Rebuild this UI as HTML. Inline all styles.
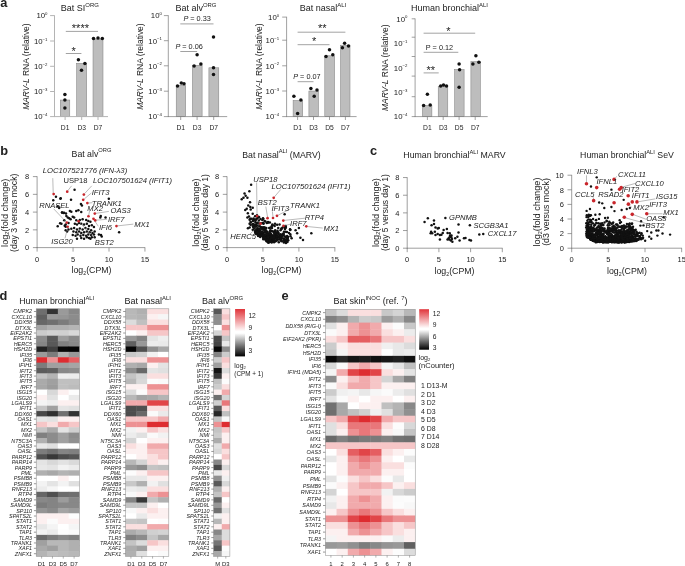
<!DOCTYPE html>
<html><head><meta charset="utf-8"><title>Figure</title>
<style>html,body{margin:0;padding:0;background:#fff}svg{display:block}text{font-family:"Liberation Sans",sans-serif;fill:#222222}</style>
</head><body>
<svg width="685" height="566" viewBox="0 0 685 566">
<rect width="685" height="566" fill="#fff"/>
<text x="0.20" y="6.70" font-size="12.8" font-weight="bold" fill="#111">a</text>
<text x="0.20" y="154.70" font-size="12.8" font-weight="bold" fill="#111">b</text>
<text x="370.00" y="154.90" font-size="12.8" font-weight="bold" fill="#111">c</text>
<text x="-0.50" y="299.60" font-size="12.8" font-weight="bold" fill="#111">d</text>
<text x="281.50" y="299.70" font-size="12.8" font-weight="bold" fill="#111">e</text>
<text x="79.80" y="11.10" font-size="9" text-anchor="middle">Bat SI<tspan font-size="0.66em" dy="-4.1">ORG</tspan></text>
<rect x="60.30" y="100.00" width="9.50" height="16.60" fill="#bdbdbd" stroke="#7d7d7d" stroke-width="0.5"/>
<rect x="76.60" y="63.30" width="10.10" height="53.30" fill="#bdbdbd" stroke="#7d7d7d" stroke-width="0.5"/>
<rect x="93.00" y="39.00" width="10.00" height="77.60" fill="#bdbdbd" stroke="#7d7d7d" stroke-width="0.5"/>
<line x1="54.50" y1="15.30" x2="54.50" y2="116.95" stroke="#b4b4b4" stroke-width="1.0"/>
<line x1="54.15" y1="116.60" x2="108.00" y2="116.60" stroke="#b4b4b4" stroke-width="1.0"/>
<line x1="50.10" y1="15.60" x2="54.50" y2="15.60" stroke="#b4b4b4" stroke-width="1.0"/>
<line x1="50.10" y1="41.00" x2="54.50" y2="41.00" stroke="#b4b4b4" stroke-width="1.0"/>
<line x1="50.10" y1="66.30" x2="54.50" y2="66.30" stroke="#b4b4b4" stroke-width="1.0"/>
<line x1="50.10" y1="91.50" x2="54.50" y2="91.50" stroke="#b4b4b4" stroke-width="1.0"/>
<line x1="50.10" y1="116.60" x2="54.50" y2="116.60" stroke="#b4b4b4" stroke-width="1.0"/>
<text x="47.50" y="18.40" font-size="7.8" text-anchor="end">10<tspan font-size="4.3" dy="-3.3">0</tspan></text>
<text x="47.50" y="43.80" font-size="7.8" text-anchor="end">10<tspan font-size="4.3" dy="-3.3">−1</tspan></text>
<text x="47.50" y="69.10" font-size="7.8" text-anchor="end">10<tspan font-size="4.3" dy="-3.3">−2</tspan></text>
<text x="47.50" y="94.30" font-size="7.8" text-anchor="end">10<tspan font-size="4.3" dy="-3.3">−3</tspan></text>
<text x="47.50" y="119.40" font-size="7.8" text-anchor="end">10<tspan font-size="4.3" dy="-3.3">−4</tspan></text>
<text x="29.50" y="66.60" font-size="8.5" text-anchor="middle" transform="rotate(-90 29.50 66.60)" textLength="86.5" lengthAdjust="spacingAndGlyphs"><tspan font-style="italic">MARV-L</tspan> RNA (relative)</text>
<line x1="65.10" y1="116.60" x2="65.10" y2="120.00" stroke="#b4b4b4" stroke-width="1.0"/>
<text x="65.10" y="130.40" font-size="7.4" text-anchor="middle" textLength="8.6" lengthAdjust="spacingAndGlyphs">D1</text>
<line x1="81.70" y1="116.60" x2="81.70" y2="120.00" stroke="#b4b4b4" stroke-width="1.0"/>
<text x="81.70" y="130.40" font-size="7.4" text-anchor="middle" textLength="8.6" lengthAdjust="spacingAndGlyphs">D3</text>
<line x1="98.00" y1="116.60" x2="98.00" y2="120.00" stroke="#b4b4b4" stroke-width="1.0"/>
<text x="98.00" y="130.40" font-size="7.4" text-anchor="middle" textLength="8.6" lengthAdjust="spacingAndGlyphs">D7</text>
<line x1="65.80" y1="31.40" x2="98.00" y2="31.40" stroke="#8a8a8a" stroke-width="0.8"/>
<text x="80.40" y="32.20" font-size="11" text-anchor="middle">****</text>
<line x1="65.80" y1="53.50" x2="81.40" y2="53.50" stroke="#8a8a8a" stroke-width="0.8"/>
<text x="73.60" y="55.20" font-size="11" text-anchor="middle">*</text>
<circle cx="64.90" cy="94.60" r="1.75" fill="#111"/>
<circle cx="64.90" cy="100.10" r="1.75" fill="#111"/>
<circle cx="64.90" cy="107.90" r="1.75" fill="#111"/>
<circle cx="78.40" cy="59.80" r="1.75" fill="#111"/>
<circle cx="84.90" cy="63.60" r="1.75" fill="#111"/>
<circle cx="81.50" cy="70.20" r="1.75" fill="#111"/>
<circle cx="93.50" cy="38.40" r="1.75" fill="#111"/>
<circle cx="98.00" cy="37.90" r="1.75" fill="#111"/>
<circle cx="102.30" cy="38.40" r="1.75" fill="#111"/>
<text x="195.90" y="11.10" font-size="9" text-anchor="middle">Bat alv<tspan font-size="0.66em" dy="-4.1">ORG</tspan></text>
<rect x="176.20" y="85.40" width="9.50" height="31.20" fill="#bdbdbd" stroke="#7d7d7d" stroke-width="0.5"/>
<rect x="192.40" y="65.30" width="9.70" height="51.30" fill="#bdbdbd" stroke="#7d7d7d" stroke-width="0.5"/>
<rect x="208.90" y="67.80" width="9.90" height="48.80" fill="#bdbdbd" stroke="#7d7d7d" stroke-width="0.5"/>
<line x1="168.30" y1="15.30" x2="168.30" y2="116.95" stroke="#787878" stroke-width="0.7"/>
<line x1="167.95" y1="116.60" x2="227.20" y2="116.60" stroke="#787878" stroke-width="0.7"/>
<line x1="163.90" y1="15.60" x2="168.30" y2="15.60" stroke="#787878" stroke-width="0.7"/>
<line x1="163.90" y1="40.70" x2="168.30" y2="40.70" stroke="#787878" stroke-width="0.7"/>
<line x1="163.90" y1="65.80" x2="168.30" y2="65.80" stroke="#787878" stroke-width="0.7"/>
<line x1="163.90" y1="91.20" x2="168.30" y2="91.20" stroke="#787878" stroke-width="0.7"/>
<line x1="163.90" y1="116.60" x2="168.30" y2="116.60" stroke="#787878" stroke-width="0.7"/>
<text x="161.90" y="18.40" font-size="7.8" text-anchor="end">10<tspan font-size="4.3" dy="-3.3">0</tspan></text>
<text x="161.90" y="43.50" font-size="7.8" text-anchor="end">10<tspan font-size="4.3" dy="-3.3">−1</tspan></text>
<text x="161.90" y="68.60" font-size="7.8" text-anchor="end">10<tspan font-size="4.3" dy="-3.3">−2</tspan></text>
<text x="161.90" y="94.00" font-size="7.8" text-anchor="end">10<tspan font-size="4.3" dy="-3.3">−3</tspan></text>
<text x="161.90" y="119.40" font-size="7.8" text-anchor="end">10<tspan font-size="4.3" dy="-3.3">−4</tspan></text>
<text x="143.10" y="66.60" font-size="8.5" text-anchor="middle" transform="rotate(-90 143.10 66.60)" textLength="86.5" lengthAdjust="spacingAndGlyphs"><tspan font-style="italic">MARV-L</tspan> RNA (relative)</text>
<line x1="180.70" y1="116.60" x2="180.70" y2="120.00" stroke="#787878" stroke-width="0.7"/>
<text x="180.70" y="130.40" font-size="7.4" text-anchor="middle" textLength="8.6" lengthAdjust="spacingAndGlyphs">D1</text>
<line x1="197.10" y1="116.60" x2="197.10" y2="120.00" stroke="#787878" stroke-width="0.7"/>
<text x="197.10" y="130.40" font-size="7.4" text-anchor="middle" textLength="8.6" lengthAdjust="spacingAndGlyphs">D3</text>
<line x1="213.70" y1="116.60" x2="213.70" y2="120.00" stroke="#787878" stroke-width="0.7"/>
<text x="213.70" y="130.40" font-size="7.4" text-anchor="middle" textLength="8.6" lengthAdjust="spacingAndGlyphs">D7</text>
<line x1="180.30" y1="23.90" x2="213.50" y2="23.90" stroke="#8a8a8a" stroke-width="0.8"/>
<text x="197.10" y="20.80" font-size="7.3" text-anchor="middle"><tspan font-style="italic">P</tspan> = 0.33</text>
<line x1="180.30" y1="51.50" x2="197.10" y2="51.50" stroke="#8a8a8a" stroke-width="0.8"/>
<text x="189.10" y="49.00" font-size="7.3" text-anchor="middle"><tspan font-style="italic">P</tspan> = 0.06</text>
<circle cx="177.50" cy="85.90" r="1.75" fill="#111"/>
<circle cx="181.30" cy="82.90" r="1.75" fill="#111"/>
<circle cx="184.00" cy="83.70" r="1.75" fill="#111"/>
<circle cx="194.10" cy="66.10" r="1.75" fill="#111"/>
<circle cx="197.10" cy="54.80" r="1.75" fill="#111"/>
<circle cx="200.90" cy="64.10" r="1.75" fill="#111"/>
<circle cx="213.50" cy="36.90" r="1.75" fill="#111"/>
<circle cx="213.50" cy="67.80" r="1.75" fill="#111"/>
<circle cx="213.50" cy="74.60" r="1.75" fill="#111"/>
<text x="323.00" y="11.10" font-size="9" text-anchor="middle">Bat nasal<tspan font-size="0.66em" dy="-4.1">ALI</tspan></text>
<rect x="293.10" y="100.50" width="9.60" height="16.10" fill="#bdbdbd" stroke="#7d7d7d" stroke-width="0.5"/>
<rect x="308.90" y="91.00" width="9.60" height="25.60" fill="#bdbdbd" stroke="#7d7d7d" stroke-width="0.5"/>
<rect x="324.80" y="55.80" width="9.80" height="60.80" fill="#bdbdbd" stroke="#7d7d7d" stroke-width="0.5"/>
<rect x="340.50" y="45.20" width="9.50" height="71.40" fill="#bdbdbd" stroke="#7d7d7d" stroke-width="0.5"/>
<line x1="286.60" y1="16.80" x2="286.60" y2="116.95" stroke="#787878" stroke-width="0.7"/>
<line x1="286.25" y1="116.60" x2="356.60" y2="116.60" stroke="#787878" stroke-width="0.7"/>
<line x1="282.20" y1="17.10" x2="286.60" y2="17.10" stroke="#787878" stroke-width="0.7"/>
<line x1="282.20" y1="40.20" x2="286.60" y2="40.20" stroke="#787878" stroke-width="0.7"/>
<line x1="282.20" y1="65.80" x2="286.60" y2="65.80" stroke="#787878" stroke-width="0.7"/>
<line x1="282.20" y1="91.00" x2="286.60" y2="91.00" stroke="#787878" stroke-width="0.7"/>
<line x1="282.20" y1="116.60" x2="286.60" y2="116.60" stroke="#787878" stroke-width="0.7"/>
<text x="279.20" y="19.90" font-size="7.8" text-anchor="end">10<tspan font-size="4.3" dy="-3.3">0</tspan></text>
<text x="279.20" y="43.00" font-size="7.8" text-anchor="end">10<tspan font-size="4.3" dy="-3.3">−1</tspan></text>
<text x="279.20" y="68.60" font-size="7.8" text-anchor="end">10<tspan font-size="4.3" dy="-3.3">−2</tspan></text>
<text x="279.20" y="93.80" font-size="7.8" text-anchor="end">10<tspan font-size="4.3" dy="-3.3">−3</tspan></text>
<text x="279.20" y="119.40" font-size="7.8" text-anchor="end">10<tspan font-size="4.3" dy="-3.3">−4</tspan></text>
<text x="262.50" y="66.60" font-size="8.5" text-anchor="middle" transform="rotate(-90 262.50 66.60)" textLength="86.5" lengthAdjust="spacingAndGlyphs"><tspan font-style="italic">MARV-L</tspan> RNA (relative)</text>
<line x1="297.60" y1="116.60" x2="297.60" y2="120.00" stroke="#787878" stroke-width="0.7"/>
<text x="297.60" y="130.40" font-size="7.4" text-anchor="middle" textLength="8.6" lengthAdjust="spacingAndGlyphs">D1</text>
<line x1="313.50" y1="116.60" x2="313.50" y2="120.00" stroke="#787878" stroke-width="0.7"/>
<text x="313.50" y="130.40" font-size="7.4" text-anchor="middle" textLength="8.6" lengthAdjust="spacingAndGlyphs">D3</text>
<line x1="329.50" y1="116.60" x2="329.50" y2="120.00" stroke="#787878" stroke-width="0.7"/>
<text x="329.50" y="130.40" font-size="7.4" text-anchor="middle" textLength="8.6" lengthAdjust="spacingAndGlyphs">D5</text>
<line x1="345.40" y1="116.60" x2="345.40" y2="120.00" stroke="#787878" stroke-width="0.7"/>
<text x="345.40" y="130.40" font-size="7.4" text-anchor="middle" textLength="8.6" lengthAdjust="spacingAndGlyphs">D7</text>
<line x1="297.60" y1="32.20" x2="345.40" y2="32.20" stroke="#8a8a8a" stroke-width="0.8"/>
<text x="322.30" y="31.60" font-size="11" text-anchor="middle">**</text>
<line x1="297.60" y1="44.70" x2="329.50" y2="44.70" stroke="#8a8a8a" stroke-width="0.8"/>
<text x="314.20" y="45.40" font-size="11" text-anchor="middle">*</text>
<line x1="297.60" y1="81.70" x2="313.50" y2="81.70" stroke="#8a8a8a" stroke-width="0.8"/>
<text x="306.90" y="79.10" font-size="7.3" text-anchor="middle"><tspan font-style="italic">P</tspan> = 0.07</text>
<circle cx="293.90" cy="96.20" r="1.75" fill="#111"/>
<circle cx="300.90" cy="100.00" r="1.75" fill="#111"/>
<circle cx="297.60" cy="113.60" r="1.75" fill="#111"/>
<circle cx="310.90" cy="88.40" r="1.75" fill="#111"/>
<circle cx="317.00" cy="89.90" r="1.75" fill="#111"/>
<circle cx="314.20" cy="96.20" r="1.75" fill="#111"/>
<circle cx="326.00" cy="56.50" r="1.75" fill="#111"/>
<circle cx="329.50" cy="49.70" r="1.75" fill="#111"/>
<circle cx="332.80" cy="54.80" r="1.75" fill="#111"/>
<circle cx="342.40" cy="47.70" r="1.75" fill="#111"/>
<circle cx="344.60" cy="43.20" r="1.75" fill="#111"/>
<circle cx="348.50" cy="46.00" r="1.75" fill="#111"/>
<text x="449.50" y="11.10" font-size="9" text-anchor="middle">Human bronchial<tspan font-size="0.66em" dy="-4.1">ALI</tspan></text>
<rect x="422.40" y="105.50" width="9.50" height="11.10" fill="#bdbdbd" stroke="#7d7d7d" stroke-width="0.5"/>
<rect x="438.20" y="86.20" width="9.60" height="30.40" fill="#bdbdbd" stroke="#7d7d7d" stroke-width="0.5"/>
<rect x="454.60" y="69.60" width="9.50" height="47.00" fill="#bdbdbd" stroke="#7d7d7d" stroke-width="0.5"/>
<rect x="470.90" y="61.60" width="9.50" height="55.00" fill="#bdbdbd" stroke="#7d7d7d" stroke-width="0.5"/>
<line x1="415.10" y1="18.50" x2="415.10" y2="116.95" stroke="#787878" stroke-width="0.7"/>
<line x1="414.75" y1="116.60" x2="487.70" y2="116.60" stroke="#787878" stroke-width="0.7"/>
<line x1="411.70" y1="18.80" x2="415.10" y2="18.80" stroke="#787878" stroke-width="0.7"/>
<line x1="411.70" y1="37.20" x2="415.10" y2="37.20" stroke="#787878" stroke-width="0.7"/>
<line x1="411.70" y1="56.50" x2="415.10" y2="56.50" stroke="#787878" stroke-width="0.7"/>
<line x1="411.70" y1="76.10" x2="415.10" y2="76.10" stroke="#787878" stroke-width="0.7"/>
<line x1="411.70" y1="96.70" x2="415.10" y2="96.70" stroke="#787878" stroke-width="0.7"/>
<line x1="411.70" y1="116.60" x2="415.10" y2="116.60" stroke="#787878" stroke-width="0.7"/>
<text x="407.40" y="21.60" font-size="7.8" text-anchor="end">10<tspan font-size="4.3" dy="-3.3">0</tspan></text>
<text x="407.40" y="46.00" font-size="7.8" text-anchor="end">10<tspan font-size="4.3" dy="-3.3">−1</tspan></text>
<text x="407.40" y="70.60" font-size="7.8" text-anchor="end">10<tspan font-size="4.3" dy="-3.3">−2</tspan></text>
<text x="407.40" y="95.00" font-size="7.8" text-anchor="end">10<tspan font-size="4.3" dy="-3.3">−3</tspan></text>
<text x="407.40" y="119.40" font-size="7.8" text-anchor="end">10<tspan font-size="4.3" dy="-3.3">−4</tspan></text>
<text x="388.00" y="67.80" font-size="8.5" text-anchor="middle" transform="rotate(-90 388.00 67.80)" textLength="86.5" lengthAdjust="spacingAndGlyphs"><tspan font-style="italic">MARV-L</tspan> RNA (relative)</text>
<line x1="427.40" y1="116.60" x2="427.40" y2="120.00" stroke="#787878" stroke-width="0.7"/>
<text x="427.40" y="130.40" font-size="7.4" text-anchor="middle" textLength="8.6" lengthAdjust="spacingAndGlyphs">D1</text>
<line x1="443.20" y1="116.60" x2="443.20" y2="120.00" stroke="#787878" stroke-width="0.7"/>
<text x="443.20" y="130.40" font-size="7.4" text-anchor="middle" textLength="8.6" lengthAdjust="spacingAndGlyphs">D3</text>
<line x1="459.10" y1="116.60" x2="459.10" y2="120.00" stroke="#787878" stroke-width="0.7"/>
<text x="459.10" y="130.40" font-size="7.4" text-anchor="middle" textLength="8.6" lengthAdjust="spacingAndGlyphs">D5</text>
<line x1="475.20" y1="116.60" x2="475.20" y2="120.00" stroke="#787878" stroke-width="0.7"/>
<text x="475.20" y="130.40" font-size="7.4" text-anchor="middle" textLength="8.6" lengthAdjust="spacingAndGlyphs">D7</text>
<line x1="423.60" y1="33.20" x2="475.20" y2="33.20" stroke="#8a8a8a" stroke-width="0.8"/>
<text x="448.30" y="34.80" font-size="11" text-anchor="middle">*</text>
<line x1="423.60" y1="52.30" x2="458.30" y2="52.30" stroke="#8a8a8a" stroke-width="0.8"/>
<text x="439.50" y="49.70" font-size="7.3" text-anchor="middle">P = 0.12</text>
<line x1="423.60" y1="72.90" x2="438.70" y2="72.90" stroke="#8a8a8a" stroke-width="0.8"/>
<text x="430.70" y="74.30" font-size="11" text-anchor="middle">**</text>
<circle cx="427.40" cy="94.20" r="1.75" fill="#111"/>
<circle cx="423.60" cy="105.50" r="1.75" fill="#111"/>
<circle cx="430.20" cy="105.00" r="1.75" fill="#111"/>
<circle cx="440.70" cy="85.90" r="1.75" fill="#111"/>
<circle cx="443.50" cy="84.90" r="1.75" fill="#111"/>
<circle cx="446.50" cy="85.90" r="1.75" fill="#111"/>
<circle cx="459.10" cy="64.10" r="1.75" fill="#111"/>
<circle cx="459.60" cy="69.80" r="1.75" fill="#111"/>
<circle cx="459.10" cy="87.20" r="1.75" fill="#111"/>
<circle cx="475.90" cy="55.80" r="1.75" fill="#111"/>
<circle cx="472.90" cy="64.10" r="1.75" fill="#111"/>
<circle cx="478.90" cy="62.30" r="1.75" fill="#111"/>
<line x1="37.10" y1="176.30" x2="37.10" y2="247.90" stroke="#6a6a6a" stroke-width="0.65"/>
<line x1="36.80" y1="247.60" x2="145.20" y2="247.60" stroke="#6a6a6a" stroke-width="0.65"/>
<line x1="32.90" y1="247.60" x2="37.10" y2="247.60" stroke="#6a6a6a" stroke-width="0.65"/>
<text x="29.20" y="250.30" font-size="7.5" text-anchor="end">0</text>
<line x1="32.90" y1="229.85" x2="37.10" y2="229.85" stroke="#6a6a6a" stroke-width="0.65"/>
<text x="29.20" y="232.55" font-size="7.5" text-anchor="end">2</text>
<line x1="32.90" y1="212.10" x2="37.10" y2="212.10" stroke="#6a6a6a" stroke-width="0.65"/>
<text x="29.20" y="214.80" font-size="7.5" text-anchor="end">4</text>
<line x1="32.90" y1="194.35" x2="37.10" y2="194.35" stroke="#6a6a6a" stroke-width="0.65"/>
<text x="29.20" y="197.05" font-size="7.5" text-anchor="end">6</text>
<line x1="32.90" y1="176.60" x2="37.10" y2="176.60" stroke="#6a6a6a" stroke-width="0.65"/>
<text x="29.20" y="179.30" font-size="7.5" text-anchor="end">8</text>
<line x1="37.10" y1="247.60" x2="37.10" y2="251.60" stroke="#6a6a6a" stroke-width="0.65"/>
<text x="37.10" y="261.60" font-size="7.5" text-anchor="middle">0</text>
<line x1="73.05" y1="247.60" x2="73.05" y2="251.60" stroke="#6a6a6a" stroke-width="0.65"/>
<text x="73.05" y="261.60" font-size="7.5" text-anchor="middle">5</text>
<line x1="109.00" y1="247.60" x2="109.00" y2="251.60" stroke="#6a6a6a" stroke-width="0.65"/>
<text x="109.00" y="261.60" font-size="7.5" text-anchor="middle">10</text>
<line x1="144.95" y1="247.60" x2="144.95" y2="251.60" stroke="#6a6a6a" stroke-width="0.65"/>
<text x="144.95" y="261.60" font-size="7.5" text-anchor="middle">15</text>
<text x="91.50" y="156.50" font-size="8.75" text-anchor="middle">Bat alv<tspan font-size="0.66em" dy="-4.1">ORG</tspan></text>
<text x="7.60" y="212.80" font-size="9" text-anchor="middle" transform="rotate(-90 7.60 212.80)" textLength="68.2" lengthAdjust="spacingAndGlyphs">log<tspan font-size="0.6em" dy="1.8">2</tspan><tspan dy="-1.8">(fold change)</tspan></text>
<text x="17.30" y="212.80" font-size="9" text-anchor="middle" transform="rotate(-90 17.30 212.80)" textLength="78.4" lengthAdjust="spacingAndGlyphs">(day 3 versus mock)</text>
<text x="91.50" y="273.20" font-size="9" text-anchor="middle" textLength="40.0" lengthAdjust="spacingAndGlyphs">log<tspan font-size="0.6em" dy="1.8">2</tspan><tspan dy="-1.8">(CPM)</tspan></text>
<circle cx="74.57" cy="189.85" r="1.25" fill="#111"/>
<circle cx="71.03" cy="199.75" r="1.25" fill="#111"/>
<circle cx="60.71" cy="198.34" r="1.25" fill="#111"/>
<circle cx="108.80" cy="198.76" r="1.25" fill="#111"/>
<circle cx="80.93" cy="204.00" r="1.25" fill="#111"/>
<circle cx="81.92" cy="205.41" r="1.25" fill="#111"/>
<circle cx="62.12" cy="212.48" r="1.25" fill="#111"/>
<circle cx="63.54" cy="212.91" r="1.25" fill="#111"/>
<circle cx="69.90" cy="211.07" r="1.25" fill="#111"/>
<circle cx="71.32" cy="211.78" r="1.25" fill="#111"/>
<circle cx="76.27" cy="211.07" r="1.25" fill="#111"/>
<circle cx="78.39" cy="210.36" r="1.25" fill="#111"/>
<circle cx="81.22" cy="212.06" r="1.25" fill="#111"/>
<circle cx="66.36" cy="216.02" r="1.25" fill="#111"/>
<circle cx="67.78" cy="217.43" r="1.25" fill="#111"/>
<circle cx="69.19" cy="218.14" r="1.25" fill="#111"/>
<circle cx="70.61" cy="219.13" r="1.25" fill="#111"/>
<circle cx="72.73" cy="216.73" r="1.25" fill="#111"/>
<circle cx="74.14" cy="217.43" r="1.25" fill="#111"/>
<circle cx="100.74" cy="216.02" r="1.25" fill="#111"/>
<circle cx="100.31" cy="217.43" r="1.25" fill="#111"/>
<circle cx="105.54" cy="217.43" r="1.25" fill="#111"/>
<circle cx="64.24" cy="220.26" r="1.25" fill="#111"/>
<circle cx="61.41" cy="223.80" r="1.25" fill="#111"/>
<circle cx="65.66" cy="226.63" r="1.25" fill="#111"/>
<circle cx="68.49" cy="223.09" r="1.25" fill="#111"/>
<circle cx="76.27" cy="220.26" r="1.25" fill="#111"/>
<circle cx="79.80" cy="219.98" r="1.25" fill="#111"/>
<circle cx="82.63" cy="219.13" r="1.25" fill="#111"/>
<circle cx="86.17" cy="219.98" r="1.25" fill="#111"/>
<circle cx="88.29" cy="220.97" r="1.25" fill="#111"/>
<circle cx="90.41" cy="221.68" r="1.25" fill="#111"/>
<circle cx="74.85" cy="223.80" r="1.25" fill="#111"/>
<circle cx="76.97" cy="224.50" r="1.25" fill="#111"/>
<circle cx="79.09" cy="223.09" r="1.25" fill="#111"/>
<circle cx="81.22" cy="223.80" r="1.25" fill="#111"/>
<circle cx="84.05" cy="224.50" r="1.25" fill="#111"/>
<circle cx="86.87" cy="223.80" r="1.25" fill="#111"/>
<circle cx="89.00" cy="225.92" r="1.25" fill="#111"/>
<circle cx="91.82" cy="225.21" r="1.25" fill="#111"/>
<circle cx="93.95" cy="227.05" r="1.25" fill="#111"/>
<circle cx="68.49" cy="229.46" r="1.25" fill="#111"/>
<circle cx="71.32" cy="228.75" r="1.25" fill="#111"/>
<circle cx="74.14" cy="228.04" r="1.25" fill="#111"/>
<circle cx="76.97" cy="229.46" r="1.25" fill="#111"/>
<circle cx="79.80" cy="228.47" r="1.25" fill="#111"/>
<circle cx="82.63" cy="229.46" r="1.25" fill="#111"/>
<circle cx="85.46" cy="228.04" r="1.25" fill="#111"/>
<circle cx="88.29" cy="229.03" r="1.25" fill="#111"/>
<circle cx="91.12" cy="230.16" r="1.25" fill="#111"/>
<circle cx="67.07" cy="231.58" r="1.25" fill="#111"/>
<circle cx="73.44" cy="231.58" r="1.25" fill="#111"/>
<circle cx="76.27" cy="232.28" r="1.25" fill="#111"/>
<circle cx="79.09" cy="231.58" r="1.25" fill="#111"/>
<circle cx="81.22" cy="232.99" r="1.25" fill="#111"/>
<circle cx="84.05" cy="232.28" r="1.25" fill="#111"/>
<circle cx="86.87" cy="231.58" r="1.25" fill="#111"/>
<circle cx="89.70" cy="232.28" r="1.25" fill="#111"/>
<circle cx="92.53" cy="232.99" r="1.25" fill="#111"/>
<circle cx="94.65" cy="231.58" r="1.25" fill="#111"/>
<circle cx="72.73" cy="235.11" r="1.25" fill="#111"/>
<circle cx="75.56" cy="235.82" r="1.25" fill="#111"/>
<circle cx="77.68" cy="234.41" r="1.25" fill="#111"/>
<circle cx="80.51" cy="235.82" r="1.25" fill="#111"/>
<circle cx="83.34" cy="235.11" r="1.25" fill="#111"/>
<circle cx="86.17" cy="235.82" r="1.25" fill="#111"/>
<circle cx="88.29" cy="234.41" r="1.25" fill="#111"/>
<circle cx="91.12" cy="235.11" r="1.25" fill="#111"/>
<circle cx="93.95" cy="234.41" r="1.25" fill="#111"/>
<circle cx="98.90" cy="234.41" r="1.25" fill="#111"/>
<circle cx="101.02" cy="235.11" r="1.25" fill="#111"/>
<circle cx="101.73" cy="236.53" r="1.25" fill="#111"/>
<circle cx="76.97" cy="238.65" r="1.25" fill="#111"/>
<circle cx="81.22" cy="237.94" r="1.25" fill="#111"/>
<circle cx="84.05" cy="238.65" r="1.25" fill="#111"/>
<circle cx="86.87" cy="237.23" r="1.25" fill="#111"/>
<circle cx="89.00" cy="237.94" r="1.25" fill="#111"/>
<circle cx="90.41" cy="238.65" r="1.25" fill="#111"/>
<circle cx="91.82" cy="237.23" r="1.25" fill="#111"/>
<circle cx="94.65" cy="237.23" r="1.25" fill="#111"/>
<circle cx="119.12" cy="232.28" r="1.25" fill="#111"/>
<circle cx="60.41" cy="198.70" r="1.25" fill="#111"/>
<circle cx="55.96" cy="196.80" r="1.25" fill="#111"/>
<circle cx="53.26" cy="200.29" r="1.25" fill="#111"/>
<circle cx="59.14" cy="207.93" r="1.25" fill="#111"/>
<circle cx="57.55" cy="206.34" r="1.25" fill="#111"/>
<circle cx="62.00" cy="212.38" r="1.25" fill="#111"/>
<circle cx="64.07" cy="212.69" r="1.25" fill="#111"/>
<circle cx="65.98" cy="213.49" r="1.25" fill="#111"/>
<circle cx="60.10" cy="223.35" r="1.25" fill="#111"/>
<circle cx="57.71" cy="226.21" r="1.25" fill="#111"/>
<circle cx="64.71" cy="225.73" r="1.25" fill="#111"/>
<circle cx="65.66" cy="224.62" r="1.25" fill="#111"/>
<circle cx="65.66" cy="230.18" r="1.25" fill="#111"/>
<circle cx="53.65" cy="194.12" r="1.35" fill="#c9252b"/>
<circle cx="67.22" cy="191.71" r="1.35" fill="#c9252b"/>
<circle cx="83.86" cy="194.56" r="1.35" fill="#c9252b"/>
<circle cx="83.21" cy="199.81" r="1.35" fill="#c9252b"/>
<circle cx="87.37" cy="203.10" r="1.35" fill="#c9252b"/>
<circle cx="94.81" cy="213.61" r="1.35" fill="#c9252b"/>
<circle cx="88.46" cy="216.24" r="1.35" fill="#c9252b"/>
<circle cx="93.50" cy="218.86" r="1.35" fill="#c9252b"/>
<circle cx="95.25" cy="220.40" r="1.35" fill="#c9252b"/>
<circle cx="78.61" cy="221.27" r="1.35" fill="#c9252b"/>
<circle cx="66.79" cy="222.59" r="1.35" fill="#c9252b"/>
<circle cx="67.66" cy="226.75" r="1.35" fill="#c9252b"/>
<circle cx="116.49" cy="226.09" r="1.35" fill="#c9252b"/>
<line x1="52.77" y1="178.14" x2="53.21" y2="193.03" stroke="#777" stroke-width="0.5"/>
<line x1="71.60" y1="185.80" x2="67.88" y2="190.62" stroke="#777" stroke-width="0.5"/>
<line x1="91.75" y1="185.80" x2="84.74" y2="193.47" stroke="#777" stroke-width="0.5"/>
<line x1="91.31" y1="193.03" x2="84.30" y2="198.94" stroke="#777" stroke-width="0.5"/>
<line x1="92.40" y1="202.66" x2="88.24" y2="203.10" stroke="#777" stroke-width="0.5"/>
<line x1="108.83" y1="211.42" x2="95.69" y2="213.39" stroke="#777" stroke-width="0.5"/>
<line x1="89.56" y1="210.98" x2="88.68" y2="215.36" stroke="#777" stroke-width="0.5"/>
<line x1="107.07" y1="219.30" x2="96.13" y2="220.18" stroke="#777" stroke-width="0.5"/>
<line x1="98.32" y1="226.31" x2="94.81" y2="221.05" stroke="#777" stroke-width="0.5"/>
<line x1="133.35" y1="224.12" x2="117.58" y2="225.87" stroke="#777" stroke-width="0.5"/>
<line x1="53.65" y1="208.79" x2="66.13" y2="221.93" stroke="#777" stroke-width="0.5"/>
<line x1="65.03" y1="238.35" x2="67.66" y2="227.62" stroke="#777" stroke-width="0.5"/>
<line x1="95.69" y1="239.45" x2="79.49" y2="222.37" stroke="#777" stroke-width="0.5"/>
<text x="42.70" y="172.88" font-size="7.6" font-style="italic" textLength="84.5" lengthAdjust="spacingAndGlyphs">LOC107521776 (IFN-λ3)</text>
<text x="63.50" y="183.39" font-size="7.6">USP18</text>
<text x="93.06" y="183.39" font-size="7.6" font-style="italic" textLength="79.0" lengthAdjust="spacingAndGlyphs">LOC107501624 (IFIT1)</text>
<text x="91.75" y="194.56" font-size="7.6" font-style="italic">IFIT3</text>
<text x="91.75" y="205.51" font-size="7.6" font-style="italic">TRANK1</text>
<text x="110.58" y="212.73" font-size="7.6" font-style="italic">OAS3</text>
<text x="87.37" y="211.42" font-size="7.6" font-style="italic">MX2</text>
<text x="107.95" y="221.93" font-size="7.6" font-style="italic">IRF7</text>
<text x="98.97" y="230.25" font-size="7.6" font-style="italic">IFI6</text>
<text x="134.23" y="226.53" font-size="7.6" font-style="italic">MX1</text>
<text x="39.20" y="207.70" font-size="7.6" font-style="italic">RNASEL</text>
<text x="51.24" y="244.26" font-size="7.6" font-style="italic">ISG20</text>
<text x="94.81" y="245.36" font-size="7.6" font-style="italic">BST2</text>
<line x1="227.00" y1="176.30" x2="227.00" y2="247.90" stroke="#6a6a6a" stroke-width="0.65"/>
<line x1="226.70" y1="247.60" x2="335.20" y2="247.60" stroke="#6a6a6a" stroke-width="0.65"/>
<line x1="222.80" y1="247.60" x2="227.00" y2="247.60" stroke="#6a6a6a" stroke-width="0.65"/>
<text x="219.10" y="250.30" font-size="7.5" text-anchor="end">0</text>
<line x1="222.80" y1="229.85" x2="227.00" y2="229.85" stroke="#6a6a6a" stroke-width="0.65"/>
<text x="219.10" y="232.55" font-size="7.5" text-anchor="end">2</text>
<line x1="222.80" y1="212.10" x2="227.00" y2="212.10" stroke="#6a6a6a" stroke-width="0.65"/>
<text x="219.10" y="214.80" font-size="7.5" text-anchor="end">4</text>
<line x1="222.80" y1="194.35" x2="227.00" y2="194.35" stroke="#6a6a6a" stroke-width="0.65"/>
<text x="219.10" y="197.05" font-size="7.5" text-anchor="end">6</text>
<line x1="222.80" y1="176.60" x2="227.00" y2="176.60" stroke="#6a6a6a" stroke-width="0.65"/>
<text x="219.10" y="179.30" font-size="7.5" text-anchor="end">8</text>
<line x1="227.00" y1="247.60" x2="227.00" y2="251.60" stroke="#6a6a6a" stroke-width="0.65"/>
<text x="227.00" y="261.60" font-size="7.5" text-anchor="middle">0</text>
<line x1="262.95" y1="247.60" x2="262.95" y2="251.60" stroke="#6a6a6a" stroke-width="0.65"/>
<text x="262.95" y="261.60" font-size="7.5" text-anchor="middle">5</text>
<line x1="298.90" y1="247.60" x2="298.90" y2="251.60" stroke="#6a6a6a" stroke-width="0.65"/>
<text x="298.90" y="261.60" font-size="7.5" text-anchor="middle">10</text>
<line x1="334.85" y1="247.60" x2="334.85" y2="251.60" stroke="#6a6a6a" stroke-width="0.65"/>
<text x="334.85" y="261.60" font-size="7.5" text-anchor="middle">15</text>
<text x="281.50" y="157.50" font-size="8.75" text-anchor="middle">Bat nasal<tspan font-size="0.66em" dy="-4.1">ALI</tspan><tspan dy="4.1"> (MARV)</tspan></text>
<text x="199.00" y="212.60" font-size="9" text-anchor="middle" transform="rotate(-90 199.00 212.60)" textLength="68.2" lengthAdjust="spacingAndGlyphs">log<tspan font-size="0.6em" dy="1.8">2</tspan><tspan dy="-1.8">(fold change)</tspan></text>
<text x="208.30" y="212.60" font-size="9" text-anchor="middle" transform="rotate(-90 208.30 212.60)" textLength="77.0" lengthAdjust="spacingAndGlyphs">(day 5 versus day 1)</text>
<text x="281.50" y="273.20" font-size="9" text-anchor="middle" textLength="40.0" lengthAdjust="spacingAndGlyphs">log<tspan font-size="0.6em" dy="1.8">2</tspan><tspan dy="-1.8">(CPM)</tspan></text>
<circle cx="251.13" cy="184.71" r="1.25" fill="#111"/>
<circle cx="249.38" cy="191.28" r="1.25" fill="#111"/>
<circle cx="244.56" cy="193.47" r="1.25" fill="#111"/>
<circle cx="245.65" cy="195.65" r="1.25" fill="#111"/>
<circle cx="241.71" cy="199.16" r="1.25" fill="#111"/>
<circle cx="243.47" cy="197.84" r="1.25" fill="#111"/>
<circle cx="247.41" cy="197.84" r="1.25" fill="#111"/>
<circle cx="250.03" cy="202.22" r="1.25" fill="#111"/>
<circle cx="248.28" cy="205.51" r="1.25" fill="#111"/>
<circle cx="246.75" cy="208.79" r="1.25" fill="#111"/>
<circle cx="247.84" cy="213.17" r="1.25" fill="#111"/>
<circle cx="248.94" cy="216.46" r="1.25" fill="#111"/>
<circle cx="284.63" cy="214.27" r="1.25" fill="#111"/>
<circle cx="298.86" cy="228.06" r="1.25" fill="#111"/>
<circle cx="295.58" cy="230.25" r="1.25" fill="#111"/>
<circle cx="297.11" cy="233.32" r="1.25" fill="#111"/>
<circle cx="300.40" cy="237.70" r="1.25" fill="#111"/>
<circle cx="303.02" cy="240.10" r="1.25" fill="#111"/>
<circle cx="311.34" cy="233.32" r="1.25" fill="#111"/>
<circle cx="290.54" cy="236.16" r="1.25" fill="#111"/>
<circle cx="291.64" cy="238.35" r="1.25" fill="#111"/>
<circle cx="245.22" cy="209.89" r="1.25" fill="#111"/>
<circle cx="249.60" cy="219.74" r="1.25" fill="#111"/>
<circle cx="247.41" cy="217.55" r="1.25" fill="#111"/>
<circle cx="251.13" cy="218.65" r="1.25" fill="#111"/>
<circle cx="271.79" cy="236.76" r="1.25" fill="#111"/>
<circle cx="258.22" cy="236.10" r="1.25" fill="#111"/>
<circle cx="270.15" cy="237.81" r="1.25" fill="#111"/>
<circle cx="258.87" cy="220.50" r="1.25" fill="#111"/>
<circle cx="260.47" cy="233.03" r="1.25" fill="#111"/>
<circle cx="270.29" cy="230.24" r="1.25" fill="#111"/>
<circle cx="276.33" cy="236.73" r="1.25" fill="#111"/>
<circle cx="270.19" cy="239.10" r="1.25" fill="#111"/>
<circle cx="260.16" cy="237.07" r="1.25" fill="#111"/>
<circle cx="255.77" cy="220.05" r="1.25" fill="#111"/>
<circle cx="277.68" cy="239.67" r="1.25" fill="#111"/>
<circle cx="276.66" cy="238.93" r="1.25" fill="#111"/>
<circle cx="266.66" cy="233.49" r="1.25" fill="#111"/>
<circle cx="274.83" cy="231.34" r="1.25" fill="#111"/>
<circle cx="266.58" cy="241.27" r="1.25" fill="#111"/>
<circle cx="260.29" cy="230.60" r="1.25" fill="#111"/>
<circle cx="267.62" cy="238.94" r="1.25" fill="#111"/>
<circle cx="274.05" cy="242.15" r="1.25" fill="#111"/>
<circle cx="273.39" cy="241.79" r="1.25" fill="#111"/>
<circle cx="256.94" cy="227.16" r="1.25" fill="#111"/>
<circle cx="265.07" cy="238.52" r="1.25" fill="#111"/>
<circle cx="255.08" cy="231.38" r="1.25" fill="#111"/>
<circle cx="277.43" cy="236.54" r="1.25" fill="#111"/>
<circle cx="265.41" cy="221.55" r="1.25" fill="#111"/>
<circle cx="266.79" cy="231.78" r="1.25" fill="#111"/>
<circle cx="257.78" cy="235.00" r="1.25" fill="#111"/>
<circle cx="257.46" cy="229.80" r="1.25" fill="#111"/>
<circle cx="269.58" cy="232.02" r="1.25" fill="#111"/>
<circle cx="260.90" cy="234.05" r="1.25" fill="#111"/>
<circle cx="250.29" cy="206.89" r="1.25" fill="#111"/>
<circle cx="283.80" cy="226.24" r="1.25" fill="#111"/>
<circle cx="280.69" cy="239.64" r="1.25" fill="#111"/>
<circle cx="268.00" cy="222.43" r="1.25" fill="#111"/>
<circle cx="267.03" cy="232.07" r="1.25" fill="#111"/>
<circle cx="283.96" cy="231.78" r="1.25" fill="#111"/>
<circle cx="260.17" cy="235.17" r="1.25" fill="#111"/>
<circle cx="256.53" cy="224.12" r="1.25" fill="#111"/>
<circle cx="266.45" cy="237.59" r="1.25" fill="#111"/>
<circle cx="268.40" cy="236.17" r="1.25" fill="#111"/>
<circle cx="262.98" cy="223.11" r="1.25" fill="#111"/>
<circle cx="256.56" cy="216.08" r="1.25" fill="#111"/>
<circle cx="272.28" cy="224.38" r="1.25" fill="#111"/>
<circle cx="267.05" cy="241.37" r="1.25" fill="#111"/>
<circle cx="272.67" cy="240.90" r="1.25" fill="#111"/>
<circle cx="278.80" cy="242.20" r="1.25" fill="#111"/>
<circle cx="272.85" cy="238.69" r="1.25" fill="#111"/>
<circle cx="255.54" cy="219.43" r="1.25" fill="#111"/>
<circle cx="289.01" cy="233.05" r="1.25" fill="#111"/>
<circle cx="277.23" cy="238.34" r="1.25" fill="#111"/>
<circle cx="257.17" cy="229.34" r="1.25" fill="#111"/>
<circle cx="252.74" cy="207.68" r="1.25" fill="#111"/>
<circle cx="273.96" cy="238.72" r="1.25" fill="#111"/>
<circle cx="264.76" cy="234.63" r="1.25" fill="#111"/>
<circle cx="258.41" cy="235.39" r="1.25" fill="#111"/>
<circle cx="254.01" cy="229.35" r="1.25" fill="#111"/>
<circle cx="253.41" cy="219.26" r="1.25" fill="#111"/>
<circle cx="269.50" cy="235.32" r="1.25" fill="#111"/>
<circle cx="247.95" cy="228.30" r="1.25" fill="#111"/>
<circle cx="282.66" cy="233.67" r="1.25" fill="#111"/>
<circle cx="280.53" cy="230.26" r="1.25" fill="#111"/>
<circle cx="269.05" cy="242.24" r="1.25" fill="#111"/>
<circle cx="257.68" cy="222.66" r="1.25" fill="#111"/>
<circle cx="255.29" cy="222.00" r="1.25" fill="#111"/>
<circle cx="255.93" cy="230.82" r="1.25" fill="#111"/>
<circle cx="268.00" cy="222.06" r="1.25" fill="#111"/>
<circle cx="266.77" cy="223.05" r="1.25" fill="#111"/>
<circle cx="249.55" cy="223.72" r="1.25" fill="#111"/>
<circle cx="270.91" cy="238.68" r="1.25" fill="#111"/>
<circle cx="279.86" cy="235.57" r="1.25" fill="#111"/>
<circle cx="269.36" cy="238.36" r="1.25" fill="#111"/>
<circle cx="266.32" cy="227.97" r="1.25" fill="#111"/>
<circle cx="259.67" cy="233.28" r="1.25" fill="#111"/>
<circle cx="274.98" cy="223.67" r="1.25" fill="#111"/>
<circle cx="259.53" cy="223.38" r="1.25" fill="#111"/>
<circle cx="254.81" cy="230.41" r="1.25" fill="#111"/>
<circle cx="257.01" cy="215.14" r="1.25" fill="#111"/>
<circle cx="284.67" cy="227.38" r="1.25" fill="#111"/>
<circle cx="266.58" cy="235.79" r="1.25" fill="#111"/>
<circle cx="284.19" cy="240.67" r="1.25" fill="#111"/>
<circle cx="263.35" cy="223.14" r="1.25" fill="#111"/>
<circle cx="271.76" cy="230.95" r="1.25" fill="#111"/>
<circle cx="267.76" cy="222.47" r="1.25" fill="#111"/>
<circle cx="269.23" cy="240.88" r="1.25" fill="#111"/>
<circle cx="261.06" cy="223.30" r="1.25" fill="#111"/>
<circle cx="250.67" cy="224.92" r="1.25" fill="#111"/>
<circle cx="260.46" cy="219.07" r="1.25" fill="#111"/>
<circle cx="284.78" cy="239.76" r="1.25" fill="#111"/>
<circle cx="274.05" cy="236.04" r="1.25" fill="#111"/>
<circle cx="275.09" cy="238.22" r="1.25" fill="#111"/>
<circle cx="270.92" cy="239.55" r="1.25" fill="#111"/>
<circle cx="270.49" cy="240.92" r="1.25" fill="#111"/>
<circle cx="277.11" cy="224.83" r="1.25" fill="#111"/>
<circle cx="274.93" cy="238.38" r="1.25" fill="#111"/>
<circle cx="254.73" cy="229.38" r="1.25" fill="#111"/>
<circle cx="270.18" cy="237.71" r="1.25" fill="#111"/>
<circle cx="278.99" cy="239.30" r="1.25" fill="#111"/>
<circle cx="257.67" cy="233.86" r="1.25" fill="#111"/>
<circle cx="263.01" cy="237.75" r="1.25" fill="#111"/>
<circle cx="255.09" cy="216.34" r="1.25" fill="#111"/>
<circle cx="268.68" cy="233.41" r="1.25" fill="#111"/>
<circle cx="270.07" cy="235.78" r="1.25" fill="#111"/>
<circle cx="266.26" cy="231.89" r="1.25" fill="#111"/>
<circle cx="274.99" cy="234.33" r="1.25" fill="#111"/>
<circle cx="271.52" cy="240.57" r="1.25" fill="#111"/>
<circle cx="250.55" cy="221.87" r="1.25" fill="#111"/>
<circle cx="253.54" cy="224.12" r="1.25" fill="#111"/>
<circle cx="257.21" cy="228.94" r="1.25" fill="#111"/>
<circle cx="260.16" cy="235.76" r="1.25" fill="#111"/>
<circle cx="273.19" cy="231.47" r="1.25" fill="#111"/>
<circle cx="265.28" cy="236.10" r="1.25" fill="#111"/>
<circle cx="269.17" cy="227.89" r="1.25" fill="#111"/>
<circle cx="258.01" cy="225.96" r="1.25" fill="#111"/>
<circle cx="283.94" cy="238.61" r="1.25" fill="#111"/>
<circle cx="257.34" cy="228.81" r="1.25" fill="#111"/>
<circle cx="254.40" cy="220.07" r="1.25" fill="#111"/>
<circle cx="264.51" cy="220.90" r="1.25" fill="#111"/>
<circle cx="256.86" cy="218.63" r="1.25" fill="#111"/>
<circle cx="288.27" cy="240.14" r="1.25" fill="#111"/>
<circle cx="262.26" cy="220.10" r="1.25" fill="#111"/>
<circle cx="259.72" cy="235.66" r="1.25" fill="#111"/>
<circle cx="262.88" cy="235.67" r="1.25" fill="#111"/>
<circle cx="269.35" cy="238.33" r="1.25" fill="#111"/>
<circle cx="270.23" cy="240.11" r="1.25" fill="#111"/>
<circle cx="258.38" cy="234.55" r="1.25" fill="#111"/>
<circle cx="255.99" cy="233.88" r="1.25" fill="#111"/>
<circle cx="264.03" cy="236.38" r="1.25" fill="#111"/>
<circle cx="271.20" cy="230.89" r="1.25" fill="#111"/>
<circle cx="286.46" cy="239.82" r="1.25" fill="#111"/>
<circle cx="252.73" cy="224.24" r="1.25" fill="#111"/>
<circle cx="286.18" cy="241.25" r="1.25" fill="#111"/>
<circle cx="290.15" cy="229.74" r="1.25" fill="#111"/>
<circle cx="264.75" cy="227.45" r="1.25" fill="#111"/>
<circle cx="267.56" cy="240.17" r="1.25" fill="#111"/>
<circle cx="273.12" cy="238.49" r="1.25" fill="#111"/>
<circle cx="276.33" cy="235.26" r="1.25" fill="#111"/>
<circle cx="262.89" cy="228.81" r="1.25" fill="#111"/>
<circle cx="267.68" cy="241.62" r="1.25" fill="#111"/>
<circle cx="264.81" cy="229.26" r="1.25" fill="#111"/>
<circle cx="265.13" cy="231.02" r="1.25" fill="#111"/>
<circle cx="257.19" cy="230.40" r="1.25" fill="#111"/>
<circle cx="274.35" cy="234.40" r="1.25" fill="#111"/>
<circle cx="271.93" cy="239.03" r="1.25" fill="#111"/>
<circle cx="268.22" cy="241.80" r="1.25" fill="#111"/>
<circle cx="268.14" cy="236.07" r="1.25" fill="#111"/>
<circle cx="261.72" cy="232.46" r="1.25" fill="#111"/>
<circle cx="273.83" cy="240.36" r="1.25" fill="#111"/>
<circle cx="280.17" cy="238.98" r="1.25" fill="#111"/>
<circle cx="258.95" cy="230.99" r="1.25" fill="#111"/>
<circle cx="270.89" cy="237.53" r="1.25" fill="#111"/>
<circle cx="281.38" cy="228.62" r="1.25" fill="#111"/>
<circle cx="270.95" cy="238.52" r="1.25" fill="#111"/>
<circle cx="269.87" cy="222.59" r="1.25" fill="#111"/>
<circle cx="253.55" cy="227.01" r="1.25" fill="#111"/>
<circle cx="270.88" cy="240.67" r="1.25" fill="#111"/>
<circle cx="274.43" cy="232.94" r="1.25" fill="#111"/>
<circle cx="268.36" cy="234.92" r="1.25" fill="#111"/>
<circle cx="276.01" cy="237.00" r="1.25" fill="#111"/>
<circle cx="257.40" cy="230.69" r="1.25" fill="#111"/>
<circle cx="264.79" cy="239.00" r="1.25" fill="#111"/>
<circle cx="263.30" cy="239.26" r="1.25" fill="#111"/>
<circle cx="256.10" cy="230.19" r="1.25" fill="#111"/>
<circle cx="287.10" cy="241.86" r="1.25" fill="#111"/>
<circle cx="250.88" cy="222.43" r="1.25" fill="#111"/>
<circle cx="262.29" cy="232.85" r="1.25" fill="#111"/>
<circle cx="271.31" cy="234.63" r="1.25" fill="#111"/>
<circle cx="256.68" cy="223.09" r="1.25" fill="#111"/>
<circle cx="252.71" cy="213.63" r="1.25" fill="#111"/>
<circle cx="271.77" cy="235.48" r="1.25" fill="#111"/>
<circle cx="262.97" cy="236.95" r="1.25" fill="#111"/>
<circle cx="288.04" cy="236.90" r="1.25" fill="#111"/>
<circle cx="261.54" cy="228.09" r="1.25" fill="#111"/>
<circle cx="265.58" cy="236.44" r="1.25" fill="#111"/>
<circle cx="287.40" cy="241.94" r="1.25" fill="#111"/>
<circle cx="266.14" cy="230.54" r="1.25" fill="#111"/>
<circle cx="257.81" cy="217.75" r="1.25" fill="#111"/>
<circle cx="284.98" cy="229.07" r="1.25" fill="#111"/>
<circle cx="256.17" cy="228.53" r="1.25" fill="#111"/>
<circle cx="253.49" cy="218.46" r="1.25" fill="#111"/>
<circle cx="276.53" cy="236.69" r="1.25" fill="#111"/>
<circle cx="278.23" cy="227.95" r="1.25" fill="#111"/>
<circle cx="262.42" cy="231.42" r="1.25" fill="#111"/>
<circle cx="266.51" cy="232.50" r="1.25" fill="#111"/>
<circle cx="268.10" cy="235.78" r="1.25" fill="#111"/>
<circle cx="272.40" cy="240.49" r="1.25" fill="#111"/>
<circle cx="273.85" cy="232.42" r="1.25" fill="#111"/>
<circle cx="253.34" cy="226.96" r="1.25" fill="#111"/>
<circle cx="266.56" cy="237.36" r="1.25" fill="#111"/>
<circle cx="250.69" cy="209.46" r="1.25" fill="#111"/>
<circle cx="269.61" cy="241.98" r="1.25" fill="#111"/>
<circle cx="268.24" cy="242.66" r="1.25" fill="#111"/>
<circle cx="263.76" cy="235.17" r="1.25" fill="#111"/>
<circle cx="259.98" cy="232.90" r="1.25" fill="#111"/>
<circle cx="263.21" cy="233.02" r="1.25" fill="#111"/>
<circle cx="253.85" cy="225.28" r="1.25" fill="#111"/>
<circle cx="265.10" cy="239.26" r="1.25" fill="#111"/>
<circle cx="275.28" cy="240.89" r="1.25" fill="#111"/>
<circle cx="283.87" cy="242.58" r="1.25" fill="#111"/>
<circle cx="278.51" cy="234.01" r="1.25" fill="#111"/>
<circle cx="276.71" cy="235.08" r="1.25" fill="#111"/>
<circle cx="281.37" cy="240.72" r="1.25" fill="#111"/>
<circle cx="268.81" cy="240.75" r="1.25" fill="#111"/>
<circle cx="277.19" cy="235.96" r="1.25" fill="#111"/>
<circle cx="276.77" cy="232.70" r="1.25" fill="#111"/>
<circle cx="258.90" cy="234.46" r="1.25" fill="#111"/>
<circle cx="269.91" cy="231.14" r="1.25" fill="#111"/>
<circle cx="277.86" cy="236.22" r="1.25" fill="#111"/>
<circle cx="257.40" cy="233.78" r="1.25" fill="#111"/>
<circle cx="276.43" cy="233.39" r="1.25" fill="#111"/>
<circle cx="254.78" cy="226.45" r="1.25" fill="#111"/>
<circle cx="286.58" cy="240.38" r="1.25" fill="#111"/>
<circle cx="271.54" cy="241.65" r="1.25" fill="#111"/>
<circle cx="274.42" cy="241.66" r="1.25" fill="#111"/>
<circle cx="279.54" cy="224.52" r="1.25" fill="#111"/>
<circle cx="271.88" cy="235.59" r="1.25" fill="#111"/>
<circle cx="281.89" cy="241.15" r="1.25" fill="#111"/>
<circle cx="278.43" cy="232.79" r="1.25" fill="#111"/>
<circle cx="276.15" cy="233.47" r="1.25" fill="#111"/>
<circle cx="263.01" cy="218.32" r="1.25" fill="#111"/>
<circle cx="274.83" cy="232.50" r="1.25" fill="#111"/>
<circle cx="263.23" cy="218.97" r="1.25" fill="#111"/>
<circle cx="258.46" cy="235.47" r="1.25" fill="#111"/>
<circle cx="267.90" cy="241.35" r="1.25" fill="#111"/>
<circle cx="257.78" cy="226.41" r="1.25" fill="#111"/>
<circle cx="259.04" cy="217.02" r="1.25" fill="#111"/>
<circle cx="285.86" cy="237.00" r="1.25" fill="#111"/>
<circle cx="267.16" cy="236.05" r="1.25" fill="#111"/>
<circle cx="274.67" cy="225.88" r="1.25" fill="#111"/>
<circle cx="266.96" cy="237.17" r="1.25" fill="#111"/>
<circle cx="264.44" cy="228.63" r="1.25" fill="#111"/>
<circle cx="272.76" cy="225.19" r="1.25" fill="#111"/>
<circle cx="261.66" cy="235.26" r="1.25" fill="#111"/>
<circle cx="267.32" cy="233.40" r="1.25" fill="#111"/>
<circle cx="249.64" cy="227.40" r="1.25" fill="#111"/>
<circle cx="271.51" cy="239.39" r="1.25" fill="#111"/>
<circle cx="285.37" cy="231.81" r="1.25" fill="#111"/>
<circle cx="271.79" cy="235.94" r="1.25" fill="#111"/>
<circle cx="287.10" cy="236.01" r="1.25" fill="#111"/>
<circle cx="274.78" cy="232.82" r="1.25" fill="#111"/>
<circle cx="286.94" cy="232.10" r="1.25" fill="#111"/>
<circle cx="264.96" cy="235.84" r="1.25" fill="#111"/>
<circle cx="272.01" cy="227.92" r="1.25" fill="#111"/>
<circle cx="259.47" cy="226.17" r="1.25" fill="#111"/>
<circle cx="261.39" cy="228.78" r="1.25" fill="#111"/>
<circle cx="256.90" cy="226.25" r="1.25" fill="#111"/>
<circle cx="276.53" cy="238.79" r="1.25" fill="#111"/>
<circle cx="280.97" cy="238.92" r="1.25" fill="#111"/>
<circle cx="264.82" cy="228.00" r="1.25" fill="#111"/>
<circle cx="284.10" cy="240.44" r="1.25" fill="#111"/>
<circle cx="266.26" cy="239.49" r="1.25" fill="#111"/>
<circle cx="269.44" cy="241.01" r="1.25" fill="#111"/>
<circle cx="261.91" cy="227.28" r="1.25" fill="#111"/>
<circle cx="271.82" cy="240.89" r="1.25" fill="#111"/>
<circle cx="262.86" cy="235.08" r="1.25" fill="#111"/>
<circle cx="256.01" cy="225.00" r="1.25" fill="#111"/>
<circle cx="273.30" cy="238.64" r="1.25" fill="#111"/>
<circle cx="263.50" cy="223.67" r="1.25" fill="#111"/>
<circle cx="260.96" cy="232.53" r="1.25" fill="#111"/>
<circle cx="287.34" cy="239.59" r="1.25" fill="#111"/>
<circle cx="270.11" cy="241.63" r="1.25" fill="#111"/>
<circle cx="285.83" cy="227.75" r="1.25" fill="#111"/>
<circle cx="270.61" cy="238.44" r="1.25" fill="#111"/>
<circle cx="267.37" cy="233.91" r="1.25" fill="#111"/>
<circle cx="258.39" cy="228.92" r="1.25" fill="#111"/>
<circle cx="255.55" cy="225.27" r="1.25" fill="#111"/>
<circle cx="262.41" cy="232.14" r="1.25" fill="#111"/>
<circle cx="285.65" cy="226.05" r="1.25" fill="#111"/>
<circle cx="268.59" cy="236.52" r="1.25" fill="#111"/>
<circle cx="254.51" cy="225.20" r="1.25" fill="#111"/>
<circle cx="265.95" cy="238.75" r="1.25" fill="#111"/>
<circle cx="266.82" cy="239.35" r="1.25" fill="#111"/>
<circle cx="250.34" cy="218.87" r="1.25" fill="#111"/>
<circle cx="259.34" cy="235.74" r="1.25" fill="#111"/>
<circle cx="272.87" cy="238.23" r="1.25" fill="#111"/>
<circle cx="282.36" cy="227.64" r="1.25" fill="#111"/>
<circle cx="281.89" cy="236.79" r="1.25" fill="#111"/>
<circle cx="271.64" cy="226.24" r="1.25" fill="#111"/>
<circle cx="265.53" cy="239.22" r="1.25" fill="#111"/>
<circle cx="252.88" cy="224.28" r="1.25" fill="#111"/>
<circle cx="264.86" cy="229.28" r="1.25" fill="#111"/>
<circle cx="270.95" cy="240.94" r="1.25" fill="#111"/>
<circle cx="263.85" cy="234.61" r="1.25" fill="#111"/>
<circle cx="263.55" cy="229.73" r="1.25" fill="#111"/>
<circle cx="255.69" cy="226.24" r="1.25" fill="#111"/>
<circle cx="276.95" cy="236.56" r="1.25" fill="#111"/>
<circle cx="276.56" cy="232.39" r="1.25" fill="#111"/>
<circle cx="262.34" cy="231.95" r="1.25" fill="#111"/>
<circle cx="281.96" cy="235.01" r="1.25" fill="#111"/>
<circle cx="274.00" cy="236.26" r="1.25" fill="#111"/>
<circle cx="279.79" cy="236.37" r="1.25" fill="#111"/>
<circle cx="256.25" cy="229.04" r="1.25" fill="#111"/>
<circle cx="281.59" cy="228.92" r="1.25" fill="#111"/>
<circle cx="286.24" cy="241.51" r="1.25" fill="#111"/>
<circle cx="263.07" cy="235.24" r="1.25" fill="#111"/>
<circle cx="277.47" cy="230.65" r="1.25" fill="#111"/>
<circle cx="280.28" cy="234.17" r="1.25" fill="#111"/>
<circle cx="270.96" cy="241.00" r="1.25" fill="#111"/>
<circle cx="265.81" cy="238.65" r="1.25" fill="#111"/>
<circle cx="266.34" cy="240.34" r="1.25" fill="#111"/>
<circle cx="276.18" cy="241.01" r="1.25" fill="#111"/>
<circle cx="290.02" cy="229.25" r="1.25" fill="#111"/>
<circle cx="277.93" cy="232.25" r="1.25" fill="#111"/>
<circle cx="280.83" cy="240.50" r="1.25" fill="#111"/>
<circle cx="290.25" cy="230.03" r="1.25" fill="#111"/>
<circle cx="280.60" cy="236.73" r="1.25" fill="#111"/>
<circle cx="252.91" cy="220.88" r="1.25" fill="#111"/>
<circle cx="265.21" cy="232.17" r="1.25" fill="#111"/>
<circle cx="261.18" cy="235.83" r="1.25" fill="#111"/>
<circle cx="258.29" cy="231.53" r="1.25" fill="#111"/>
<circle cx="275.19" cy="230.30" r="1.25" fill="#111"/>
<circle cx="283.54" cy="235.44" r="1.25" fill="#111"/>
<circle cx="280.84" cy="237.81" r="1.25" fill="#111"/>
<circle cx="278.98" cy="236.90" r="1.25" fill="#111"/>
<circle cx="261.13" cy="232.32" r="1.25" fill="#111"/>
<circle cx="287.75" cy="238.20" r="1.25" fill="#111"/>
<circle cx="260.57" cy="227.11" r="1.25" fill="#111"/>
<circle cx="267.50" cy="240.04" r="1.25" fill="#111"/>
<circle cx="281.35" cy="235.68" r="1.25" fill="#111"/>
<circle cx="265.07" cy="234.86" r="1.25" fill="#111"/>
<circle cx="285.80" cy="226.67" r="1.25" fill="#111"/>
<circle cx="256.56" cy="231.35" r="1.25" fill="#111"/>
<circle cx="285.77" cy="240.72" r="1.25" fill="#111"/>
<circle cx="271.70" cy="242.42" r="1.25" fill="#111"/>
<circle cx="264.40" cy="237.68" r="1.25" fill="#111"/>
<circle cx="267.13" cy="232.64" r="1.25" fill="#111"/>
<circle cx="270.95" cy="234.12" r="1.25" fill="#111"/>
<circle cx="286.58" cy="238.38" r="1.25" fill="#111"/>
<circle cx="252.73" cy="229.64" r="1.25" fill="#111"/>
<circle cx="284.91" cy="236.41" r="1.25" fill="#111"/>
<circle cx="253.06" cy="226.13" r="1.25" fill="#111"/>
<circle cx="255.12" cy="232.64" r="1.25" fill="#111"/>
<circle cx="282.61" cy="238.41" r="1.25" fill="#111"/>
<circle cx="290.29" cy="234.18" r="1.25" fill="#111"/>
<circle cx="259.11" cy="233.01" r="1.25" fill="#111"/>
<circle cx="265.28" cy="234.94" r="1.25" fill="#111"/>
<circle cx="259.64" cy="228.98" r="1.25" fill="#111"/>
<circle cx="258.10" cy="225.84" r="1.25" fill="#111"/>
<circle cx="285.93" cy="242.92" r="1.25" fill="#111"/>
<circle cx="284.30" cy="239.69" r="1.25" fill="#111"/>
<circle cx="255.79" cy="229.46" r="1.25" fill="#111"/>
<circle cx="276.69" cy="240.61" r="1.25" fill="#111"/>
<circle cx="259.31" cy="225.74" r="1.25" fill="#111"/>
<circle cx="270.22" cy="227.71" r="1.25" fill="#111"/>
<circle cx="283.80" cy="233.95" r="1.25" fill="#111"/>
<circle cx="263.67" cy="227.28" r="1.25" fill="#111"/>
<circle cx="269.89" cy="239.98" r="1.25" fill="#111"/>
<circle cx="270.40" cy="233.36" r="1.25" fill="#111"/>
<circle cx="269.89" cy="240.73" r="1.25" fill="#111"/>
<circle cx="257.12" cy="231.95" r="1.25" fill="#111"/>
<circle cx="257.19" cy="231.95" r="1.25" fill="#111"/>
<circle cx="272.14" cy="237.22" r="1.25" fill="#111"/>
<circle cx="257.04" cy="216.02" r="1.35" fill="#c9252b"/>
<circle cx="273.68" cy="197.84" r="1.35" fill="#c9252b"/>
<circle cx="267.55" cy="218.21" r="1.35" fill="#c9252b"/>
<circle cx="273.02" cy="217.99" r="1.35" fill="#c9252b"/>
<circle cx="276.97" cy="215.80" r="1.35" fill="#c9252b"/>
<circle cx="283.32" cy="220.62" r="1.35" fill="#c9252b"/>
<circle cx="283.54" cy="225.87" r="1.35" fill="#c9252b"/>
<circle cx="306.31" cy="226.31" r="1.35" fill="#c9252b"/>
<circle cx="260.54" cy="223.68" r="1.35" fill="#c9252b"/>
<line x1="256.60" y1="182.52" x2="257.04" y2="214.92" stroke="#777" stroke-width="0.5"/>
<line x1="280.69" y1="189.52" x2="274.34" y2="196.97" stroke="#777" stroke-width="0.5"/>
<line x1="265.80" y1="206.60" x2="267.55" y2="217.11" stroke="#777" stroke-width="0.5"/>
<line x1="272.37" y1="211.42" x2="273.02" y2="217.11" stroke="#777" stroke-width="0.5"/>
<line x1="290.54" y1="208.79" x2="277.84" y2="215.36" stroke="#777" stroke-width="0.5"/>
<line x1="304.77" y1="218.21" x2="284.19" y2="220.40" stroke="#777" stroke-width="0.5"/>
<line x1="290.54" y1="224.12" x2="284.63" y2="225.65" stroke="#777" stroke-width="0.5"/>
<line x1="322.73" y1="228.06" x2="307.40" y2="226.53" stroke="#777" stroke-width="0.5"/>
<line x1="250.03" y1="233.97" x2="259.89" y2="224.56" stroke="#777" stroke-width="0.5"/>
<text x="253.32" y="181.64" font-size="7.6" font-style="italic">USP18</text>
<text x="271.49" y="188.65" font-size="7.6" font-style="italic" textLength="79.0" lengthAdjust="spacingAndGlyphs">LOC107501624 (IFIT1)</text>
<text x="257.70" y="205.07" font-size="7.6" font-style="italic">BST2</text>
<text x="271.49" y="210.98" font-size="7.6" font-style="italic">IFIT3</text>
<text x="290.10" y="208.35" font-size="7.6" font-style="italic">TRANK1</text>
<text x="304.77" y="219.74" font-size="7.6" font-style="italic">RTP4</text>
<text x="290.10" y="225.87" font-size="7.6" font-style="italic">IRF7</text>
<text x="323.39" y="230.91" font-size="7.6" font-style="italic">MX1</text>
<text x="230.33" y="239.01" font-size="7.6" font-style="italic">HERC5</text>
<line x1="407.20" y1="177.26" x2="407.20" y2="248.50" stroke="#6a6a6a" stroke-width="0.65"/>
<line x1="406.90" y1="248.20" x2="502.60" y2="248.20" stroke="#6a6a6a" stroke-width="0.65"/>
<line x1="403.00" y1="248.20" x2="407.20" y2="248.20" stroke="#6a6a6a" stroke-width="0.65"/>
<text x="399.30" y="250.90" font-size="7.5" text-anchor="end">0</text>
<line x1="403.00" y1="230.54" x2="407.20" y2="230.54" stroke="#6a6a6a" stroke-width="0.65"/>
<text x="399.30" y="233.24" font-size="7.5" text-anchor="end">2</text>
<line x1="403.00" y1="212.88" x2="407.20" y2="212.88" stroke="#6a6a6a" stroke-width="0.65"/>
<text x="399.30" y="215.58" font-size="7.5" text-anchor="end">4</text>
<line x1="403.00" y1="195.22" x2="407.20" y2="195.22" stroke="#6a6a6a" stroke-width="0.65"/>
<text x="399.30" y="197.92" font-size="7.5" text-anchor="end">6</text>
<line x1="403.00" y1="177.56" x2="407.20" y2="177.56" stroke="#6a6a6a" stroke-width="0.65"/>
<text x="399.30" y="180.26" font-size="7.5" text-anchor="end">8</text>
<line x1="407.20" y1="248.20" x2="407.20" y2="252.20" stroke="#6a6a6a" stroke-width="0.65"/>
<text x="407.20" y="262.20" font-size="7.5" text-anchor="middle">0</text>
<line x1="438.90" y1="248.20" x2="438.90" y2="252.20" stroke="#6a6a6a" stroke-width="0.65"/>
<text x="438.90" y="262.20" font-size="7.5" text-anchor="middle">5</text>
<line x1="470.60" y1="248.20" x2="470.60" y2="252.20" stroke="#6a6a6a" stroke-width="0.65"/>
<text x="470.60" y="262.20" font-size="7.5" text-anchor="middle">10</text>
<line x1="502.30" y1="248.20" x2="502.30" y2="252.20" stroke="#6a6a6a" stroke-width="0.65"/>
<text x="502.30" y="262.20" font-size="7.5" text-anchor="middle">15</text>
<text x="454.50" y="157.80" font-size="8.75" text-anchor="middle">Human bronchial<tspan font-size="0.66em" dy="-4.1">ALI</tspan><tspan dy="4.1"> MARV</tspan></text>
<text x="378.60" y="212.60" font-size="9" text-anchor="middle" transform="rotate(-90 378.60 212.60)" textLength="68.8" lengthAdjust="spacingAndGlyphs">log<tspan font-size="0.6em" dy="1.8">2</tspan><tspan dy="-1.8">(fold change)</tspan></text>
<text x="388.00" y="212.60" font-size="9" text-anchor="middle" transform="rotate(-90 388.00 212.60)" textLength="77.0" lengthAdjust="spacingAndGlyphs">(day 5 versus day 1)</text>
<text x="454.50" y="273.80" font-size="9" text-anchor="middle" textLength="40.0" lengthAdjust="spacingAndGlyphs">log<tspan font-size="0.6em" dy="1.8">2</tspan><tspan dy="-1.8">(CPM)</tspan></text>
<circle cx="424.56" cy="221.93" r="1.25" fill="#111"/>
<circle cx="427.84" cy="218.21" r="1.25" fill="#111"/>
<circle cx="433.98" cy="220.40" r="1.25" fill="#111"/>
<circle cx="445.36" cy="217.99" r="1.25" fill="#111"/>
<circle cx="431.57" cy="225.21" r="1.25" fill="#111"/>
<circle cx="433.98" cy="224.12" r="1.25" fill="#111"/>
<circle cx="435.51" cy="227.40" r="1.25" fill="#111"/>
<circle cx="437.70" cy="228.50" r="1.25" fill="#111"/>
<circle cx="438.79" cy="228.06" r="1.25" fill="#111"/>
<circle cx="431.13" cy="231.78" r="1.25" fill="#111"/>
<circle cx="432.22" cy="233.32" r="1.25" fill="#111"/>
<circle cx="434.85" cy="231.78" r="1.25" fill="#111"/>
<circle cx="435.51" cy="235.07" r="1.25" fill="#111"/>
<circle cx="437.70" cy="233.97" r="1.25" fill="#111"/>
<circle cx="439.89" cy="235.07" r="1.25" fill="#111"/>
<circle cx="441.42" cy="234.63" r="1.25" fill="#111"/>
<circle cx="442.73" cy="232.88" r="1.25" fill="#111"/>
<circle cx="443.61" cy="230.03" r="1.25" fill="#111"/>
<circle cx="446.89" cy="228.94" r="1.25" fill="#111"/>
<circle cx="439.89" cy="239.45" r="1.25" fill="#111"/>
<circle cx="447.55" cy="232.88" r="1.25" fill="#111"/>
<circle cx="449.74" cy="233.32" r="1.25" fill="#111"/>
<circle cx="450.18" cy="235.51" r="1.25" fill="#111"/>
<circle cx="451.27" cy="237.26" r="1.25" fill="#111"/>
<circle cx="451.93" cy="239.01" r="1.25" fill="#111"/>
<circle cx="448.65" cy="238.35" r="1.25" fill="#111"/>
<circle cx="447.55" cy="239.45" r="1.25" fill="#111"/>
<circle cx="450.84" cy="240.54" r="1.25" fill="#111"/>
<circle cx="452.37" cy="241.64" r="1.25" fill="#111"/>
<circle cx="455.21" cy="238.35" r="1.25" fill="#111"/>
<circle cx="457.40" cy="236.82" r="1.25" fill="#111"/>
<circle cx="458.50" cy="232.44" r="1.25" fill="#111"/>
<circle cx="458.50" cy="224.56" r="1.25" fill="#111"/>
<circle cx="459.59" cy="240.54" r="1.25" fill="#111"/>
<circle cx="463.97" cy="238.35" r="1.25" fill="#111"/>
<circle cx="465.51" cy="237.91" r="1.25" fill="#111"/>
<circle cx="469.45" cy="239.89" r="1.25" fill="#111"/>
<circle cx="470.98" cy="240.54" r="1.25" fill="#111"/>
<circle cx="469.89" cy="225.21" r="1.25" fill="#111"/>
<circle cx="479.30" cy="234.41" r="1.25" fill="#111"/>
<circle cx="483.24" cy="233.97" r="1.25" fill="#111"/>
<circle cx="449.74" cy="236.82" r="1.25" fill="#111"/>
<circle cx="451.49" cy="235.51" r="1.25" fill="#111"/>
<circle cx="449.30" cy="239.45" r="1.25" fill="#111"/>
<circle cx="430.69" cy="233.32" r="1.25" fill="#111"/>
<text x="449.08" y="220.18" font-size="7.6" font-style="italic">GPNMB</text>
<text x="473.39" y="227.62" font-size="7.6" font-style="italic">SCGB3A1</text>
<text x="487.84" y="236.38" font-size="7.6" font-style="italic">CXCL17</text>
<line x1="571.70" y1="174.90" x2="571.70" y2="248.50" stroke="#6a6a6a" stroke-width="0.65"/>
<line x1="571.40" y1="248.20" x2="682.00" y2="248.20" stroke="#6a6a6a" stroke-width="0.65"/>
<line x1="567.50" y1="248.20" x2="571.70" y2="248.20" stroke="#6a6a6a" stroke-width="0.65"/>
<text x="563.80" y="250.90" font-size="7.5" text-anchor="end">0</text>
<line x1="567.50" y1="233.60" x2="571.70" y2="233.60" stroke="#6a6a6a" stroke-width="0.65"/>
<text x="563.80" y="236.30" font-size="7.5" text-anchor="end">2</text>
<line x1="567.50" y1="219.00" x2="571.70" y2="219.00" stroke="#6a6a6a" stroke-width="0.65"/>
<text x="563.80" y="221.70" font-size="7.5" text-anchor="end">4</text>
<line x1="567.50" y1="204.40" x2="571.70" y2="204.40" stroke="#6a6a6a" stroke-width="0.65"/>
<text x="563.80" y="207.10" font-size="7.5" text-anchor="end">6</text>
<line x1="567.50" y1="189.80" x2="571.70" y2="189.80" stroke="#6a6a6a" stroke-width="0.65"/>
<text x="563.80" y="192.50" font-size="7.5" text-anchor="end">8</text>
<line x1="567.50" y1="175.20" x2="571.70" y2="175.20" stroke="#6a6a6a" stroke-width="0.65"/>
<text x="563.80" y="177.90" font-size="7.5" text-anchor="end">10</text>
<line x1="571.70" y1="248.20" x2="571.70" y2="252.20" stroke="#6a6a6a" stroke-width="0.65"/>
<text x="571.70" y="262.20" font-size="7.5" text-anchor="middle">0</text>
<line x1="608.35" y1="248.20" x2="608.35" y2="252.20" stroke="#6a6a6a" stroke-width="0.65"/>
<text x="608.35" y="262.20" font-size="7.5" text-anchor="middle">5</text>
<line x1="645.00" y1="248.20" x2="645.00" y2="252.20" stroke="#6a6a6a" stroke-width="0.65"/>
<text x="645.00" y="262.20" font-size="7.5" text-anchor="middle">10</text>
<line x1="681.65" y1="248.20" x2="681.65" y2="252.20" stroke="#6a6a6a" stroke-width="0.65"/>
<text x="681.65" y="262.20" font-size="7.5" text-anchor="middle">15</text>
<text x="627.00" y="157.80" font-size="8.75" text-anchor="middle">Human bronchial<tspan font-size="0.66em" dy="-4.1">ALI</tspan><tspan dy="4.1"> SeV</tspan></text>
<text x="540.20" y="212.00" font-size="9" text-anchor="middle" transform="rotate(-90 540.20 212.00)" textLength="69.0" lengthAdjust="spacingAndGlyphs">log<tspan font-size="0.6em" dy="1.8">2</tspan><tspan dy="-1.8">(fold change)</tspan></text>
<text x="548.60" y="212.00" font-size="9" text-anchor="middle" transform="rotate(-90 548.60 212.00)" textLength="67.7" lengthAdjust="spacingAndGlyphs">(d3 versus mock)</text>
<text x="627.00" y="273.80" font-size="9" text-anchor="middle" textLength="40.0" lengthAdjust="spacingAndGlyphs">log<tspan font-size="0.6em" dy="1.8">2</tspan><tspan dy="-1.8">(CPM)</tspan></text>
<circle cx="591.10" cy="234.09" r="1.2" fill="#111"/>
<circle cx="591.70" cy="238.47" r="1.2" fill="#111"/>
<circle cx="628.46" cy="240.32" r="1.2" fill="#111"/>
<circle cx="610.98" cy="238.85" r="1.2" fill="#111"/>
<circle cx="602.63" cy="237.95" r="1.2" fill="#111"/>
<circle cx="586.28" cy="223.20" r="1.2" fill="#111"/>
<circle cx="637.53" cy="234.94" r="1.2" fill="#111"/>
<circle cx="626.90" cy="242.03" r="1.2" fill="#111"/>
<circle cx="628.41" cy="231.23" r="1.2" fill="#111"/>
<circle cx="623.79" cy="240.26" r="1.2" fill="#111"/>
<circle cx="630.23" cy="228.19" r="1.2" fill="#111"/>
<circle cx="608.69" cy="241.44" r="1.2" fill="#111"/>
<circle cx="602.88" cy="229.85" r="1.2" fill="#111"/>
<circle cx="609.51" cy="228.47" r="1.2" fill="#111"/>
<circle cx="629.56" cy="237.05" r="1.2" fill="#111"/>
<circle cx="598.60" cy="226.23" r="1.2" fill="#111"/>
<circle cx="622.04" cy="241.98" r="1.2" fill="#111"/>
<circle cx="631.35" cy="241.07" r="1.2" fill="#111"/>
<circle cx="597.49" cy="240.85" r="1.2" fill="#111"/>
<circle cx="603.69" cy="237.95" r="1.2" fill="#111"/>
<circle cx="626.84" cy="238.30" r="1.2" fill="#111"/>
<circle cx="588.84" cy="227.19" r="1.2" fill="#111"/>
<circle cx="625.05" cy="236.37" r="1.2" fill="#111"/>
<circle cx="598.19" cy="240.09" r="1.2" fill="#111"/>
<circle cx="617.29" cy="233.69" r="1.2" fill="#111"/>
<circle cx="616.75" cy="230.52" r="1.2" fill="#111"/>
<circle cx="609.13" cy="232.94" r="1.2" fill="#111"/>
<circle cx="606.25" cy="241.66" r="1.2" fill="#111"/>
<circle cx="639.70" cy="237.99" r="1.2" fill="#111"/>
<circle cx="629.14" cy="240.20" r="1.2" fill="#111"/>
<circle cx="614.34" cy="236.27" r="1.2" fill="#111"/>
<circle cx="605.12" cy="236.17" r="1.2" fill="#111"/>
<circle cx="612.32" cy="235.55" r="1.2" fill="#111"/>
<circle cx="596.25" cy="232.20" r="1.2" fill="#111"/>
<circle cx="606.36" cy="231.15" r="1.2" fill="#111"/>
<circle cx="594.36" cy="235.79" r="1.2" fill="#111"/>
<circle cx="617.31" cy="227.39" r="1.2" fill="#111"/>
<circle cx="624.67" cy="242.30" r="1.2" fill="#111"/>
<circle cx="617.08" cy="224.52" r="1.2" fill="#111"/>
<circle cx="596.22" cy="241.42" r="1.2" fill="#111"/>
<circle cx="587.48" cy="233.58" r="1.2" fill="#111"/>
<circle cx="600.03" cy="232.53" r="1.2" fill="#111"/>
<circle cx="626.88" cy="237.85" r="1.2" fill="#111"/>
<circle cx="615.11" cy="235.65" r="1.2" fill="#111"/>
<circle cx="612.63" cy="236.27" r="1.2" fill="#111"/>
<circle cx="586.70" cy="227.46" r="1.2" fill="#111"/>
<circle cx="619.18" cy="240.85" r="1.2" fill="#111"/>
<circle cx="617.48" cy="238.08" r="1.2" fill="#111"/>
<circle cx="625.20" cy="239.87" r="1.2" fill="#111"/>
<circle cx="588.02" cy="235.55" r="1.2" fill="#111"/>
<circle cx="623.62" cy="238.57" r="1.2" fill="#111"/>
<circle cx="591.24" cy="237.83" r="1.2" fill="#111"/>
<circle cx="593.97" cy="229.03" r="1.2" fill="#111"/>
<circle cx="601.84" cy="238.68" r="1.2" fill="#111"/>
<circle cx="614.31" cy="238.72" r="1.2" fill="#111"/>
<circle cx="632.29" cy="239.20" r="1.2" fill="#111"/>
<circle cx="602.66" cy="228.08" r="1.2" fill="#111"/>
<circle cx="595.98" cy="240.90" r="1.2" fill="#111"/>
<circle cx="593.68" cy="240.30" r="1.2" fill="#111"/>
<circle cx="609.98" cy="238.83" r="1.2" fill="#111"/>
<circle cx="623.14" cy="233.45" r="1.2" fill="#111"/>
<circle cx="620.36" cy="235.87" r="1.2" fill="#111"/>
<circle cx="611.32" cy="228.47" r="1.2" fill="#111"/>
<circle cx="597.73" cy="233.99" r="1.2" fill="#111"/>
<circle cx="637.17" cy="235.88" r="1.2" fill="#111"/>
<circle cx="615.29" cy="236.38" r="1.2" fill="#111"/>
<circle cx="615.16" cy="241.20" r="1.2" fill="#111"/>
<circle cx="624.37" cy="241.58" r="1.2" fill="#111"/>
<circle cx="632.02" cy="236.13" r="1.2" fill="#111"/>
<circle cx="615.80" cy="239.12" r="1.2" fill="#111"/>
<circle cx="598.77" cy="234.20" r="1.2" fill="#111"/>
<circle cx="630.85" cy="238.95" r="1.2" fill="#111"/>
<circle cx="599.90" cy="228.70" r="1.2" fill="#111"/>
<circle cx="605.11" cy="242.01" r="1.2" fill="#111"/>
<circle cx="593.06" cy="218.95" r="1.2" fill="#111"/>
<circle cx="605.11" cy="218.04" r="1.2" fill="#111"/>
<circle cx="625.41" cy="240.13" r="1.2" fill="#111"/>
<circle cx="609.26" cy="221.68" r="1.2" fill="#111"/>
<circle cx="610.12" cy="239.96" r="1.2" fill="#111"/>
<circle cx="589.08" cy="236.13" r="1.2" fill="#111"/>
<circle cx="628.63" cy="241.24" r="1.2" fill="#111"/>
<circle cx="603.02" cy="242.17" r="1.2" fill="#111"/>
<circle cx="621.64" cy="232.15" r="1.2" fill="#111"/>
<circle cx="632.13" cy="227.59" r="1.2" fill="#111"/>
<circle cx="629.97" cy="226.45" r="1.2" fill="#111"/>
<circle cx="630.28" cy="239.15" r="1.2" fill="#111"/>
<circle cx="610.00" cy="239.45" r="1.2" fill="#111"/>
<circle cx="598.21" cy="240.96" r="1.2" fill="#111"/>
<circle cx="598.36" cy="230.05" r="1.2" fill="#111"/>
<circle cx="590.95" cy="215.27" r="1.2" fill="#111"/>
<circle cx="616.93" cy="235.85" r="1.2" fill="#111"/>
<circle cx="590.65" cy="235.39" r="1.2" fill="#111"/>
<circle cx="629.12" cy="241.93" r="1.2" fill="#111"/>
<circle cx="607.65" cy="240.13" r="1.2" fill="#111"/>
<circle cx="598.15" cy="232.23" r="1.2" fill="#111"/>
<circle cx="615.01" cy="232.57" r="1.2" fill="#111"/>
<circle cx="625.40" cy="231.47" r="1.2" fill="#111"/>
<circle cx="590.24" cy="238.73" r="1.2" fill="#111"/>
<circle cx="631.54" cy="239.97" r="1.2" fill="#111"/>
<circle cx="598.53" cy="240.14" r="1.2" fill="#111"/>
<circle cx="606.19" cy="237.76" r="1.2" fill="#111"/>
<circle cx="626.80" cy="239.94" r="1.2" fill="#111"/>
<circle cx="619.36" cy="236.86" r="1.2" fill="#111"/>
<circle cx="608.18" cy="237.88" r="1.2" fill="#111"/>
<circle cx="590.89" cy="233.74" r="1.2" fill="#111"/>
<circle cx="631.35" cy="241.13" r="1.2" fill="#111"/>
<circle cx="589.38" cy="235.09" r="1.2" fill="#111"/>
<circle cx="620.64" cy="240.42" r="1.2" fill="#111"/>
<circle cx="606.34" cy="242.29" r="1.2" fill="#111"/>
<circle cx="639.61" cy="232.77" r="1.2" fill="#111"/>
<circle cx="603.43" cy="225.06" r="1.2" fill="#111"/>
<circle cx="601.57" cy="240.46" r="1.2" fill="#111"/>
<circle cx="607.41" cy="242.05" r="1.2" fill="#111"/>
<circle cx="616.85" cy="240.33" r="1.2" fill="#111"/>
<circle cx="590.05" cy="219.69" r="1.2" fill="#111"/>
<circle cx="629.63" cy="234.39" r="1.2" fill="#111"/>
<circle cx="609.96" cy="239.51" r="1.2" fill="#111"/>
<circle cx="605.50" cy="242.02" r="1.2" fill="#111"/>
<circle cx="637.10" cy="233.24" r="1.2" fill="#111"/>
<circle cx="594.60" cy="225.00" r="1.2" fill="#111"/>
<circle cx="616.88" cy="240.63" r="1.2" fill="#111"/>
<circle cx="601.62" cy="240.24" r="1.2" fill="#111"/>
<circle cx="586.78" cy="215.18" r="1.2" fill="#111"/>
<circle cx="628.65" cy="229.14" r="1.2" fill="#111"/>
<circle cx="587.58" cy="223.83" r="1.2" fill="#111"/>
<circle cx="617.09" cy="237.66" r="1.2" fill="#111"/>
<circle cx="614.10" cy="240.07" r="1.2" fill="#111"/>
<circle cx="615.78" cy="238.66" r="1.2" fill="#111"/>
<circle cx="611.01" cy="231.45" r="1.2" fill="#111"/>
<circle cx="592.89" cy="238.94" r="1.2" fill="#111"/>
<circle cx="626.95" cy="226.38" r="1.2" fill="#111"/>
<circle cx="612.42" cy="226.71" r="1.2" fill="#111"/>
<circle cx="599.65" cy="241.93" r="1.2" fill="#111"/>
<circle cx="602.57" cy="240.47" r="1.2" fill="#111"/>
<circle cx="588.76" cy="230.02" r="1.2" fill="#111"/>
<circle cx="611.15" cy="241.22" r="1.2" fill="#111"/>
<circle cx="623.64" cy="235.38" r="1.2" fill="#111"/>
<circle cx="633.38" cy="233.19" r="1.2" fill="#111"/>
<circle cx="595.86" cy="220.17" r="1.2" fill="#111"/>
<circle cx="595.78" cy="242.22" r="1.2" fill="#111"/>
<circle cx="610.36" cy="239.25" r="1.2" fill="#111"/>
<circle cx="590.76" cy="230.32" r="1.2" fill="#111"/>
<circle cx="626.90" cy="223.89" r="1.2" fill="#111"/>
<circle cx="603.09" cy="234.35" r="1.2" fill="#111"/>
<circle cx="591.46" cy="237.38" r="1.2" fill="#111"/>
<circle cx="625.59" cy="236.69" r="1.2" fill="#111"/>
<circle cx="587.17" cy="231.74" r="1.2" fill="#111"/>
<circle cx="615.50" cy="241.66" r="1.2" fill="#111"/>
<circle cx="633.70" cy="230.28" r="1.2" fill="#111"/>
<circle cx="604.87" cy="241.03" r="1.2" fill="#111"/>
<circle cx="598.20" cy="241.13" r="1.2" fill="#111"/>
<circle cx="588.08" cy="228.39" r="1.2" fill="#111"/>
<circle cx="615.77" cy="228.85" r="1.2" fill="#111"/>
<circle cx="615.93" cy="232.33" r="1.2" fill="#111"/>
<circle cx="590.99" cy="237.56" r="1.2" fill="#111"/>
<circle cx="610.47" cy="241.89" r="1.2" fill="#111"/>
<circle cx="593.24" cy="240.31" r="1.2" fill="#111"/>
<circle cx="607.70" cy="225.19" r="1.2" fill="#111"/>
<circle cx="588.08" cy="232.91" r="1.2" fill="#111"/>
<circle cx="615.58" cy="241.30" r="1.2" fill="#111"/>
<circle cx="598.10" cy="239.31" r="1.2" fill="#111"/>
<circle cx="600.67" cy="241.48" r="1.2" fill="#111"/>
<circle cx="627.86" cy="240.78" r="1.2" fill="#111"/>
<circle cx="621.43" cy="233.21" r="1.2" fill="#111"/>
<circle cx="622.82" cy="241.66" r="1.2" fill="#111"/>
<circle cx="629.66" cy="240.11" r="1.2" fill="#111"/>
<circle cx="624.01" cy="236.05" r="1.2" fill="#111"/>
<circle cx="606.73" cy="232.83" r="1.2" fill="#111"/>
<circle cx="605.58" cy="236.80" r="1.2" fill="#111"/>
<circle cx="630.36" cy="240.35" r="1.2" fill="#111"/>
<circle cx="632.45" cy="240.68" r="1.2" fill="#111"/>
<circle cx="602.16" cy="236.87" r="1.2" fill="#111"/>
<circle cx="591.39" cy="237.84" r="1.2" fill="#111"/>
<circle cx="627.05" cy="236.80" r="1.2" fill="#111"/>
<circle cx="628.97" cy="224.98" r="1.2" fill="#111"/>
<circle cx="592.39" cy="235.30" r="1.2" fill="#111"/>
<circle cx="623.64" cy="229.37" r="1.2" fill="#111"/>
<circle cx="623.46" cy="237.22" r="1.2" fill="#111"/>
<circle cx="603.11" cy="237.04" r="1.2" fill="#111"/>
<circle cx="603.62" cy="239.13" r="1.2" fill="#111"/>
<circle cx="595.05" cy="237.06" r="1.2" fill="#111"/>
<circle cx="634.40" cy="241.00" r="1.2" fill="#111"/>
<circle cx="629.40" cy="236.25" r="1.2" fill="#111"/>
<circle cx="622.95" cy="235.99" r="1.2" fill="#111"/>
<circle cx="606.33" cy="231.68" r="1.2" fill="#111"/>
<circle cx="589.90" cy="215.61" r="1.2" fill="#111"/>
<circle cx="612.04" cy="236.37" r="1.2" fill="#111"/>
<circle cx="588.11" cy="226.05" r="1.2" fill="#111"/>
<circle cx="633.53" cy="236.60" r="1.2" fill="#111"/>
<circle cx="587.24" cy="235.71" r="1.2" fill="#111"/>
<circle cx="588.33" cy="219.34" r="1.2" fill="#111"/>
<circle cx="610.56" cy="239.17" r="1.2" fill="#111"/>
<circle cx="590.47" cy="239.36" r="1.2" fill="#111"/>
<circle cx="591.76" cy="228.90" r="1.2" fill="#111"/>
<circle cx="601.22" cy="237.82" r="1.2" fill="#111"/>
<circle cx="607.90" cy="240.73" r="1.2" fill="#111"/>
<circle cx="599.16" cy="240.57" r="1.2" fill="#111"/>
<circle cx="592.60" cy="229.90" r="1.2" fill="#111"/>
<circle cx="590.24" cy="228.47" r="1.2" fill="#111"/>
<circle cx="606.38" cy="240.92" r="1.2" fill="#111"/>
<circle cx="613.02" cy="238.52" r="1.2" fill="#111"/>
<circle cx="591.45" cy="222.40" r="1.2" fill="#111"/>
<circle cx="632.80" cy="239.90" r="1.2" fill="#111"/>
<circle cx="599.88" cy="238.42" r="1.2" fill="#111"/>
<circle cx="590.09" cy="238.47" r="1.2" fill="#111"/>
<circle cx="614.39" cy="236.57" r="1.2" fill="#111"/>
<circle cx="614.17" cy="241.64" r="1.2" fill="#111"/>
<circle cx="625.22" cy="241.59" r="1.2" fill="#111"/>
<circle cx="620.87" cy="233.20" r="1.2" fill="#111"/>
<circle cx="624.26" cy="233.91" r="1.2" fill="#111"/>
<circle cx="625.85" cy="237.34" r="1.2" fill="#111"/>
<circle cx="604.23" cy="239.47" r="1.2" fill="#111"/>
<circle cx="627.11" cy="238.05" r="1.2" fill="#111"/>
<circle cx="617.70" cy="241.97" r="1.2" fill="#111"/>
<circle cx="624.09" cy="235.67" r="1.2" fill="#111"/>
<circle cx="622.53" cy="240.34" r="1.2" fill="#111"/>
<circle cx="627.67" cy="237.42" r="1.2" fill="#111"/>
<circle cx="599.92" cy="234.99" r="1.2" fill="#111"/>
<circle cx="618.07" cy="240.62" r="1.2" fill="#111"/>
<circle cx="619.40" cy="241.51" r="1.2" fill="#111"/>
<circle cx="597.29" cy="234.87" r="1.2" fill="#111"/>
<circle cx="597.09" cy="234.99" r="1.2" fill="#111"/>
<circle cx="622.38" cy="231.70" r="1.2" fill="#111"/>
<circle cx="608.90" cy="231.21" r="1.2" fill="#111"/>
<circle cx="587.15" cy="237.20" r="1.2" fill="#111"/>
<circle cx="621.28" cy="241.74" r="1.2" fill="#111"/>
<circle cx="598.49" cy="231.74" r="1.2" fill="#111"/>
<circle cx="632.49" cy="239.46" r="1.2" fill="#111"/>
<circle cx="600.52" cy="232.74" r="1.2" fill="#111"/>
<circle cx="608.72" cy="241.53" r="1.2" fill="#111"/>
<circle cx="631.81" cy="232.82" r="1.2" fill="#111"/>
<circle cx="587.92" cy="229.61" r="1.2" fill="#111"/>
<circle cx="587.79" cy="230.94" r="1.2" fill="#111"/>
<circle cx="618.71" cy="242.14" r="1.2" fill="#111"/>
<circle cx="632.61" cy="237.37" r="1.2" fill="#111"/>
<circle cx="590.50" cy="239.07" r="1.2" fill="#111"/>
<circle cx="595.10" cy="230.00" r="1.2" fill="#111"/>
<circle cx="617.07" cy="230.86" r="1.2" fill="#111"/>
<circle cx="620.83" cy="231.84" r="1.2" fill="#111"/>
<circle cx="625.95" cy="237.80" r="1.2" fill="#111"/>
<circle cx="595.77" cy="233.04" r="1.2" fill="#111"/>
<circle cx="640.54" cy="237.61" r="1.2" fill="#111"/>
<circle cx="630.45" cy="241.34" r="1.2" fill="#111"/>
<circle cx="607.55" cy="241.32" r="1.2" fill="#111"/>
<circle cx="627.86" cy="241.63" r="1.2" fill="#111"/>
<circle cx="600.88" cy="223.99" r="1.2" fill="#111"/>
<circle cx="619.60" cy="242.10" r="1.2" fill="#111"/>
<circle cx="620.57" cy="232.97" r="1.2" fill="#111"/>
<circle cx="630.01" cy="241.13" r="1.2" fill="#111"/>
<circle cx="600.00" cy="240.60" r="1.2" fill="#111"/>
<circle cx="632.86" cy="239.19" r="1.2" fill="#111"/>
<circle cx="626.10" cy="234.99" r="1.2" fill="#111"/>
<circle cx="619.79" cy="237.65" r="1.2" fill="#111"/>
<circle cx="603.54" cy="239.41" r="1.2" fill="#111"/>
<circle cx="588.83" cy="234.92" r="1.2" fill="#111"/>
<circle cx="631.38" cy="241.08" r="1.2" fill="#111"/>
<circle cx="596.77" cy="240.65" r="1.2" fill="#111"/>
<circle cx="598.83" cy="237.84" r="1.2" fill="#111"/>
<circle cx="635.91" cy="234.78" r="1.2" fill="#111"/>
<circle cx="617.32" cy="236.47" r="1.2" fill="#111"/>
<circle cx="590.26" cy="238.26" r="1.2" fill="#111"/>
<circle cx="618.89" cy="232.35" r="1.2" fill="#111"/>
<circle cx="598.86" cy="230.85" r="1.2" fill="#111"/>
<circle cx="588.50" cy="232.72" r="1.2" fill="#111"/>
<circle cx="614.96" cy="238.32" r="1.2" fill="#111"/>
<circle cx="597.52" cy="236.44" r="1.2" fill="#111"/>
<circle cx="594.02" cy="238.15" r="1.2" fill="#111"/>
<circle cx="616.01" cy="224.51" r="1.2" fill="#111"/>
<circle cx="594.01" cy="240.98" r="1.2" fill="#111"/>
<circle cx="630.97" cy="227.94" r="1.2" fill="#111"/>
<circle cx="591.84" cy="238.49" r="1.2" fill="#111"/>
<circle cx="614.51" cy="239.94" r="1.2" fill="#111"/>
<circle cx="611.12" cy="241.00" r="1.2" fill="#111"/>
<circle cx="617.60" cy="234.30" r="1.2" fill="#111"/>
<circle cx="621.20" cy="233.00" r="1.2" fill="#111"/>
<circle cx="586.19" cy="233.83" r="1.2" fill="#111"/>
<circle cx="587.45" cy="229.95" r="1.2" fill="#111"/>
<circle cx="611.09" cy="241.92" r="1.2" fill="#111"/>
<circle cx="627.99" cy="240.70" r="1.2" fill="#111"/>
<circle cx="629.35" cy="240.92" r="1.2" fill="#111"/>
<circle cx="623.78" cy="241.99" r="1.2" fill="#111"/>
<circle cx="593.65" cy="239.08" r="1.2" fill="#111"/>
<circle cx="621.59" cy="240.83" r="1.2" fill="#111"/>
<circle cx="605.26" cy="237.03" r="1.2" fill="#111"/>
<circle cx="591.39" cy="221.92" r="1.2" fill="#111"/>
<circle cx="628.56" cy="233.46" r="1.2" fill="#111"/>
<circle cx="600.87" cy="230.05" r="1.2" fill="#111"/>
<circle cx="619.10" cy="240.49" r="1.2" fill="#111"/>
<circle cx="595.11" cy="238.41" r="1.2" fill="#111"/>
<circle cx="623.30" cy="240.46" r="1.2" fill="#111"/>
<circle cx="636.63" cy="240.79" r="1.2" fill="#111"/>
<circle cx="619.67" cy="220.25" r="1.2" fill="#111"/>
<circle cx="606.25" cy="240.71" r="1.2" fill="#111"/>
<circle cx="613.06" cy="240.62" r="1.2" fill="#111"/>
<circle cx="624.49" cy="238.03" r="1.2" fill="#111"/>
<circle cx="613.23" cy="230.50" r="1.2" fill="#111"/>
<circle cx="591.29" cy="231.60" r="1.2" fill="#111"/>
<circle cx="636.94" cy="235.94" r="1.2" fill="#111"/>
<circle cx="614.84" cy="242.23" r="1.2" fill="#111"/>
<circle cx="617.32" cy="234.33" r="1.2" fill="#111"/>
<circle cx="591.09" cy="238.23" r="1.2" fill="#111"/>
<circle cx="631.98" cy="235.14" r="1.2" fill="#111"/>
<circle cx="597.84" cy="237.76" r="1.2" fill="#111"/>
<circle cx="611.06" cy="235.35" r="1.2" fill="#111"/>
<circle cx="591.98" cy="233.54" r="1.2" fill="#111"/>
<circle cx="639.39" cy="236.42" r="1.2" fill="#111"/>
<circle cx="603.38" cy="231.14" r="1.2" fill="#111"/>
<circle cx="613.69" cy="239.90" r="1.2" fill="#111"/>
<circle cx="627.84" cy="231.96" r="1.2" fill="#111"/>
<circle cx="606.64" cy="220.76" r="1.2" fill="#111"/>
<circle cx="600.48" cy="241.35" r="1.2" fill="#111"/>
<circle cx="603.80" cy="239.95" r="1.2" fill="#111"/>
<circle cx="603.14" cy="240.26" r="1.2" fill="#111"/>
<circle cx="615.85" cy="242.08" r="1.2" fill="#111"/>
<circle cx="624.25" cy="235.21" r="1.2" fill="#111"/>
<circle cx="619.32" cy="242.30" r="1.2" fill="#111"/>
<circle cx="630.48" cy="240.49" r="1.2" fill="#111"/>
<circle cx="641.12" cy="239.24" r="1.2" fill="#111"/>
<circle cx="594.40" cy="240.73" r="1.2" fill="#111"/>
<circle cx="600.87" cy="240.79" r="1.2" fill="#111"/>
<circle cx="588.28" cy="232.69" r="1.2" fill="#111"/>
<circle cx="593.50" cy="227.92" r="1.2" fill="#111"/>
<circle cx="608.39" cy="239.89" r="1.2" fill="#111"/>
<circle cx="601.05" cy="241.50" r="1.2" fill="#111"/>
<circle cx="634.55" cy="239.21" r="1.2" fill="#111"/>
<circle cx="620.63" cy="238.93" r="1.2" fill="#111"/>
<circle cx="628.96" cy="231.91" r="1.2" fill="#111"/>
<circle cx="605.35" cy="239.63" r="1.2" fill="#111"/>
<circle cx="607.17" cy="232.93" r="1.2" fill="#111"/>
<circle cx="587.37" cy="229.62" r="1.2" fill="#111"/>
<circle cx="608.39" cy="242.25" r="1.2" fill="#111"/>
<circle cx="601.09" cy="241.13" r="1.2" fill="#111"/>
<circle cx="587.29" cy="220.68" r="1.2" fill="#111"/>
<circle cx="635.67" cy="238.93" r="1.2" fill="#111"/>
<circle cx="610.02" cy="241.32" r="1.2" fill="#111"/>
<circle cx="586.80" cy="235.60" r="1.2" fill="#111"/>
<circle cx="625.90" cy="238.92" r="1.2" fill="#111"/>
<circle cx="620.43" cy="236.50" r="1.2" fill="#111"/>
<circle cx="587.61" cy="225.06" r="1.2" fill="#111"/>
<circle cx="614.96" cy="238.81" r="1.2" fill="#111"/>
<circle cx="623.89" cy="236.39" r="1.2" fill="#111"/>
<circle cx="588.24" cy="231.27" r="1.2" fill="#111"/>
<circle cx="629.47" cy="238.71" r="1.2" fill="#111"/>
<circle cx="592.95" cy="238.97" r="1.2" fill="#111"/>
<circle cx="587.23" cy="233.40" r="1.2" fill="#111"/>
<circle cx="601.28" cy="234.12" r="1.2" fill="#111"/>
<circle cx="596.21" cy="223.06" r="1.2" fill="#111"/>
<circle cx="612.37" cy="239.18" r="1.2" fill="#111"/>
<circle cx="635.19" cy="239.92" r="1.2" fill="#111"/>
<circle cx="602.75" cy="235.38" r="1.2" fill="#111"/>
<circle cx="616.04" cy="232.25" r="1.2" fill="#111"/>
<circle cx="596.69" cy="241.40" r="1.2" fill="#111"/>
<circle cx="630.54" cy="227.26" r="1.2" fill="#111"/>
<circle cx="603.82" cy="242.04" r="1.2" fill="#111"/>
<circle cx="616.93" cy="237.13" r="1.2" fill="#111"/>
<circle cx="624.37" cy="239.66" r="1.2" fill="#111"/>
<circle cx="602.94" cy="239.55" r="1.2" fill="#111"/>
<circle cx="600.88" cy="231.96" r="1.2" fill="#111"/>
<circle cx="588.65" cy="237.57" r="1.2" fill="#111"/>
<circle cx="598.93" cy="218.88" r="1.2" fill="#111"/>
<circle cx="633.96" cy="234.41" r="1.2" fill="#111"/>
<circle cx="625.84" cy="226.46" r="1.2" fill="#111"/>
<circle cx="593.17" cy="223.36" r="1.2" fill="#111"/>
<circle cx="591.21" cy="224.40" r="1.2" fill="#111"/>
<circle cx="588.70" cy="237.31" r="1.2" fill="#111"/>
<circle cx="597.62" cy="227.62" r="1.2" fill="#111"/>
<circle cx="621.71" cy="242.12" r="1.2" fill="#111"/>
<circle cx="607.45" cy="234.33" r="1.2" fill="#111"/>
<circle cx="595.43" cy="238.91" r="1.2" fill="#111"/>
<circle cx="590.62" cy="233.82" r="1.2" fill="#111"/>
<circle cx="603.77" cy="241.92" r="1.2" fill="#111"/>
<circle cx="635.11" cy="240.60" r="1.2" fill="#111"/>
<circle cx="594.65" cy="238.29" r="1.2" fill="#111"/>
<circle cx="622.33" cy="242.08" r="1.2" fill="#111"/>
<circle cx="634.35" cy="239.79" r="1.2" fill="#111"/>
<circle cx="602.22" cy="236.88" r="1.2" fill="#111"/>
<circle cx="601.12" cy="235.54" r="1.2" fill="#111"/>
<circle cx="592.10" cy="229.94" r="1.2" fill="#111"/>
<circle cx="611.14" cy="238.55" r="1.2" fill="#111"/>
<circle cx="601.16" cy="237.16" r="1.2" fill="#111"/>
<circle cx="594.01" cy="234.50" r="1.2" fill="#111"/>
<circle cx="631.15" cy="233.75" r="1.2" fill="#111"/>
<circle cx="599.36" cy="227.19" r="1.2" fill="#111"/>
<circle cx="631.56" cy="238.02" r="1.2" fill="#111"/>
<circle cx="631.06" cy="238.18" r="1.2" fill="#111"/>
<circle cx="588.29" cy="224.28" r="1.2" fill="#111"/>
<circle cx="598.72" cy="239.75" r="1.2" fill="#111"/>
<circle cx="617.86" cy="237.21" r="1.2" fill="#111"/>
<circle cx="609.14" cy="230.93" r="1.2" fill="#111"/>
<circle cx="621.60" cy="237.12" r="1.2" fill="#111"/>
<circle cx="622.07" cy="227.62" r="1.2" fill="#111"/>
<circle cx="624.18" cy="241.88" r="1.2" fill="#111"/>
<circle cx="608.96" cy="239.69" r="1.2" fill="#111"/>
<circle cx="608.49" cy="240.51" r="1.2" fill="#111"/>
<circle cx="592.22" cy="240.13" r="1.2" fill="#111"/>
<circle cx="592.31" cy="228.10" r="1.2" fill="#111"/>
<circle cx="622.55" cy="239.14" r="1.2" fill="#111"/>
<circle cx="588.17" cy="217.08" r="1.2" fill="#111"/>
<circle cx="588.26" cy="215.64" r="1.2" fill="#111"/>
<circle cx="611.97" cy="241.97" r="1.2" fill="#111"/>
<circle cx="590.13" cy="234.78" r="1.2" fill="#111"/>
<circle cx="618.91" cy="240.61" r="1.2" fill="#111"/>
<circle cx="621.39" cy="227.21" r="1.2" fill="#111"/>
<circle cx="596.83" cy="239.35" r="1.2" fill="#111"/>
<circle cx="633.61" cy="230.21" r="1.2" fill="#111"/>
<circle cx="615.33" cy="235.03" r="1.2" fill="#111"/>
<circle cx="626.30" cy="241.51" r="1.2" fill="#111"/>
<circle cx="626.66" cy="234.44" r="1.2" fill="#111"/>
<circle cx="612.10" cy="230.81" r="1.2" fill="#111"/>
<circle cx="598.73" cy="240.71" r="1.2" fill="#111"/>
<circle cx="638.37" cy="238.75" r="1.2" fill="#111"/>
<circle cx="628.71" cy="241.08" r="1.2" fill="#111"/>
<circle cx="613.45" cy="242.12" r="1.2" fill="#111"/>
<circle cx="612.99" cy="239.92" r="1.2" fill="#111"/>
<circle cx="623.55" cy="225.92" r="1.2" fill="#111"/>
<circle cx="615.33" cy="231.94" r="1.2" fill="#111"/>
<circle cx="598.66" cy="226.21" r="1.2" fill="#111"/>
<circle cx="613.27" cy="228.19" r="1.2" fill="#111"/>
<circle cx="601.36" cy="237.41" r="1.2" fill="#111"/>
<circle cx="641.54" cy="233.19" r="1.2" fill="#111"/>
<circle cx="613.17" cy="237.33" r="1.2" fill="#111"/>
<circle cx="626.67" cy="239.73" r="1.2" fill="#111"/>
<circle cx="616.68" cy="235.96" r="1.2" fill="#111"/>
<circle cx="587.74" cy="236.97" r="1.2" fill="#111"/>
<circle cx="607.77" cy="240.66" r="1.2" fill="#111"/>
<circle cx="613.00" cy="237.63" r="1.2" fill="#111"/>
<circle cx="594.81" cy="241.13" r="1.2" fill="#111"/>
<circle cx="592.92" cy="238.91" r="1.2" fill="#111"/>
<circle cx="629.67" cy="240.59" r="1.2" fill="#111"/>
<circle cx="589.54" cy="232.12" r="1.2" fill="#111"/>
<circle cx="618.53" cy="235.35" r="1.2" fill="#111"/>
<circle cx="618.85" cy="231.88" r="1.2" fill="#111"/>
<circle cx="593.07" cy="238.00" r="1.2" fill="#111"/>
<circle cx="602.78" cy="239.37" r="1.2" fill="#111"/>
<circle cx="590.70" cy="234.31" r="1.2" fill="#111"/>
<circle cx="625.09" cy="226.66" r="1.2" fill="#111"/>
<circle cx="615.57" cy="237.33" r="1.2" fill="#111"/>
<circle cx="603.13" cy="241.04" r="1.2" fill="#111"/>
<circle cx="608.70" cy="240.68" r="1.2" fill="#111"/>
<circle cx="612.51" cy="240.68" r="1.2" fill="#111"/>
<circle cx="639.94" cy="235.94" r="1.2" fill="#111"/>
<circle cx="616.07" cy="229.00" r="1.2" fill="#111"/>
<circle cx="615.68" cy="237.44" r="1.2" fill="#111"/>
<circle cx="590.28" cy="236.22" r="1.2" fill="#111"/>
<circle cx="622.63" cy="235.29" r="1.2" fill="#111"/>
<circle cx="611.78" cy="229.79" r="1.2" fill="#111"/>
<circle cx="630.66" cy="239.20" r="1.2" fill="#111"/>
<circle cx="608.07" cy="241.59" r="1.2" fill="#111"/>
<circle cx="630.71" cy="229.57" r="1.2" fill="#111"/>
<circle cx="605.02" cy="240.03" r="1.2" fill="#111"/>
<circle cx="600.31" cy="238.17" r="1.2" fill="#111"/>
<circle cx="629.70" cy="223.44" r="1.2" fill="#111"/>
<circle cx="599.10" cy="237.23" r="1.2" fill="#111"/>
<circle cx="610.95" cy="241.62" r="1.2" fill="#111"/>
<circle cx="588.65" cy="233.15" r="1.2" fill="#111"/>
<circle cx="630.88" cy="239.64" r="1.2" fill="#111"/>
<circle cx="621.47" cy="240.50" r="1.2" fill="#111"/>
<circle cx="601.69" cy="241.74" r="1.2" fill="#111"/>
<circle cx="624.60" cy="236.82" r="1.2" fill="#111"/>
<circle cx="588.37" cy="224.62" r="1.2" fill="#111"/>
<circle cx="611.47" cy="240.18" r="1.2" fill="#111"/>
<circle cx="604.11" cy="242.26" r="1.2" fill="#111"/>
<circle cx="616.32" cy="241.98" r="1.2" fill="#111"/>
<circle cx="586.95" cy="232.53" r="1.2" fill="#111"/>
<circle cx="624.71" cy="234.76" r="1.2" fill="#111"/>
<circle cx="588.04" cy="236.18" r="1.2" fill="#111"/>
<circle cx="602.13" cy="238.40" r="1.2" fill="#111"/>
<circle cx="628.45" cy="240.52" r="1.2" fill="#111"/>
<circle cx="620.83" cy="241.84" r="1.2" fill="#111"/>
<circle cx="627.18" cy="240.18" r="1.2" fill="#111"/>
<circle cx="591.26" cy="235.04" r="1.2" fill="#111"/>
<circle cx="615.31" cy="239.22" r="1.2" fill="#111"/>
<circle cx="617.47" cy="233.75" r="1.2" fill="#111"/>
<circle cx="600.30" cy="231.70" r="1.2" fill="#111"/>
<circle cx="601.25" cy="240.44" r="1.2" fill="#111"/>
<circle cx="624.01" cy="225.49" r="1.2" fill="#111"/>
<circle cx="603.38" cy="234.19" r="1.2" fill="#111"/>
<circle cx="629.56" cy="240.49" r="1.2" fill="#111"/>
<circle cx="590.69" cy="229.20" r="1.2" fill="#111"/>
<circle cx="595.01" cy="238.90" r="1.2" fill="#111"/>
<circle cx="630.65" cy="238.83" r="1.2" fill="#111"/>
<circle cx="595.85" cy="240.10" r="1.2" fill="#111"/>
<circle cx="621.69" cy="238.82" r="1.2" fill="#111"/>
<circle cx="642.79" cy="235.62" r="1.2" fill="#111"/>
<circle cx="627.58" cy="231.52" r="1.2" fill="#111"/>
<circle cx="607.75" cy="240.90" r="1.2" fill="#111"/>
<circle cx="632.08" cy="223.49" r="1.2" fill="#111"/>
<circle cx="624.03" cy="228.25" r="1.2" fill="#111"/>
<circle cx="591.18" cy="235.95" r="1.2" fill="#111"/>
<circle cx="618.89" cy="230.11" r="1.2" fill="#111"/>
<circle cx="609.40" cy="237.89" r="1.2" fill="#111"/>
<circle cx="601.49" cy="237.27" r="1.2" fill="#111"/>
<circle cx="633.10" cy="241.17" r="1.2" fill="#111"/>
<circle cx="614.77" cy="241.56" r="1.2" fill="#111"/>
<circle cx="595.37" cy="214.72" r="1.2" fill="#111"/>
<circle cx="625.03" cy="241.04" r="1.2" fill="#111"/>
<circle cx="617.39" cy="235.46" r="1.2" fill="#111"/>
<circle cx="588.38" cy="235.82" r="1.2" fill="#111"/>
<circle cx="592.61" cy="239.17" r="1.2" fill="#111"/>
<circle cx="594.31" cy="238.91" r="1.2" fill="#111"/>
<circle cx="632.34" cy="237.80" r="1.2" fill="#111"/>
<circle cx="621.76" cy="233.44" r="1.2" fill="#111"/>
<circle cx="594.89" cy="237.68" r="1.2" fill="#111"/>
<circle cx="619.00" cy="241.41" r="1.2" fill="#111"/>
<circle cx="594.15" cy="225.82" r="1.2" fill="#111"/>
<circle cx="632.74" cy="240.46" r="1.2" fill="#111"/>
<circle cx="624.23" cy="241.86" r="1.2" fill="#111"/>
<circle cx="607.67" cy="229.16" r="1.2" fill="#111"/>
<circle cx="628.51" cy="237.80" r="1.2" fill="#111"/>
<circle cx="636.61" cy="231.80" r="1.2" fill="#111"/>
<circle cx="610.26" cy="229.88" r="1.2" fill="#111"/>
<circle cx="591.83" cy="239.85" r="1.2" fill="#111"/>
<circle cx="590.86" cy="238.61" r="1.2" fill="#111"/>
<circle cx="633.18" cy="232.65" r="1.2" fill="#111"/>
<circle cx="606.77" cy="241.22" r="1.2" fill="#111"/>
<circle cx="633.70" cy="236.85" r="1.2" fill="#111"/>
<circle cx="619.60" cy="238.72" r="1.2" fill="#111"/>
<circle cx="598.24" cy="234.07" r="1.2" fill="#111"/>
<circle cx="603.85" cy="238.13" r="1.2" fill="#111"/>
<circle cx="590.26" cy="239.21" r="1.2" fill="#111"/>
<circle cx="596.02" cy="241.15" r="1.2" fill="#111"/>
<circle cx="611.62" cy="224.12" r="1.2" fill="#111"/>
<circle cx="602.24" cy="241.15" r="1.2" fill="#111"/>
<circle cx="623.67" cy="238.89" r="1.2" fill="#111"/>
<circle cx="617.61" cy="242.30" r="1.2" fill="#111"/>
<circle cx="599.76" cy="238.44" r="1.2" fill="#111"/>
<circle cx="633.04" cy="238.89" r="1.2" fill="#111"/>
<circle cx="601.71" cy="239.98" r="1.2" fill="#111"/>
<circle cx="626.96" cy="238.77" r="1.2" fill="#111"/>
<circle cx="610.49" cy="222.84" r="1.2" fill="#111"/>
<circle cx="614.81" cy="241.88" r="1.2" fill="#111"/>
<circle cx="615.48" cy="238.20" r="1.2" fill="#111"/>
<circle cx="602.47" cy="225.13" r="1.2" fill="#111"/>
<circle cx="621.26" cy="229.74" r="1.2" fill="#111"/>
<circle cx="629.12" cy="233.29" r="1.2" fill="#111"/>
<circle cx="625.59" cy="240.65" r="1.2" fill="#111"/>
<circle cx="628.10" cy="239.10" r="1.2" fill="#111"/>
<circle cx="626.64" cy="240.92" r="1.2" fill="#111"/>
<circle cx="588.44" cy="227.68" r="1.2" fill="#111"/>
<circle cx="591.48" cy="236.64" r="1.2" fill="#111"/>
<circle cx="588.74" cy="224.56" r="1.2" fill="#111"/>
<circle cx="598.71" cy="231.51" r="1.2" fill="#111"/>
<circle cx="610.18" cy="237.98" r="1.2" fill="#111"/>
<circle cx="587.14" cy="236.51" r="1.2" fill="#111"/>
<circle cx="616.87" cy="241.89" r="1.2" fill="#111"/>
<circle cx="616.08" cy="239.04" r="1.2" fill="#111"/>
<circle cx="627.09" cy="240.91" r="1.2" fill="#111"/>
<circle cx="635.29" cy="238.22" r="1.2" fill="#111"/>
<circle cx="613.31" cy="238.21" r="1.2" fill="#111"/>
<circle cx="600.52" cy="234.45" r="1.2" fill="#111"/>
<circle cx="588.41" cy="237.55" r="1.2" fill="#111"/>
<circle cx="600.80" cy="223.62" r="1.2" fill="#111"/>
<circle cx="621.35" cy="240.63" r="1.2" fill="#111"/>
<circle cx="587.42" cy="235.84" r="1.2" fill="#111"/>
<circle cx="592.08" cy="235.49" r="1.2" fill="#111"/>
<circle cx="619.09" cy="239.44" r="1.2" fill="#111"/>
<circle cx="586.94" cy="236.14" r="1.2" fill="#111"/>
<circle cx="614.09" cy="241.18" r="1.2" fill="#111"/>
<circle cx="599.49" cy="239.39" r="1.2" fill="#111"/>
<circle cx="608.61" cy="228.35" r="1.2" fill="#111"/>
<circle cx="608.67" cy="238.00" r="1.2" fill="#111"/>
<circle cx="612.46" cy="229.26" r="1.2" fill="#111"/>
<circle cx="625.82" cy="232.15" r="1.2" fill="#111"/>
<circle cx="630.43" cy="228.07" r="1.2" fill="#111"/>
<circle cx="629.67" cy="232.97" r="1.2" fill="#111"/>
<circle cx="624.64" cy="242.22" r="1.2" fill="#111"/>
<circle cx="619.14" cy="238.27" r="1.2" fill="#111"/>
<circle cx="587.52" cy="227.08" r="1.2" fill="#111"/>
<circle cx="629.84" cy="240.29" r="1.2" fill="#111"/>
<circle cx="604.70" cy="241.52" r="1.2" fill="#111"/>
<circle cx="590.84" cy="237.81" r="1.2" fill="#111"/>
<circle cx="620.39" cy="226.68" r="1.2" fill="#111"/>
<circle cx="626.73" cy="240.73" r="1.2" fill="#111"/>
<circle cx="630.29" cy="231.00" r="1.2" fill="#111"/>
<circle cx="614.67" cy="229.19" r="1.2" fill="#111"/>
<circle cx="594.51" cy="235.40" r="1.2" fill="#111"/>
<circle cx="632.60" cy="239.39" r="1.2" fill="#111"/>
<circle cx="627.68" cy="241.34" r="1.2" fill="#111"/>
<circle cx="625.95" cy="232.96" r="1.2" fill="#111"/>
<circle cx="625.12" cy="240.32" r="1.2" fill="#111"/>
<circle cx="594.18" cy="239.66" r="1.2" fill="#111"/>
<circle cx="622.60" cy="234.73" r="1.2" fill="#111"/>
<circle cx="605.12" cy="238.41" r="1.2" fill="#111"/>
<circle cx="591.20" cy="226.32" r="1.2" fill="#111"/>
<circle cx="590.54" cy="239.17" r="1.2" fill="#111"/>
<circle cx="628.06" cy="239.54" r="1.2" fill="#111"/>
<circle cx="598.64" cy="238.47" r="1.2" fill="#111"/>
<circle cx="627.54" cy="239.57" r="1.2" fill="#111"/>
<circle cx="621.05" cy="222.08" r="1.2" fill="#111"/>
<circle cx="624.31" cy="228.30" r="1.2" fill="#111"/>
<circle cx="619.19" cy="226.71" r="1.2" fill="#111"/>
<circle cx="623.43" cy="236.33" r="1.2" fill="#111"/>
<circle cx="617.17" cy="239.24" r="1.2" fill="#111"/>
<circle cx="624.46" cy="237.63" r="1.2" fill="#111"/>
<circle cx="630.69" cy="232.19" r="1.2" fill="#111"/>
<circle cx="623.62" cy="240.92" r="1.2" fill="#111"/>
<circle cx="595.98" cy="240.97" r="1.2" fill="#111"/>
<circle cx="600.04" cy="241.73" r="1.2" fill="#111"/>
<circle cx="631.12" cy="239.68" r="1.2" fill="#111"/>
<circle cx="592.47" cy="235.10" r="1.2" fill="#111"/>
<circle cx="590.09" cy="221.84" r="1.2" fill="#111"/>
<circle cx="627.40" cy="235.96" r="1.2" fill="#111"/>
<circle cx="631.98" cy="240.44" r="1.2" fill="#111"/>
<circle cx="620.15" cy="240.92" r="1.2" fill="#111"/>
<circle cx="606.13" cy="239.92" r="1.2" fill="#111"/>
<circle cx="606.65" cy="242.08" r="1.2" fill="#111"/>
<circle cx="615.01" cy="240.83" r="1.2" fill="#111"/>
<circle cx="605.76" cy="238.43" r="1.2" fill="#111"/>
<circle cx="613.78" cy="232.65" r="1.2" fill="#111"/>
<circle cx="612.80" cy="231.91" r="1.2" fill="#111"/>
<circle cx="587.91" cy="234.89" r="1.2" fill="#111"/>
<circle cx="627.25" cy="229.91" r="1.2" fill="#111"/>
<circle cx="598.68" cy="232.49" r="1.2" fill="#111"/>
<circle cx="590.51" cy="235.38" r="1.2" fill="#111"/>
<circle cx="613.58" cy="237.34" r="1.2" fill="#111"/>
<circle cx="633.88" cy="233.82" r="1.2" fill="#111"/>
<circle cx="621.36" cy="241.73" r="1.2" fill="#111"/>
<circle cx="628.51" cy="239.66" r="1.2" fill="#111"/>
<circle cx="626.17" cy="235.42" r="1.2" fill="#111"/>
<circle cx="616.37" cy="240.69" r="1.2" fill="#111"/>
<circle cx="601.55" cy="230.70" r="1.2" fill="#111"/>
<circle cx="610.54" cy="239.65" r="1.2" fill="#111"/>
<circle cx="628.37" cy="234.69" r="1.2" fill="#111"/>
<circle cx="590.03" cy="227.34" r="1.2" fill="#111"/>
<circle cx="621.63" cy="236.12" r="1.2" fill="#111"/>
<circle cx="628.61" cy="241.56" r="1.2" fill="#111"/>
<circle cx="587.96" cy="234.48" r="1.2" fill="#111"/>
<circle cx="596.95" cy="239.67" r="1.2" fill="#111"/>
<circle cx="586.62" cy="225.62" r="1.2" fill="#111"/>
<circle cx="634.79" cy="230.35" r="1.2" fill="#111"/>
<circle cx="598.73" cy="239.21" r="1.2" fill="#111"/>
<circle cx="629.45" cy="241.69" r="1.2" fill="#111"/>
<circle cx="616.77" cy="238.39" r="1.2" fill="#111"/>
<circle cx="617.60" cy="234.85" r="1.2" fill="#111"/>
<circle cx="611.20" cy="236.46" r="1.2" fill="#111"/>
<circle cx="629.59" cy="239.17" r="1.2" fill="#111"/>
<circle cx="596.71" cy="241.43" r="1.2" fill="#111"/>
<circle cx="601.79" cy="228.14" r="1.2" fill="#111"/>
<circle cx="611.95" cy="242.19" r="1.2" fill="#111"/>
<circle cx="612.22" cy="237.60" r="1.2" fill="#111"/>
<circle cx="599.78" cy="239.60" r="1.2" fill="#111"/>
<circle cx="591.14" cy="239.91" r="1.2" fill="#111"/>
<circle cx="601.29" cy="238.70" r="1.2" fill="#111"/>
<circle cx="627.69" cy="241.83" r="1.2" fill="#111"/>
<circle cx="610.60" cy="241.28" r="1.2" fill="#111"/>
<circle cx="631.33" cy="230.60" r="1.2" fill="#111"/>
<circle cx="634.57" cy="233.06" r="1.2" fill="#111"/>
<circle cx="615.68" cy="230.39" r="1.2" fill="#111"/>
<circle cx="625.03" cy="241.05" r="1.2" fill="#111"/>
<circle cx="609.08" cy="235.55" r="1.2" fill="#111"/>
<circle cx="593.74" cy="240.96" r="1.2" fill="#111"/>
<circle cx="617.94" cy="233.10" r="1.2" fill="#111"/>
<circle cx="599.16" cy="241.73" r="1.2" fill="#111"/>
<circle cx="593.43" cy="239.26" r="1.2" fill="#111"/>
<circle cx="613.48" cy="241.00" r="1.2" fill="#111"/>
<circle cx="625.88" cy="231.94" r="1.2" fill="#111"/>
<circle cx="611.57" cy="234.19" r="1.2" fill="#111"/>
<circle cx="613.68" cy="225.59" r="1.2" fill="#111"/>
<circle cx="621.10" cy="242.29" r="1.2" fill="#111"/>
<circle cx="588.02" cy="234.54" r="1.2" fill="#111"/>
<circle cx="602.01" cy="239.02" r="1.2" fill="#111"/>
<circle cx="631.62" cy="241.03" r="1.2" fill="#111"/>
<circle cx="628.93" cy="239.89" r="1.2" fill="#111"/>
<circle cx="618.64" cy="241.28" r="1.2" fill="#111"/>
<circle cx="620.43" cy="237.53" r="1.2" fill="#111"/>
<circle cx="607.12" cy="232.36" r="1.2" fill="#111"/>
<circle cx="602.22" cy="223.16" r="1.2" fill="#111"/>
<circle cx="628.45" cy="241.78" r="1.2" fill="#111"/>
<circle cx="614.12" cy="241.66" r="1.2" fill="#111"/>
<circle cx="632.09" cy="239.51" r="1.2" fill="#111"/>
<circle cx="597.16" cy="241.21" r="1.2" fill="#111"/>
<circle cx="619.09" cy="238.22" r="1.2" fill="#111"/>
<circle cx="625.16" cy="237.48" r="1.2" fill="#111"/>
<circle cx="617.67" cy="240.67" r="1.2" fill="#111"/>
<circle cx="600.53" cy="239.72" r="1.2" fill="#111"/>
<circle cx="613.67" cy="239.50" r="1.2" fill="#111"/>
<circle cx="617.58" cy="239.02" r="1.2" fill="#111"/>
<circle cx="586.94" cy="223.08" r="1.2" fill="#111"/>
<circle cx="588.07" cy="231.14" r="1.2" fill="#111"/>
<circle cx="608.71" cy="232.41" r="1.2" fill="#111"/>
<circle cx="608.34" cy="236.85" r="1.2" fill="#111"/>
<circle cx="620.60" cy="234.04" r="1.2" fill="#111"/>
<circle cx="628.95" cy="241.33" r="1.2" fill="#111"/>
<circle cx="603.69" cy="240.24" r="1.2" fill="#111"/>
<circle cx="626.85" cy="241.58" r="1.2" fill="#111"/>
<circle cx="611.01" cy="237.68" r="1.2" fill="#111"/>
<circle cx="588.94" cy="234.11" r="1.2" fill="#111"/>
<circle cx="594.98" cy="240.79" r="1.2" fill="#111"/>
<circle cx="608.41" cy="239.95" r="1.2" fill="#111"/>
<circle cx="619.98" cy="230.65" r="1.2" fill="#111"/>
<circle cx="605.94" cy="239.22" r="1.2" fill="#111"/>
<circle cx="623.40" cy="241.64" r="1.2" fill="#111"/>
<circle cx="613.21" cy="222.54" r="1.2" fill="#111"/>
<circle cx="632.75" cy="229.04" r="1.2" fill="#111"/>
<circle cx="642.78" cy="238.50" r="1.2" fill="#111"/>
<circle cx="598.10" cy="238.69" r="1.2" fill="#111"/>
<circle cx="605.84" cy="242.08" r="1.2" fill="#111"/>
<circle cx="602.61" cy="235.11" r="1.2" fill="#111"/>
<circle cx="616.20" cy="238.18" r="1.2" fill="#111"/>
<circle cx="618.03" cy="232.97" r="1.2" fill="#111"/>
<circle cx="624.42" cy="239.72" r="1.2" fill="#111"/>
<circle cx="596.74" cy="227.74" r="1.2" fill="#111"/>
<circle cx="599.31" cy="240.39" r="1.2" fill="#111"/>
<circle cx="622.65" cy="239.11" r="1.2" fill="#111"/>
<circle cx="627.33" cy="241.49" r="1.2" fill="#111"/>
<circle cx="631.78" cy="239.25" r="1.2" fill="#111"/>
<circle cx="601.43" cy="239.09" r="1.2" fill="#111"/>
<circle cx="633.02" cy="230.59" r="1.2" fill="#111"/>
<circle cx="609.16" cy="237.32" r="1.2" fill="#111"/>
<circle cx="601.60" cy="227.81" r="1.2" fill="#111"/>
<circle cx="608.14" cy="227.57" r="1.2" fill="#111"/>
<circle cx="614.13" cy="241.57" r="1.2" fill="#111"/>
<circle cx="610.06" cy="239.46" r="1.2" fill="#111"/>
<circle cx="591.80" cy="239.27" r="1.2" fill="#111"/>
<circle cx="624.80" cy="242.30" r="1.2" fill="#111"/>
<circle cx="588.31" cy="234.20" r="1.2" fill="#111"/>
<circle cx="628.69" cy="232.81" r="1.2" fill="#111"/>
<circle cx="600.95" cy="225.35" r="1.2" fill="#111"/>
<circle cx="628.39" cy="241.54" r="1.2" fill="#111"/>
<circle cx="613.77" cy="242.09" r="1.2" fill="#111"/>
<circle cx="602.22" cy="239.20" r="1.2" fill="#111"/>
<circle cx="597.01" cy="240.74" r="1.2" fill="#111"/>
<circle cx="626.02" cy="242.15" r="1.2" fill="#111"/>
<circle cx="596.88" cy="230.52" r="1.2" fill="#111"/>
<circle cx="633.59" cy="240.57" r="1.2" fill="#111"/>
<circle cx="592.05" cy="235.20" r="1.2" fill="#111"/>
<circle cx="612.14" cy="237.82" r="1.2" fill="#111"/>
<circle cx="589.77" cy="215.54" r="1.2" fill="#111"/>
<circle cx="628.82" cy="241.14" r="1.2" fill="#111"/>
<circle cx="589.84" cy="236.61" r="1.2" fill="#111"/>
<circle cx="622.75" cy="239.62" r="1.2" fill="#111"/>
<circle cx="611.61" cy="240.15" r="1.2" fill="#111"/>
<circle cx="591.17" cy="220.12" r="1.2" fill="#111"/>
<circle cx="626.97" cy="236.50" r="1.2" fill="#111"/>
<circle cx="609.41" cy="225.21" r="1.2" fill="#111"/>
<circle cx="604.31" cy="231.05" r="1.2" fill="#111"/>
<circle cx="636.63" cy="240.17" r="1.2" fill="#111"/>
<circle cx="621.67" cy="232.32" r="1.2" fill="#111"/>
<circle cx="606.25" cy="238.48" r="1.2" fill="#111"/>
<circle cx="588.78" cy="237.05" r="1.2" fill="#111"/>
<circle cx="592.28" cy="229.86" r="1.2" fill="#111"/>
<circle cx="594.57" cy="230.93" r="1.2" fill="#111"/>
<circle cx="624.89" cy="240.53" r="1.2" fill="#111"/>
<circle cx="610.03" cy="233.54" r="1.2" fill="#111"/>
<circle cx="593.18" cy="234.66" r="1.2" fill="#111"/>
<circle cx="601.34" cy="236.90" r="1.2" fill="#111"/>
<circle cx="602.28" cy="241.74" r="1.2" fill="#111"/>
<circle cx="626.46" cy="241.10" r="1.2" fill="#111"/>
<circle cx="620.09" cy="236.58" r="1.2" fill="#111"/>
<circle cx="606.57" cy="240.29" r="1.2" fill="#111"/>
<circle cx="595.28" cy="224.81" r="1.2" fill="#111"/>
<circle cx="619.53" cy="231.36" r="1.2" fill="#111"/>
<circle cx="593.11" cy="240.35" r="1.2" fill="#111"/>
<circle cx="622.49" cy="235.77" r="1.2" fill="#111"/>
<circle cx="593.89" cy="239.16" r="1.2" fill="#111"/>
<circle cx="616.95" cy="242.13" r="1.2" fill="#111"/>
<circle cx="592.61" cy="236.47" r="1.2" fill="#111"/>
<circle cx="613.95" cy="237.58" r="1.2" fill="#111"/>
<circle cx="628.69" cy="241.05" r="1.2" fill="#111"/>
<circle cx="596.83" cy="234.20" r="1.2" fill="#111"/>
<circle cx="596.49" cy="241.54" r="1.2" fill="#111"/>
<circle cx="596.84" cy="235.48" r="1.2" fill="#111"/>
<circle cx="595.35" cy="229.52" r="1.2" fill="#111"/>
<circle cx="601.10" cy="238.04" r="1.2" fill="#111"/>
<circle cx="620.05" cy="239.51" r="1.2" fill="#111"/>
<circle cx="589.53" cy="216.02" r="1.2" fill="#111"/>
<circle cx="586.18" cy="227.54" r="1.2" fill="#111"/>
<circle cx="607.74" cy="230.37" r="1.2" fill="#111"/>
<circle cx="607.86" cy="217.81" r="1.2" fill="#111"/>
<circle cx="593.90" cy="239.18" r="1.2" fill="#111"/>
<circle cx="626.68" cy="238.12" r="1.2" fill="#111"/>
<circle cx="589.39" cy="215.89" r="1.2" fill="#111"/>
<circle cx="622.08" cy="225.83" r="1.2" fill="#111"/>
<circle cx="621.97" cy="241.72" r="1.2" fill="#111"/>
<circle cx="621.71" cy="236.72" r="1.2" fill="#111"/>
<circle cx="602.85" cy="242.28" r="1.2" fill="#111"/>
<circle cx="610.69" cy="230.65" r="1.2" fill="#111"/>
<circle cx="635.00" cy="236.21" r="1.2" fill="#111"/>
<circle cx="616.22" cy="240.78" r="1.2" fill="#111"/>
<circle cx="609.77" cy="228.12" r="1.2" fill="#111"/>
<circle cx="626.77" cy="231.14" r="1.2" fill="#111"/>
<circle cx="590.97" cy="221.28" r="1.2" fill="#111"/>
<circle cx="623.93" cy="232.87" r="1.2" fill="#111"/>
<circle cx="621.23" cy="238.38" r="1.2" fill="#111"/>
<circle cx="593.88" cy="235.75" r="1.2" fill="#111"/>
<circle cx="602.75" cy="241.98" r="1.2" fill="#111"/>
<circle cx="602.13" cy="240.84" r="1.2" fill="#111"/>
<circle cx="625.32" cy="241.32" r="1.2" fill="#111"/>
<circle cx="617.55" cy="225.27" r="1.2" fill="#111"/>
<circle cx="638.04" cy="233.23" r="1.2" fill="#111"/>
<circle cx="614.90" cy="226.98" r="1.2" fill="#111"/>
<circle cx="621.84" cy="242.17" r="1.2" fill="#111"/>
<circle cx="598.11" cy="223.20" r="1.2" fill="#111"/>
<circle cx="641.29" cy="234.54" r="1.2" fill="#111"/>
<circle cx="631.67" cy="224.03" r="1.2" fill="#111"/>
<circle cx="622.53" cy="239.27" r="1.2" fill="#111"/>
<circle cx="615.09" cy="241.62" r="1.2" fill="#111"/>
<circle cx="607.28" cy="233.98" r="1.2" fill="#111"/>
<circle cx="596.07" cy="238.13" r="1.2" fill="#111"/>
<circle cx="611.51" cy="240.30" r="1.2" fill="#111"/>
<circle cx="622.39" cy="238.56" r="1.2" fill="#111"/>
<circle cx="620.90" cy="237.87" r="1.2" fill="#111"/>
<circle cx="631.31" cy="238.79" r="1.2" fill="#111"/>
<circle cx="597.82" cy="241.45" r="1.2" fill="#111"/>
<circle cx="619.99" cy="222.99" r="1.2" fill="#111"/>
<circle cx="631.47" cy="238.94" r="1.2" fill="#111"/>
<circle cx="618.31" cy="242.19" r="1.2" fill="#111"/>
<circle cx="640.98" cy="238.24" r="1.2" fill="#111"/>
<circle cx="632.93" cy="231.46" r="1.2" fill="#111"/>
<circle cx="612.29" cy="240.48" r="1.2" fill="#111"/>
<circle cx="637.49" cy="239.51" r="1.2" fill="#111"/>
<circle cx="588.25" cy="229.17" r="1.2" fill="#111"/>
<circle cx="597.04" cy="238.44" r="1.2" fill="#111"/>
<circle cx="624.86" cy="231.56" r="1.2" fill="#111"/>
<circle cx="617.39" cy="227.66" r="1.2" fill="#111"/>
<circle cx="621.35" cy="238.71" r="1.2" fill="#111"/>
<circle cx="622.20" cy="241.16" r="1.2" fill="#111"/>
<circle cx="603.07" cy="240.82" r="1.2" fill="#111"/>
<circle cx="633.53" cy="239.31" r="1.2" fill="#111"/>
<circle cx="609.60" cy="238.36" r="1.2" fill="#111"/>
<circle cx="633.96" cy="241.10" r="1.2" fill="#111"/>
<circle cx="638.62" cy="239.68" r="1.2" fill="#111"/>
<circle cx="596.26" cy="229.34" r="1.2" fill="#111"/>
<circle cx="599.19" cy="236.50" r="1.2" fill="#111"/>
<circle cx="633.04" cy="226.71" r="1.2" fill="#111"/>
<circle cx="614.61" cy="229.88" r="1.2" fill="#111"/>
<circle cx="599.40" cy="223.63" r="1.2" fill="#111"/>
<circle cx="608.53" cy="228.25" r="1.2" fill="#111"/>
<circle cx="636.67" cy="238.71" r="1.2" fill="#111"/>
<circle cx="604.53" cy="222.50" r="1.2" fill="#111"/>
<circle cx="597.19" cy="242.02" r="1.2" fill="#111"/>
<circle cx="588.74" cy="214.67" r="1.2" fill="#111"/>
<circle cx="589.88" cy="236.59" r="1.2" fill="#111"/>
<circle cx="590.06" cy="233.73" r="1.2" fill="#111"/>
<circle cx="619.38" cy="239.55" r="1.2" fill="#111"/>
<circle cx="610.09" cy="241.07" r="1.2" fill="#111"/>
<circle cx="621.00" cy="238.63" r="1.2" fill="#111"/>
<circle cx="590.26" cy="237.45" r="1.2" fill="#111"/>
<circle cx="587.67" cy="232.41" r="1.2" fill="#111"/>
<circle cx="592.15" cy="228.05" r="1.2" fill="#111"/>
<circle cx="612.91" cy="238.72" r="1.2" fill="#111"/>
<circle cx="590.76" cy="237.65" r="1.2" fill="#111"/>
<circle cx="599.99" cy="237.17" r="1.2" fill="#111"/>
<circle cx="602.56" cy="234.51" r="1.2" fill="#111"/>
<circle cx="639.82" cy="238.47" r="1.2" fill="#111"/>
<circle cx="635.36" cy="238.83" r="1.2" fill="#111"/>
<circle cx="589.10" cy="237.86" r="1.2" fill="#111"/>
<circle cx="621.32" cy="242.10" r="1.2" fill="#111"/>
<circle cx="622.97" cy="241.32" r="1.2" fill="#111"/>
<circle cx="605.26" cy="232.57" r="1.2" fill="#111"/>
<circle cx="596.21" cy="242.04" r="1.2" fill="#111"/>
<circle cx="631.50" cy="240.39" r="1.2" fill="#111"/>
<circle cx="586.46" cy="217.08" r="1.2" fill="#111"/>
<circle cx="615.60" cy="236.35" r="1.2" fill="#111"/>
<circle cx="596.92" cy="230.04" r="1.2" fill="#111"/>
<circle cx="593.62" cy="240.59" r="1.2" fill="#111"/>
<circle cx="635.92" cy="235.89" r="1.2" fill="#111"/>
<circle cx="617.83" cy="238.85" r="1.2" fill="#111"/>
<circle cx="632.16" cy="241.31" r="1.2" fill="#111"/>
<circle cx="592.40" cy="234.24" r="1.2" fill="#111"/>
<circle cx="600.20" cy="237.90" r="1.2" fill="#111"/>
<circle cx="592.67" cy="240.41" r="1.2" fill="#111"/>
<circle cx="595.87" cy="234.82" r="1.2" fill="#111"/>
<circle cx="595.71" cy="234.54" r="1.2" fill="#111"/>
<circle cx="628.02" cy="233.72" r="1.2" fill="#111"/>
<circle cx="613.40" cy="226.93" r="1.2" fill="#111"/>
<circle cx="602.54" cy="236.40" r="1.2" fill="#111"/>
<circle cx="586.99" cy="231.42" r="1.2" fill="#111"/>
<circle cx="607.80" cy="242.21" r="1.2" fill="#111"/>
<circle cx="618.85" cy="233.68" r="1.2" fill="#111"/>
<circle cx="630.45" cy="236.91" r="1.2" fill="#111"/>
<circle cx="604.52" cy="228.48" r="1.2" fill="#111"/>
<circle cx="614.50" cy="240.06" r="1.2" fill="#111"/>
<circle cx="632.00" cy="230.04" r="1.2" fill="#111"/>
<circle cx="625.23" cy="235.74" r="1.2" fill="#111"/>
<circle cx="586.81" cy="235.14" r="1.2" fill="#111"/>
<circle cx="604.71" cy="237.73" r="1.2" fill="#111"/>
<circle cx="600.63" cy="231.81" r="1.2" fill="#111"/>
<circle cx="612.28" cy="239.69" r="1.2" fill="#111"/>
<circle cx="588.67" cy="222.34" r="1.2" fill="#111"/>
<circle cx="631.82" cy="238.38" r="1.2" fill="#111"/>
<circle cx="599.51" cy="229.39" r="1.2" fill="#111"/>
<circle cx="617.32" cy="239.76" r="1.2" fill="#111"/>
<circle cx="588.81" cy="231.96" r="1.2" fill="#111"/>
<circle cx="630.48" cy="229.86" r="1.2" fill="#111"/>
<circle cx="598.14" cy="238.77" r="1.2" fill="#111"/>
<circle cx="628.34" cy="226.80" r="1.2" fill="#111"/>
<circle cx="596.68" cy="240.45" r="1.2" fill="#111"/>
<circle cx="622.94" cy="239.80" r="1.2" fill="#111"/>
<circle cx="622.07" cy="238.92" r="1.2" fill="#111"/>
<circle cx="612.63" cy="223.25" r="1.2" fill="#111"/>
<circle cx="606.69" cy="232.38" r="1.2" fill="#111"/>
<circle cx="593.99" cy="240.77" r="1.2" fill="#111"/>
<circle cx="605.20" cy="240.13" r="1.2" fill="#111"/>
<circle cx="602.97" cy="241.48" r="1.2" fill="#111"/>
<circle cx="612.90" cy="238.52" r="1.2" fill="#111"/>
<circle cx="599.68" cy="214.31" r="1.2" fill="#111"/>
<circle cx="628.65" cy="241.00" r="1.2" fill="#111"/>
<circle cx="623.38" cy="241.18" r="1.2" fill="#111"/>
<circle cx="628.24" cy="234.96" r="1.2" fill="#111"/>
<circle cx="622.18" cy="227.97" r="1.2" fill="#111"/>
<circle cx="604.18" cy="228.90" r="1.2" fill="#111"/>
<circle cx="586.53" cy="231.38" r="1.2" fill="#111"/>
<circle cx="595.06" cy="229.76" r="1.2" fill="#111"/>
<circle cx="631.96" cy="238.33" r="1.2" fill="#111"/>
<circle cx="620.14" cy="237.83" r="1.2" fill="#111"/>
<circle cx="619.10" cy="239.34" r="1.2" fill="#111"/>
<circle cx="636.68" cy="233.03" r="1.2" fill="#111"/>
<circle cx="611.24" cy="238.89" r="1.2" fill="#111"/>
<circle cx="625.87" cy="232.23" r="1.2" fill="#111"/>
<circle cx="596.62" cy="241.86" r="1.2" fill="#111"/>
<circle cx="617.80" cy="237.21" r="1.2" fill="#111"/>
<circle cx="629.04" cy="224.29" r="1.2" fill="#111"/>
<circle cx="602.30" cy="241.60" r="1.2" fill="#111"/>
<circle cx="592.86" cy="238.00" r="1.2" fill="#111"/>
<circle cx="593.35" cy="236.25" r="1.2" fill="#111"/>
<circle cx="600.90" cy="227.32" r="1.2" fill="#111"/>
<circle cx="627.15" cy="234.32" r="1.2" fill="#111"/>
<circle cx="604.49" cy="241.75" r="1.2" fill="#111"/>
<circle cx="612.89" cy="240.61" r="1.2" fill="#111"/>
<circle cx="609.16" cy="237.66" r="1.2" fill="#111"/>
<circle cx="624.21" cy="240.04" r="1.2" fill="#111"/>
<circle cx="614.33" cy="242.11" r="1.2" fill="#111"/>
<circle cx="629.86" cy="238.20" r="1.2" fill="#111"/>
<circle cx="608.83" cy="235.16" r="1.2" fill="#111"/>
<circle cx="604.54" cy="230.30" r="1.2" fill="#111"/>
<circle cx="599.58" cy="237.92" r="1.2" fill="#111"/>
<circle cx="621.52" cy="241.18" r="1.2" fill="#111"/>
<circle cx="610.92" cy="241.62" r="1.2" fill="#111"/>
<circle cx="601.99" cy="237.89" r="1.2" fill="#111"/>
<circle cx="600.09" cy="235.68" r="1.2" fill="#111"/>
<circle cx="600.11" cy="241.80" r="1.2" fill="#111"/>
<circle cx="586.61" cy="210.89" r="1.2" fill="#111"/>
<circle cx="618.86" cy="242.26" r="1.2" fill="#111"/>
<circle cx="594.04" cy="228.93" r="1.2" fill="#111"/>
<circle cx="621.63" cy="236.22" r="1.2" fill="#111"/>
<circle cx="589.54" cy="237.16" r="1.2" fill="#111"/>
<circle cx="623.22" cy="240.25" r="1.2" fill="#111"/>
<circle cx="596.13" cy="234.94" r="1.2" fill="#111"/>
<circle cx="621.75" cy="238.10" r="1.2" fill="#111"/>
<circle cx="605.29" cy="241.70" r="1.2" fill="#111"/>
<circle cx="624.17" cy="229.79" r="1.2" fill="#111"/>
<circle cx="625.70" cy="227.66" r="1.2" fill="#111"/>
<circle cx="637.70" cy="235.79" r="1.2" fill="#111"/>
<circle cx="589.05" cy="232.27" r="1.2" fill="#111"/>
<circle cx="610.06" cy="238.47" r="1.2" fill="#111"/>
<circle cx="610.16" cy="237.74" r="1.2" fill="#111"/>
<circle cx="620.62" cy="241.31" r="1.2" fill="#111"/>
<circle cx="597.19" cy="232.82" r="1.2" fill="#111"/>
<circle cx="593.57" cy="240.19" r="1.2" fill="#111"/>
<circle cx="627.15" cy="241.85" r="1.2" fill="#111"/>
<circle cx="607.30" cy="240.36" r="1.2" fill="#111"/>
<circle cx="617.95" cy="241.33" r="1.2" fill="#111"/>
<circle cx="621.26" cy="240.71" r="1.2" fill="#111"/>
<circle cx="596.23" cy="219.98" r="1.2" fill="#111"/>
<circle cx="607.37" cy="238.93" r="1.2" fill="#111"/>
<circle cx="632.96" cy="239.30" r="1.2" fill="#111"/>
<circle cx="613.56" cy="229.83" r="1.2" fill="#111"/>
<circle cx="627.50" cy="239.03" r="1.2" fill="#111"/>
<circle cx="622.93" cy="239.14" r="1.2" fill="#111"/>
<circle cx="628.21" cy="231.70" r="1.2" fill="#111"/>
<circle cx="634.49" cy="230.90" r="1.2" fill="#111"/>
<circle cx="601.28" cy="240.78" r="1.2" fill="#111"/>
<circle cx="605.66" cy="240.06" r="1.2" fill="#111"/>
<circle cx="623.22" cy="231.25" r="1.2" fill="#111"/>
<circle cx="636.04" cy="240.97" r="1.2" fill="#111"/>
<circle cx="592.68" cy="231.57" r="1.2" fill="#111"/>
<circle cx="624.56" cy="237.56" r="1.2" fill="#111"/>
<circle cx="619.24" cy="240.46" r="1.2" fill="#111"/>
<circle cx="606.63" cy="240.88" r="1.2" fill="#111"/>
<circle cx="593.34" cy="240.77" r="1.2" fill="#111"/>
<circle cx="599.06" cy="240.83" r="1.2" fill="#111"/>
<circle cx="629.58" cy="225.84" r="1.2" fill="#111"/>
<circle cx="589.72" cy="231.74" r="1.2" fill="#111"/>
<circle cx="606.67" cy="221.19" r="1.2" fill="#111"/>
<circle cx="593.37" cy="240.61" r="1.2" fill="#111"/>
<circle cx="622.40" cy="237.88" r="1.2" fill="#111"/>
<circle cx="629.52" cy="235.42" r="1.2" fill="#111"/>
<circle cx="608.69" cy="242.12" r="1.2" fill="#111"/>
<circle cx="610.77" cy="238.72" r="1.2" fill="#111"/>
<circle cx="594.82" cy="235.96" r="1.2" fill="#111"/>
<circle cx="588.20" cy="228.15" r="1.2" fill="#111"/>
<circle cx="589.59" cy="229.49" r="1.2" fill="#111"/>
<circle cx="587.12" cy="232.40" r="1.2" fill="#111"/>
<circle cx="602.91" cy="242.02" r="1.2" fill="#111"/>
<circle cx="592.96" cy="231.51" r="1.2" fill="#111"/>
<circle cx="604.68" cy="239.27" r="1.2" fill="#111"/>
<circle cx="594.74" cy="238.34" r="1.2" fill="#111"/>
<circle cx="618.72" cy="237.98" r="1.2" fill="#111"/>
<circle cx="603.25" cy="233.37" r="1.2" fill="#111"/>
<circle cx="640.42" cy="225.60" r="1.2" fill="#111"/>
<circle cx="635.73" cy="229.66" r="1.2" fill="#111"/>
<circle cx="587.65" cy="233.21" r="1.2" fill="#111"/>
<circle cx="608.68" cy="223.34" r="1.2" fill="#111"/>
<circle cx="591.33" cy="229.86" r="1.2" fill="#111"/>
<circle cx="627.42" cy="240.94" r="1.2" fill="#111"/>
<circle cx="587.01" cy="229.37" r="1.2" fill="#111"/>
<circle cx="587.50" cy="237.03" r="1.2" fill="#111"/>
<circle cx="598.67" cy="232.69" r="1.2" fill="#111"/>
<circle cx="607.73" cy="238.90" r="1.2" fill="#111"/>
<circle cx="647.19" cy="231.12" r="1.2" fill="#111"/>
<circle cx="651.27" cy="232.55" r="1.2" fill="#111"/>
<circle cx="656.38" cy="230.51" r="1.2" fill="#111"/>
<circle cx="658.43" cy="230.51" r="1.2" fill="#111"/>
<circle cx="662.51" cy="233.57" r="1.2" fill="#111"/>
<circle cx="670.08" cy="234.60" r="1.2" fill="#111"/>
<circle cx="649.23" cy="236.64" r="1.2" fill="#111"/>
<circle cx="651.27" cy="238.68" r="1.2" fill="#111"/>
<circle cx="657.41" cy="235.62" r="1.2" fill="#111"/>
<circle cx="643.51" cy="225.40" r="1.2" fill="#111"/>
<circle cx="641.06" cy="221.31" r="1.2" fill="#111"/>
<circle cx="596.71" cy="177.37" r="1.2" fill="#111"/>
<circle cx="590.98" cy="186.57" r="1.2" fill="#111"/>
<circle cx="599.16" cy="202.51" r="1.2" fill="#111"/>
<circle cx="602.22" cy="203.33" r="1.2" fill="#111"/>
<circle cx="604.27" cy="208.03" r="1.2" fill="#111"/>
<circle cx="611.42" cy="207.01" r="1.2" fill="#111"/>
<circle cx="626.75" cy="209.05" r="1.2" fill="#111"/>
<circle cx="621.64" cy="210.07" r="1.2" fill="#111"/>
<circle cx="614.49" cy="211.09" r="1.2" fill="#111"/>
<circle cx="589.96" cy="209.05" r="1.2" fill="#111"/>
<circle cx="611.42" cy="189.63" r="1.2" fill="#111"/>
<circle cx="623.68" cy="199.85" r="1.2" fill="#111"/>
<circle cx="629.82" cy="208.03" r="1.2" fill="#111"/>
<circle cx="643.10" cy="237.66" r="1.2" fill="#111"/>
<circle cx="645.14" cy="240.73" r="1.2" fill="#111"/>
<circle cx="663.54" cy="217.22" r="1.2" fill="#111"/>
<circle cx="586.49" cy="183.71" r="1.8" fill="#c9252b"/>
<circle cx="596.71" cy="187.59" r="1.8" fill="#c9252b"/>
<circle cx="614.08" cy="179.42" r="1.8" fill="#c9252b"/>
<circle cx="621.23" cy="187.59" r="1.8" fill="#c9252b"/>
<circle cx="619.60" cy="189.23" r="1.8" fill="#c9252b"/>
<circle cx="628.18" cy="195.77" r="1.8" fill="#c9252b"/>
<circle cx="636.97" cy="201.90" r="1.8" fill="#c9252b"/>
<circle cx="632.27" cy="201.90" r="1.8" fill="#c9252b"/>
<circle cx="628.38" cy="204.14" r="1.8" fill="#c9252b"/>
<circle cx="593.64" cy="200.67" r="1.8" fill="#c9252b"/>
<circle cx="614.08" cy="202.71" r="1.8" fill="#c9252b"/>
<circle cx="646.78" cy="213.75" r="1.8" fill="#c9252b"/>
<circle cx="632.27" cy="214.36" r="1.8" fill="#c9252b"/>
<circle cx="624.30" cy="217.22" r="1.8" fill="#c9252b"/>
<line x1="586.49" y1="175.33" x2="586.49" y2="182.07" stroke="#777" stroke-width="0.5"/>
<line x1="616.94" y1="176.35" x2="614.90" y2="178.39" stroke="#777" stroke-width="0.5"/>
<line x1="634.92" y1="183.50" x2="622.66" y2="186.98" stroke="#777" stroke-width="0.5"/>
<line x1="655.36" y1="198.83" x2="638.60" y2="201.69" stroke="#777" stroke-width="0.5"/>
<line x1="662.51" y1="213.75" x2="648.41" y2="213.75" stroke="#777" stroke-width="0.5"/>
<line x1="646.16" y1="219.27" x2="633.70" y2="214.77" stroke="#777" stroke-width="0.5"/>
<line x1="651.27" y1="224.99" x2="625.52" y2="217.84" stroke="#777" stroke-width="0.5"/>
<line x1="631.86" y1="207.41" x2="629.20" y2="204.96" stroke="#777" stroke-width="0.5"/>
<line x1="593.03" y1="197.20" x2="593.64" y2="199.24" stroke="#777" stroke-width="0.5"/>
<text x="577.09" y="173.69" font-size="7.6" font-style="italic">IFNL3</text>
<text x="617.96" y="177.37" font-size="7.6" font-style="italic">CXCL11</text>
<text x="596.50" y="183.50" font-size="7.6" font-style="italic">IFNL1</text>
<text x="634.92" y="185.55" font-size="7.6" font-style="italic">CXCL10</text>
<text x="621.64" y="191.68" font-size="7.6" font-style="italic">IFIT2</text>
<text x="575.04" y="196.79" font-size="7.6" font-style="italic">CCL5</text>
<text x="598.14" y="197.20" font-size="7.6" font-style="italic">RSAD2</text>
<text x="631.86" y="197.81" font-size="7.6" font-style="italic">IFIT1</text>
<text x="655.97" y="199.24" font-size="7.6" font-style="italic">ISG15</text>
<text x="633.29" y="209.66" font-size="7.6" font-style="italic">MX2</text>
<text x="649.23" y="207.01" font-size="7.6" font-style="italic">IFIT3</text>
<text x="663.13" y="215.18" font-size="7.6" font-style="italic">MX1</text>
<text x="646.16" y="221.31" font-size="7.6" font-style="italic">OAS3</text>
<text x="645.55" y="227.85" font-size="7.6" font-style="italic">BST2</text>
<text x="19.30" y="303.80" font-size="8.75">Human bronchial<tspan font-size="0.66em" dy="-4.1">ALI</tspan></text>
<rect x="36.20" y="308.80" width="11.28" height="5.83" fill="#6e6e6e"/>
<rect x="47.03" y="308.80" width="11.28" height="5.83" fill="#333333"/>
<rect x="57.86" y="308.80" width="11.28" height="5.83" fill="#9a9a9a"/>
<rect x="68.69" y="308.80" width="10.83" height="5.83" fill="#888888"/>
<rect x="36.20" y="314.18" width="11.28" height="5.83" fill="#606060"/>
<rect x="47.03" y="314.18" width="11.28" height="5.83" fill="#999999"/>
<rect x="57.86" y="314.18" width="11.28" height="5.83" fill="#959595"/>
<rect x="68.69" y="314.18" width="10.83" height="5.83" fill="#8c8c8c"/>
<rect x="36.20" y="319.57" width="11.28" height="5.83" fill="#686868"/>
<rect x="47.03" y="319.57" width="11.28" height="5.83" fill="#707070"/>
<rect x="57.86" y="319.57" width="11.28" height="5.83" fill="#7c7c7c"/>
<rect x="68.69" y="319.57" width="10.83" height="5.83" fill="#8a8a8a"/>
<rect x="36.20" y="324.95" width="11.28" height="5.83" fill="#a5a5a5"/>
<rect x="47.03" y="324.95" width="11.28" height="5.83" fill="#b0b0b0"/>
<rect x="57.86" y="324.95" width="11.28" height="5.83" fill="#b0b0b0"/>
<rect x="68.69" y="324.95" width="10.83" height="5.83" fill="#b5b5b5"/>
<rect x="36.20" y="330.33" width="11.28" height="5.83" fill="#cccccc"/>
<rect x="47.03" y="330.33" width="11.28" height="5.83" fill="#d2d2d2"/>
<rect x="57.86" y="330.33" width="11.28" height="5.83" fill="#d0d0d0"/>
<rect x="68.69" y="330.33" width="10.83" height="5.83" fill="#d8d8d8"/>
<rect x="36.20" y="335.71" width="11.28" height="5.83" fill="#8c8c8c"/>
<rect x="47.03" y="335.71" width="11.28" height="5.83" fill="#5a5a5a"/>
<rect x="57.86" y="335.71" width="11.28" height="5.83" fill="#9c9c9c"/>
<rect x="68.69" y="335.71" width="10.83" height="5.83" fill="#8a8a8a"/>
<rect x="36.20" y="341.10" width="11.28" height="5.83" fill="#868686"/>
<rect x="47.03" y="341.10" width="11.28" height="5.83" fill="#585858"/>
<rect x="57.86" y="341.10" width="11.28" height="5.83" fill="#808080"/>
<rect x="68.69" y="341.10" width="10.83" height="5.83" fill="#888888"/>
<rect x="36.20" y="346.48" width="11.28" height="5.83" fill="#222222"/>
<rect x="47.03" y="346.48" width="11.28" height="5.83" fill="#404040"/>
<rect x="57.86" y="346.48" width="11.28" height="5.83" fill="#080808"/>
<rect x="68.69" y="346.48" width="10.83" height="5.83" fill="#050505"/>
<rect x="36.20" y="351.86" width="11.28" height="5.83" fill="#9a9a9a"/>
<rect x="47.03" y="351.86" width="11.28" height="5.83" fill="#7c7c7c"/>
<rect x="57.86" y="351.86" width="11.28" height="5.83" fill="#b0b0b0"/>
<rect x="68.69" y="351.86" width="10.83" height="5.83" fill="#989898"/>
<rect x="36.20" y="357.24" width="11.28" height="5.83" fill="#de2c30"/>
<rect x="47.03" y="357.24" width="11.28" height="5.83" fill="#ed9193"/>
<rect x="57.86" y="357.24" width="11.28" height="5.83" fill="#de2c30"/>
<rect x="68.69" y="357.24" width="10.83" height="5.83" fill="#e55e61"/>
<rect x="36.20" y="362.63" width="11.28" height="5.83" fill="#7c7c7c"/>
<rect x="47.03" y="362.63" width="11.28" height="5.83" fill="#a0a0a0"/>
<rect x="57.86" y="362.63" width="11.28" height="5.83" fill="#a0a0a0"/>
<rect x="68.69" y="362.63" width="10.83" height="5.83" fill="#a5a5a5"/>
<rect x="36.20" y="368.01" width="11.28" height="5.83" fill="#5c5c5c"/>
<rect x="47.03" y="368.01" width="11.28" height="5.83" fill="#606060"/>
<rect x="57.86" y="368.01" width="11.28" height="5.83" fill="#888888"/>
<rect x="68.69" y="368.01" width="10.83" height="5.83" fill="#8c8c8c"/>
<rect x="36.20" y="373.39" width="11.28" height="5.83" fill="#c4c4c4"/>
<rect x="47.03" y="373.39" width="11.28" height="5.83" fill="#b4b4b4"/>
<rect x="57.86" y="373.39" width="11.28" height="5.83" fill="#eeeeee"/>
<rect x="68.69" y="373.39" width="10.83" height="5.83" fill="#ececec"/>
<rect x="36.20" y="378.77" width="11.28" height="5.83" fill="#aaaaaa"/>
<rect x="47.03" y="378.77" width="11.28" height="5.83" fill="#a0a0a0"/>
<rect x="57.86" y="378.77" width="11.28" height="5.83" fill="#c0c0c0"/>
<rect x="68.69" y="378.77" width="10.83" height="5.83" fill="#c0c0c0"/>
<rect x="36.20" y="384.16" width="11.28" height="5.83" fill="#a8a8a8"/>
<rect x="47.03" y="384.16" width="11.28" height="5.83" fill="#9c9c9c"/>
<rect x="57.86" y="384.16" width="11.28" height="5.83" fill="#c0c0c0"/>
<rect x="68.69" y="384.16" width="10.83" height="5.83" fill="#bcbcbc"/>
<rect x="36.20" y="389.54" width="11.28" height="5.83" fill="#ffffff"/>
<rect x="47.03" y="389.54" width="11.28" height="5.83" fill="#d8d8d8"/>
<rect x="57.86" y="389.54" width="11.28" height="5.83" fill="#fcf0f0"/>
<rect x="68.69" y="389.54" width="10.83" height="5.83" fill="#fdfdfd"/>
<rect x="36.20" y="394.92" width="11.28" height="5.83" fill="#fcf0f0"/>
<rect x="47.03" y="394.92" width="11.28" height="5.83" fill="#e2e2e2"/>
<rect x="57.86" y="394.92" width="11.28" height="5.83" fill="#ffffff"/>
<rect x="68.69" y="394.92" width="10.83" height="5.83" fill="#eaeaea"/>
<rect x="36.20" y="400.30" width="11.28" height="5.83" fill="#f4f4f4"/>
<rect x="47.03" y="400.30" width="11.28" height="5.83" fill="#eeeeee"/>
<rect x="57.86" y="400.30" width="11.28" height="5.83" fill="#fcf0f0"/>
<rect x="68.69" y="400.30" width="10.83" height="5.83" fill="#fcf0f0"/>
<rect x="36.20" y="405.69" width="11.28" height="5.83" fill="#c4c4c4"/>
<rect x="47.03" y="405.69" width="11.28" height="5.83" fill="#a0a0a0"/>
<rect x="57.86" y="405.69" width="11.28" height="5.83" fill="#e4e4e4"/>
<rect x="68.69" y="405.69" width="10.83" height="5.83" fill="#e0e0e0"/>
<rect x="36.20" y="411.07" width="11.28" height="5.83" fill="#484848"/>
<rect x="47.03" y="411.07" width="11.28" height="5.83" fill="#303030"/>
<rect x="57.86" y="411.07" width="11.28" height="5.83" fill="#707070"/>
<rect x="68.69" y="411.07" width="10.83" height="5.83" fill="#333333"/>
<rect x="36.20" y="416.45" width="11.28" height="5.83" fill="#e6e6e6"/>
<rect x="47.03" y="416.45" width="11.28" height="5.83" fill="#e2e2e2"/>
<rect x="57.86" y="416.45" width="11.28" height="5.83" fill="#fcf0f0"/>
<rect x="68.69" y="416.45" width="10.83" height="5.83" fill="#fcf0f0"/>
<rect x="36.20" y="421.83" width="11.28" height="5.83" fill="#f6c6c7"/>
<rect x="47.03" y="421.83" width="11.28" height="5.83" fill="#fadfdf"/>
<rect x="57.86" y="421.83" width="11.28" height="5.83" fill="#f1aaac"/>
<rect x="68.69" y="421.83" width="10.83" height="5.83" fill="#f6c6c7"/>
<rect x="36.20" y="427.22" width="11.28" height="5.83" fill="#c4c4c4"/>
<rect x="47.03" y="427.22" width="11.28" height="5.83" fill="#aaaaaa"/>
<rect x="57.86" y="427.22" width="11.28" height="5.83" fill="#e4e4e4"/>
<rect x="68.69" y="427.22" width="10.83" height="5.83" fill="#d0d0d0"/>
<rect x="36.20" y="432.60" width="11.28" height="5.83" fill="#808080"/>
<rect x="47.03" y="432.60" width="11.28" height="5.83" fill="#8c8c8c"/>
<rect x="57.86" y="432.60" width="11.28" height="5.83" fill="#a0a0a0"/>
<rect x="68.69" y="432.60" width="10.83" height="5.83" fill="#8c8c8c"/>
<rect x="36.20" y="437.98" width="11.28" height="5.83" fill="#b0b0b0"/>
<rect x="47.03" y="437.98" width="11.28" height="5.83" fill="#8c8c8c"/>
<rect x="57.86" y="437.98" width="11.28" height="5.83" fill="#a0a0a0"/>
<rect x="68.69" y="437.98" width="10.83" height="5.83" fill="#909090"/>
<rect x="36.20" y="443.37" width="11.28" height="5.83" fill="#e8e8e8"/>
<rect x="47.03" y="443.37" width="11.28" height="5.83" fill="#e0e0e0"/>
<rect x="57.86" y="443.37" width="11.28" height="5.83" fill="#fdfdfd"/>
<rect x="68.69" y="443.37" width="10.83" height="5.83" fill="#ffffff"/>
<rect x="36.20" y="448.75" width="11.28" height="5.83" fill="#7c7c7c"/>
<rect x="47.03" y="448.75" width="11.28" height="5.83" fill="#707070"/>
<rect x="57.86" y="448.75" width="11.28" height="5.83" fill="#848484"/>
<rect x="68.69" y="448.75" width="10.83" height="5.83" fill="#808080"/>
<rect x="36.20" y="454.13" width="11.28" height="5.83" fill="#505050"/>
<rect x="47.03" y="454.13" width="11.28" height="5.83" fill="#383838"/>
<rect x="57.86" y="454.13" width="11.28" height="5.83" fill="#4c4c4c"/>
<rect x="68.69" y="454.13" width="10.83" height="5.83" fill="#555555"/>
<rect x="36.20" y="459.51" width="11.28" height="5.83" fill="#e4e4e4"/>
<rect x="47.03" y="459.51" width="11.28" height="5.83" fill="#d8d8d8"/>
<rect x="57.86" y="459.51" width="11.28" height="5.83" fill="#e2e2e2"/>
<rect x="68.69" y="459.51" width="10.83" height="5.83" fill="#dadada"/>
<rect x="36.20" y="464.90" width="11.28" height="5.83" fill="#e8e8e8"/>
<rect x="47.03" y="464.90" width="11.28" height="5.83" fill="#e4e4e4"/>
<rect x="57.86" y="464.90" width="11.28" height="5.83" fill="#f2f2f2"/>
<rect x="68.69" y="464.90" width="10.83" height="5.83" fill="#ececec"/>
<rect x="36.20" y="470.28" width="11.28" height="5.83" fill="#b0b0b0"/>
<rect x="47.03" y="470.28" width="11.28" height="5.83" fill="#a8a8a8"/>
<rect x="57.86" y="470.28" width="11.28" height="5.83" fill="#b4b4b4"/>
<rect x="68.69" y="470.28" width="10.83" height="5.83" fill="#b0b0b0"/>
<rect x="36.20" y="475.66" width="11.28" height="5.83" fill="#ffffff"/>
<rect x="47.03" y="475.66" width="11.28" height="5.83" fill="#ffffff"/>
<rect x="57.86" y="475.66" width="11.28" height="5.83" fill="#fcf0f0"/>
<rect x="68.69" y="475.66" width="10.83" height="5.83" fill="#ffffff"/>
<rect x="36.20" y="481.04" width="11.28" height="5.83" fill="#f3f3f3"/>
<rect x="47.03" y="481.04" width="11.28" height="5.83" fill="#e4e4e4"/>
<rect x="57.86" y="481.04" width="11.28" height="5.83" fill="#f3f3f3"/>
<rect x="68.69" y="481.04" width="10.83" height="5.83" fill="#e0e0e0"/>
<rect x="36.20" y="486.43" width="11.28" height="5.83" fill="#ececec"/>
<rect x="47.03" y="486.43" width="11.28" height="5.83" fill="#f6f6f6"/>
<rect x="57.86" y="486.43" width="11.28" height="5.83" fill="#ffffff"/>
<rect x="68.69" y="486.43" width="10.83" height="5.83" fill="#ffffff"/>
<rect x="36.20" y="491.81" width="11.28" height="5.83" fill="#666666"/>
<rect x="47.03" y="491.81" width="11.28" height="5.83" fill="#505050"/>
<rect x="57.86" y="491.81" width="11.28" height="5.83" fill="#6c6c6c"/>
<rect x="68.69" y="491.81" width="10.83" height="5.83" fill="#707070"/>
<rect x="36.20" y="497.19" width="11.28" height="5.83" fill="#888888"/>
<rect x="47.03" y="497.19" width="11.28" height="5.83" fill="#848484"/>
<rect x="57.86" y="497.19" width="11.28" height="5.83" fill="#9c9c9c"/>
<rect x="68.69" y="497.19" width="10.83" height="5.83" fill="#888888"/>
<rect x="36.20" y="502.57" width="11.28" height="5.83" fill="#7c7c7c"/>
<rect x="47.03" y="502.57" width="11.28" height="5.83" fill="#848484"/>
<rect x="57.86" y="502.57" width="11.28" height="5.83" fill="#888888"/>
<rect x="68.69" y="502.57" width="10.83" height="5.83" fill="#888888"/>
<rect x="36.20" y="507.96" width="11.28" height="5.83" fill="#949494"/>
<rect x="47.03" y="507.96" width="11.28" height="5.83" fill="#8a8a8a"/>
<rect x="57.86" y="507.96" width="11.28" height="5.83" fill="#a4a4a4"/>
<rect x="68.69" y="507.96" width="10.83" height="5.83" fill="#9c9c9c"/>
<rect x="36.20" y="513.34" width="11.28" height="5.83" fill="#fcf0f0"/>
<rect x="47.03" y="513.34" width="11.28" height="5.83" fill="#fcf0f0"/>
<rect x="57.86" y="513.34" width="11.28" height="5.83" fill="#fcf0f0"/>
<rect x="68.69" y="513.34" width="10.83" height="5.83" fill="#fdfdfd"/>
<rect x="36.20" y="518.72" width="11.28" height="5.83" fill="#fcf0f0"/>
<rect x="47.03" y="518.72" width="11.28" height="5.83" fill="#fbfbfb"/>
<rect x="57.86" y="518.72" width="11.28" height="5.83" fill="#fcf0f0"/>
<rect x="68.69" y="518.72" width="10.83" height="5.83" fill="#fcf0f0"/>
<rect x="36.20" y="524.10" width="11.28" height="5.83" fill="#e8e8e8"/>
<rect x="47.03" y="524.10" width="11.28" height="5.83" fill="#f4f4f4"/>
<rect x="57.86" y="524.10" width="11.28" height="5.83" fill="#ffffff"/>
<rect x="68.69" y="524.10" width="10.83" height="5.83" fill="#f5f5f5"/>
<rect x="36.20" y="529.49" width="11.28" height="5.83" fill="#f4f4f4"/>
<rect x="47.03" y="529.49" width="11.28" height="5.83" fill="#ececec"/>
<rect x="57.86" y="529.49" width="11.28" height="5.83" fill="#fdfdfd"/>
<rect x="68.69" y="529.49" width="10.83" height="5.83" fill="#fafafa"/>
<rect x="36.20" y="534.87" width="11.28" height="5.83" fill="#6c6c6c"/>
<rect x="47.03" y="534.87" width="11.28" height="5.83" fill="#7c7c7c"/>
<rect x="57.86" y="534.87" width="11.28" height="5.83" fill="#888888"/>
<rect x="68.69" y="534.87" width="10.83" height="5.83" fill="#808080"/>
<rect x="36.20" y="540.25" width="11.28" height="5.83" fill="#a0a0a0"/>
<rect x="47.03" y="540.25" width="11.28" height="5.83" fill="#b8b8b8"/>
<rect x="57.86" y="540.25" width="11.28" height="5.83" fill="#b8b8b8"/>
<rect x="68.69" y="540.25" width="10.83" height="5.83" fill="#b0b0b0"/>
<rect x="36.20" y="545.63" width="11.28" height="5.83" fill="#aaaaaa"/>
<rect x="47.03" y="545.63" width="11.28" height="5.83" fill="#a0a0a0"/>
<rect x="57.86" y="545.63" width="11.28" height="5.83" fill="#b8b8b8"/>
<rect x="68.69" y="545.63" width="10.83" height="5.83" fill="#b0b0b0"/>
<rect x="36.20" y="551.02" width="11.28" height="5.38" fill="#b4b4b4"/>
<rect x="47.03" y="551.02" width="11.28" height="5.38" fill="#c0c0c0"/>
<rect x="57.86" y="551.02" width="11.28" height="5.38" fill="#bcbcbc"/>
<rect x="68.69" y="551.02" width="10.83" height="5.38" fill="#b8b8b8"/>
<rect x="36.20" y="308.80" width="43.32" height="247.60" fill="none" stroke="#8c8c8c" stroke-width="0.5"/>
<line x1="33.90" y1="311.49" x2="36.20" y2="311.49" stroke="#555" stroke-width="0.6"/>
<text x="32.10" y="313.45" font-size="5.45" text-anchor="end" font-style="italic">CMPK2</text>
<line x1="33.90" y1="316.87" x2="36.20" y2="316.87" stroke="#555" stroke-width="0.6"/>
<text x="32.10" y="318.84" font-size="5.45" text-anchor="end" font-style="italic">CXCL10</text>
<line x1="33.90" y1="322.26" x2="36.20" y2="322.26" stroke="#555" stroke-width="0.6"/>
<text x="32.10" y="324.22" font-size="5.45" text-anchor="end" font-style="italic">DDX58</text>
<line x1="33.90" y1="327.64" x2="36.20" y2="327.64" stroke="#555" stroke-width="0.6"/>
<text x="32.10" y="329.60" font-size="5.45" text-anchor="end" font-style="italic">DTX3L</text>
<line x1="33.90" y1="333.02" x2="36.20" y2="333.02" stroke="#555" stroke-width="0.6"/>
<text x="32.10" y="334.98" font-size="5.45" text-anchor="end" font-style="italic">EIF2AK2</text>
<line x1="33.90" y1="338.40" x2="36.20" y2="338.40" stroke="#555" stroke-width="0.6"/>
<text x="32.10" y="340.37" font-size="5.45" text-anchor="end" font-style="italic">EPSTI1</text>
<line x1="33.90" y1="343.79" x2="36.20" y2="343.79" stroke="#555" stroke-width="0.6"/>
<text x="32.10" y="345.75" font-size="5.45" text-anchor="end" font-style="italic">HERC5</text>
<line x1="33.90" y1="349.17" x2="36.20" y2="349.17" stroke="#555" stroke-width="0.6"/>
<text x="32.10" y="351.13" font-size="5.45" text-anchor="end" font-style="italic">HSH2D</text>
<line x1="33.90" y1="354.55" x2="36.20" y2="354.55" stroke="#555" stroke-width="0.6"/>
<text x="32.10" y="356.51" font-size="5.45" text-anchor="end" font-style="italic">IFI35</text>
<line x1="33.90" y1="359.93" x2="36.20" y2="359.93" stroke="#555" stroke-width="0.6"/>
<text x="32.10" y="361.90" font-size="5.45" text-anchor="end" font-style="italic">IFI6</text>
<line x1="33.90" y1="365.32" x2="36.20" y2="365.32" stroke="#555" stroke-width="0.6"/>
<text x="32.10" y="367.28" font-size="5.45" text-anchor="end" font-style="italic">IFIH1</text>
<line x1="33.90" y1="370.70" x2="36.20" y2="370.70" stroke="#555" stroke-width="0.6"/>
<text x="32.10" y="372.66" font-size="5.45" text-anchor="end" font-style="italic">IFIT2</text>
<line x1="33.90" y1="376.08" x2="36.20" y2="376.08" stroke="#555" stroke-width="0.6"/>
<text x="32.10" y="378.04" font-size="5.45" text-anchor="end" font-style="italic">IFIT3</text>
<line x1="33.90" y1="381.47" x2="36.20" y2="381.47" stroke="#555" stroke-width="0.6"/>
<text x="32.10" y="383.43" font-size="5.45" text-anchor="end" font-style="italic">IFIT5</text>
<line x1="33.90" y1="386.85" x2="36.20" y2="386.85" stroke="#555" stroke-width="0.6"/>
<text x="32.10" y="388.81" font-size="5.45" text-anchor="end" font-style="italic">IRF7</text>
<line x1="33.90" y1="392.23" x2="36.20" y2="392.23" stroke="#555" stroke-width="0.6"/>
<text x="32.10" y="394.19" font-size="5.45" text-anchor="end" font-style="italic">ISG15</text>
<line x1="33.90" y1="397.61" x2="36.20" y2="397.61" stroke="#555" stroke-width="0.6"/>
<text x="32.10" y="399.58" font-size="5.45" text-anchor="end" font-style="italic">ISG20</text>
<line x1="33.90" y1="403.00" x2="36.20" y2="403.00" stroke="#555" stroke-width="0.6"/>
<text x="32.10" y="404.96" font-size="5.45" text-anchor="end" font-style="italic">LGALS9</text>
<line x1="33.90" y1="408.38" x2="36.20" y2="408.38" stroke="#555" stroke-width="0.6"/>
<text x="32.10" y="410.34" font-size="5.45" text-anchor="end" font-style="italic">IFIT1</text>
<line x1="33.90" y1="413.76" x2="36.20" y2="413.76" stroke="#555" stroke-width="0.6"/>
<text x="32.10" y="415.72" font-size="5.45" text-anchor="end" font-style="italic">DDX60</text>
<line x1="33.90" y1="419.14" x2="36.20" y2="419.14" stroke="#555" stroke-width="0.6"/>
<text x="32.10" y="421.11" font-size="5.45" text-anchor="end" font-style="italic">OAS1</text>
<line x1="33.90" y1="424.53" x2="36.20" y2="424.53" stroke="#555" stroke-width="0.6"/>
<text x="32.10" y="426.49" font-size="5.45" text-anchor="end" font-style="italic">MX1</text>
<line x1="33.90" y1="429.91" x2="36.20" y2="429.91" stroke="#555" stroke-width="0.6"/>
<text x="32.10" y="431.87" font-size="5.45" text-anchor="end" font-style="italic">MX2</text>
<line x1="33.90" y1="435.29" x2="36.20" y2="435.29" stroke="#555" stroke-width="0.6"/>
<text x="32.10" y="437.25" font-size="5.45" text-anchor="end" font-style="italic">NMI</text>
<line x1="33.90" y1="440.67" x2="36.20" y2="440.67" stroke="#555" stroke-width="0.6"/>
<text x="32.10" y="442.64" font-size="5.45" text-anchor="end" font-style="italic">NT5C3A</text>
<line x1="33.90" y1="446.06" x2="36.20" y2="446.06" stroke="#555" stroke-width="0.6"/>
<text x="32.10" y="448.02" font-size="5.45" text-anchor="end" font-style="italic">OAS3</text>
<line x1="33.90" y1="451.44" x2="36.20" y2="451.44" stroke="#555" stroke-width="0.6"/>
<text x="32.10" y="453.40" font-size="5.45" text-anchor="end" font-style="italic">OASL</text>
<line x1="33.90" y1="456.82" x2="36.20" y2="456.82" stroke="#555" stroke-width="0.6"/>
<text x="32.10" y="458.78" font-size="5.45" text-anchor="end" font-style="italic">PARP12</text>
<line x1="33.90" y1="462.20" x2="36.20" y2="462.20" stroke="#555" stroke-width="0.6"/>
<text x="32.10" y="464.17" font-size="5.45" text-anchor="end" font-style="italic">PARP14</text>
<line x1="33.90" y1="467.59" x2="36.20" y2="467.59" stroke="#555" stroke-width="0.6"/>
<text x="32.10" y="469.55" font-size="5.45" text-anchor="end" font-style="italic">PARP9</text>
<line x1="33.90" y1="472.97" x2="36.20" y2="472.97" stroke="#555" stroke-width="0.6"/>
<text x="32.10" y="474.93" font-size="5.45" text-anchor="end" font-style="italic">PML</text>
<line x1="33.90" y1="478.35" x2="36.20" y2="478.35" stroke="#555" stroke-width="0.6"/>
<text x="32.10" y="480.31" font-size="5.45" text-anchor="end" font-style="italic">PSMB8</text>
<line x1="33.90" y1="483.73" x2="36.20" y2="483.73" stroke="#555" stroke-width="0.6"/>
<text x="32.10" y="485.70" font-size="5.45" text-anchor="end" font-style="italic">PSMB9</text>
<line x1="33.90" y1="489.12" x2="36.20" y2="489.12" stroke="#555" stroke-width="0.6"/>
<text x="32.10" y="491.08" font-size="5.45" text-anchor="end" font-style="italic">RNF213</text>
<line x1="33.90" y1="494.50" x2="36.20" y2="494.50" stroke="#555" stroke-width="0.6"/>
<text x="32.10" y="496.46" font-size="5.45" text-anchor="end" font-style="italic">RTP4</text>
<line x1="33.90" y1="499.88" x2="36.20" y2="499.88" stroke="#555" stroke-width="0.6"/>
<text x="32.10" y="501.84" font-size="5.45" text-anchor="end" font-style="italic">SAMD9</text>
<line x1="33.90" y1="505.27" x2="36.20" y2="505.27" stroke="#555" stroke-width="0.6"/>
<text x="32.10" y="507.23" font-size="5.45" text-anchor="end" font-style="italic">SAMD9L</text>
<line x1="33.90" y1="510.65" x2="36.20" y2="510.65" stroke="#555" stroke-width="0.6"/>
<text x="32.10" y="512.61" font-size="5.45" text-anchor="end" font-style="italic">SP110</text>
<line x1="33.90" y1="516.03" x2="36.20" y2="516.03" stroke="#555" stroke-width="0.6"/>
<text x="32.10" y="517.99" font-size="5.45" text-anchor="end" font-style="italic">SPATS2L</text>
<line x1="33.90" y1="521.41" x2="36.20" y2="521.41" stroke="#555" stroke-width="0.6"/>
<text x="32.10" y="523.38" font-size="5.45" text-anchor="end" font-style="italic">STAT1</text>
<line x1="33.90" y1="526.80" x2="36.20" y2="526.80" stroke="#555" stroke-width="0.6"/>
<text x="32.10" y="528.76" font-size="5.45" text-anchor="end" font-style="italic">STAT2</text>
<line x1="33.90" y1="532.18" x2="36.20" y2="532.18" stroke="#555" stroke-width="0.6"/>
<text x="32.10" y="534.14" font-size="5.45" text-anchor="end" font-style="italic">TAP1</text>
<line x1="33.90" y1="537.56" x2="36.20" y2="537.56" stroke="#555" stroke-width="0.6"/>
<text x="32.10" y="539.52" font-size="5.45" text-anchor="end" font-style="italic">TLR3</text>
<line x1="33.90" y1="542.94" x2="36.20" y2="542.94" stroke="#555" stroke-width="0.6"/>
<text x="32.10" y="544.91" font-size="5.45" text-anchor="end" font-style="italic">TRANK1</text>
<line x1="33.90" y1="548.33" x2="36.20" y2="548.33" stroke="#555" stroke-width="0.6"/>
<text x="32.10" y="550.29" font-size="5.45" text-anchor="end" font-style="italic">XAF1</text>
<line x1="33.90" y1="553.71" x2="36.20" y2="553.71" stroke="#555" stroke-width="0.6"/>
<text x="32.10" y="555.67" font-size="5.45" text-anchor="end" font-style="italic">ZNFX1</text>
<line x1="41.62" y1="556.40" x2="41.62" y2="558.60" stroke="#666" stroke-width="0.5"/>
<text x="41.62" y="565.60" font-size="5.9" text-anchor="middle">D1</text>
<line x1="52.45" y1="556.40" x2="52.45" y2="558.60" stroke="#666" stroke-width="0.5"/>
<text x="52.45" y="565.60" font-size="5.9" text-anchor="middle">D3</text>
<line x1="63.28" y1="556.40" x2="63.28" y2="558.60" stroke="#666" stroke-width="0.5"/>
<text x="63.28" y="565.60" font-size="5.9" text-anchor="middle">D5</text>
<line x1="74.11" y1="556.40" x2="74.11" y2="558.60" stroke="#666" stroke-width="0.5"/>
<text x="74.11" y="565.60" font-size="5.9" text-anchor="middle">D7</text>
<text x="124.50" y="303.80" font-size="9">Bat nasal<tspan font-size="0.66em" dy="-4.1">ALI</tspan></text>
<rect x="125.50" y="308.80" width="11.28" height="5.83" fill="#b8b8b8"/>
<rect x="136.33" y="308.80" width="11.28" height="5.83" fill="#b0b0b0"/>
<rect x="147.16" y="308.80" width="11.28" height="5.83" fill="#fadfdf"/>
<rect x="157.99" y="308.80" width="10.83" height="5.83" fill="#fadfdf"/>
<rect x="125.50" y="314.18" width="11.28" height="5.83" fill="#b8b8b8"/>
<rect x="136.33" y="314.18" width="11.28" height="5.83" fill="#b4b4b4"/>
<rect x="147.16" y="314.18" width="11.28" height="5.83" fill="#fcf0f0"/>
<rect x="157.99" y="314.18" width="10.83" height="5.83" fill="#f6f6f6"/>
<rect x="125.50" y="319.57" width="11.28" height="5.83" fill="#dcdcdc"/>
<rect x="136.33" y="319.57" width="11.28" height="5.83" fill="#c0c0c0"/>
<rect x="147.16" y="319.57" width="11.28" height="5.83" fill="#fadfdf"/>
<rect x="157.99" y="319.57" width="10.83" height="5.83" fill="#fadfdf"/>
<rect x="125.50" y="324.95" width="11.28" height="5.83" fill="#f6c6c7"/>
<rect x="136.33" y="324.95" width="11.28" height="5.83" fill="#f6c6c7"/>
<rect x="147.16" y="324.95" width="11.28" height="5.83" fill="#ed9193"/>
<rect x="157.99" y="324.95" width="10.83" height="5.83" fill="#ed9193"/>
<rect x="125.50" y="330.33" width="11.28" height="5.83" fill="#ffffff"/>
<rect x="136.33" y="330.33" width="11.28" height="5.83" fill="#fcf0f0"/>
<rect x="147.16" y="330.33" width="11.28" height="5.83" fill="#f6c6c7"/>
<rect x="157.99" y="330.33" width="10.83" height="5.83" fill="#f6c6c7"/>
<rect x="125.50" y="335.71" width="11.28" height="5.83" fill="#989898"/>
<rect x="136.33" y="335.71" width="11.28" height="5.83" fill="#848484"/>
<rect x="147.16" y="335.71" width="11.28" height="5.83" fill="#e4e4e4"/>
<rect x="157.99" y="335.71" width="10.83" height="5.83" fill="#eeeeee"/>
<rect x="125.50" y="341.10" width="11.28" height="5.83" fill="#606060"/>
<rect x="136.33" y="341.10" width="11.28" height="5.83" fill="#989898"/>
<rect x="147.16" y="341.10" width="11.28" height="5.83" fill="#ececec"/>
<rect x="157.99" y="341.10" width="10.83" height="5.83" fill="#eaeaea"/>
<rect x="125.50" y="346.48" width="11.28" height="5.83" fill="#050505"/>
<rect x="136.33" y="346.48" width="11.28" height="5.83" fill="#505050"/>
<rect x="147.16" y="346.48" width="11.28" height="5.83" fill="#909090"/>
<rect x="157.99" y="346.48" width="10.83" height="5.83" fill="#a8a8a8"/>
<rect x="125.50" y="351.86" width="11.28" height="5.83" fill="#c8c8c8"/>
<rect x="136.33" y="351.86" width="11.28" height="5.83" fill="#d0d0d0"/>
<rect x="147.16" y="351.86" width="11.28" height="5.83" fill="#f2f2f2"/>
<rect x="157.99" y="351.86" width="10.83" height="5.83" fill="#ffffff"/>
<rect x="125.50" y="357.24" width="11.28" height="5.83" fill="#fadfdf"/>
<rect x="136.33" y="357.24" width="11.28" height="5.83" fill="#fadfdf"/>
<rect x="147.16" y="357.24" width="11.28" height="5.83" fill="#ed9193"/>
<rect x="157.99" y="357.24" width="10.83" height="5.83" fill="#ed9193"/>
<rect x="125.50" y="362.63" width="11.28" height="5.83" fill="#b0b0b0"/>
<rect x="136.33" y="362.63" width="11.28" height="5.83" fill="#a8a8a8"/>
<rect x="147.16" y="362.63" width="11.28" height="5.83" fill="#fcf0f0"/>
<rect x="157.99" y="362.63" width="10.83" height="5.83" fill="#e4e4e4"/>
<rect x="125.50" y="368.01" width="11.28" height="5.83" fill="#8c8c8c"/>
<rect x="136.33" y="368.01" width="11.28" height="5.83" fill="#686868"/>
<rect x="147.16" y="368.01" width="11.28" height="5.83" fill="#e4e4e4"/>
<rect x="157.99" y="368.01" width="10.83" height="5.83" fill="#e0e0e0"/>
<rect x="125.50" y="373.39" width="11.28" height="5.83" fill="#c4c4c4"/>
<rect x="136.33" y="373.39" width="11.28" height="5.83" fill="#d4d4d4"/>
<rect x="147.16" y="373.39" width="11.28" height="5.83" fill="#fadfdf"/>
<rect x="157.99" y="373.39" width="10.83" height="5.83" fill="#fadfdf"/>
<rect x="125.50" y="378.77" width="11.28" height="5.83" fill="#b8b8b8"/>
<rect x="136.33" y="378.77" width="11.28" height="5.83" fill="#d8d8d8"/>
<rect x="147.16" y="378.77" width="11.28" height="5.83" fill="#fcfcfc"/>
<rect x="157.99" y="378.77" width="10.83" height="5.83" fill="#fafafa"/>
<rect x="125.50" y="384.16" width="11.28" height="5.83" fill="#fcf0f0"/>
<rect x="136.33" y="384.16" width="11.28" height="5.83" fill="#fcf0f0"/>
<rect x="147.16" y="384.16" width="11.28" height="5.83" fill="#ed9193"/>
<rect x="157.99" y="384.16" width="10.83" height="5.83" fill="#ed9193"/>
<rect x="125.50" y="389.54" width="11.28" height="5.83" fill="#dcdcdc"/>
<rect x="136.33" y="389.54" width="11.28" height="5.83" fill="#fcfcfc"/>
<rect x="147.16" y="389.54" width="11.28" height="5.83" fill="#f6c6c7"/>
<rect x="157.99" y="389.54" width="10.83" height="5.83" fill="#f6c6c7"/>
<rect x="125.50" y="394.92" width="11.28" height="5.83" fill="#b8b8b8"/>
<rect x="136.33" y="394.92" width="11.28" height="5.83" fill="#a4a4a4"/>
<rect x="147.16" y="394.92" width="11.28" height="5.83" fill="#a8a8a8"/>
<rect x="157.99" y="394.92" width="10.83" height="5.83" fill="#b4b4b4"/>
<rect x="125.50" y="400.30" width="11.28" height="5.83" fill="#f1aaac"/>
<rect x="136.33" y="400.30" width="11.28" height="5.83" fill="#f1aaac"/>
<rect x="147.16" y="400.30" width="11.28" height="5.83" fill="#e14548"/>
<rect x="157.99" y="400.30" width="10.83" height="5.83" fill="#e14548"/>
<rect x="125.50" y="405.69" width="11.28" height="5.83" fill="#4c4c4c"/>
<rect x="136.33" y="405.69" width="11.28" height="5.83" fill="#505050"/>
<rect x="147.16" y="405.69" width="11.28" height="5.83" fill="#fadfdf"/>
<rect x="157.99" y="405.69" width="10.83" height="5.83" fill="#fadfdf"/>
<rect x="125.50" y="411.07" width="11.28" height="5.83" fill="#4c4c4c"/>
<rect x="136.33" y="411.07" width="11.28" height="5.83" fill="#686868"/>
<rect x="147.16" y="411.07" width="11.28" height="5.83" fill="#fafafa"/>
<rect x="157.99" y="411.07" width="10.83" height="5.83" fill="#eaeaea"/>
<rect x="125.50" y="416.45" width="11.28" height="5.83" fill="#f6c6c7"/>
<rect x="136.33" y="416.45" width="11.28" height="5.83" fill="#f6c6c7"/>
<rect x="147.16" y="416.45" width="11.28" height="5.83" fill="#f6c6c7"/>
<rect x="157.99" y="416.45" width="10.83" height="5.83" fill="#f1aaac"/>
<rect x="125.50" y="421.83" width="11.28" height="5.83" fill="#ed9193"/>
<rect x="136.33" y="421.83" width="11.28" height="5.83" fill="#ed9193"/>
<rect x="147.16" y="421.83" width="11.28" height="5.83" fill="#de2c30"/>
<rect x="157.99" y="421.83" width="10.83" height="5.83" fill="#de2c30"/>
<rect x="125.50" y="427.22" width="11.28" height="5.83" fill="#f2f2f2"/>
<rect x="136.33" y="427.22" width="11.28" height="5.83" fill="#fcf0f0"/>
<rect x="147.16" y="427.22" width="11.28" height="5.83" fill="#f6c6c7"/>
<rect x="157.99" y="427.22" width="10.83" height="5.83" fill="#fadfdf"/>
<rect x="125.50" y="432.60" width="11.28" height="5.83" fill="#ececec"/>
<rect x="136.33" y="432.60" width="11.28" height="5.83" fill="#e0e0e0"/>
<rect x="147.16" y="432.60" width="11.28" height="5.83" fill="#fafafa"/>
<rect x="157.99" y="432.60" width="10.83" height="5.83" fill="#f2f2f2"/>
<rect x="125.50" y="437.98" width="11.28" height="5.83" fill="#d4d4d4"/>
<rect x="136.33" y="437.98" width="11.28" height="5.83" fill="#ffffff"/>
<rect x="147.16" y="437.98" width="11.28" height="5.83" fill="#fcf0f0"/>
<rect x="157.99" y="437.98" width="10.83" height="5.83" fill="#fcf0f0"/>
<rect x="125.50" y="443.37" width="11.28" height="5.83" fill="#fadfdf"/>
<rect x="136.33" y="443.37" width="11.28" height="5.83" fill="#fcf0f0"/>
<rect x="147.16" y="443.37" width="11.28" height="5.83" fill="#f1aaac"/>
<rect x="157.99" y="443.37" width="10.83" height="5.83" fill="#f1aaac"/>
<rect x="125.50" y="448.75" width="11.28" height="5.83" fill="#fcf0f0"/>
<rect x="136.33" y="448.75" width="11.28" height="5.83" fill="#fcf0f0"/>
<rect x="147.16" y="448.75" width="11.28" height="5.83" fill="#f6c6c7"/>
<rect x="157.99" y="448.75" width="10.83" height="5.83" fill="#f6c6c7"/>
<rect x="125.50" y="454.13" width="11.28" height="5.83" fill="#ffffff"/>
<rect x="136.33" y="454.13" width="11.28" height="5.83" fill="#fcf0f0"/>
<rect x="147.16" y="454.13" width="11.28" height="5.83" fill="#fadfdf"/>
<rect x="157.99" y="454.13" width="10.83" height="5.83" fill="#f6c6c7"/>
<rect x="125.50" y="459.51" width="11.28" height="5.83" fill="#b8b8b8"/>
<rect x="136.33" y="459.51" width="11.28" height="5.83" fill="#d4d4d4"/>
<rect x="147.16" y="459.51" width="11.28" height="5.83" fill="#fadfdf"/>
<rect x="157.99" y="459.51" width="10.83" height="5.83" fill="#fcf0f0"/>
<rect x="125.50" y="464.90" width="11.28" height="5.83" fill="#989898"/>
<rect x="136.33" y="464.90" width="11.28" height="5.83" fill="#8c8c8c"/>
<rect x="147.16" y="464.90" width="11.28" height="5.83" fill="#c4c4c4"/>
<rect x="157.99" y="464.90" width="10.83" height="5.83" fill="#c0c0c0"/>
<rect x="125.50" y="470.28" width="11.28" height="5.83" fill="#fcfcfc"/>
<rect x="136.33" y="470.28" width="11.28" height="5.83" fill="#fcf0f0"/>
<rect x="147.16" y="470.28" width="11.28" height="5.83" fill="#f6c6c7"/>
<rect x="157.99" y="470.28" width="10.83" height="5.83" fill="#f6c6c7"/>
<rect x="125.50" y="475.66" width="11.28" height="5.83" fill="#e8e8e8"/>
<rect x="136.33" y="475.66" width="11.28" height="5.83" fill="#e8e8e8"/>
<rect x="147.16" y="475.66" width="11.28" height="5.83" fill="#fcf0f0"/>
<rect x="157.99" y="475.66" width="10.83" height="5.83" fill="#fcf0f0"/>
<rect x="125.50" y="481.04" width="11.28" height="5.83" fill="#c8c8c8"/>
<rect x="136.33" y="481.04" width="11.28" height="5.83" fill="#b0b0b0"/>
<rect x="147.16" y="481.04" width="11.28" height="5.83" fill="#f2f2f2"/>
<rect x="157.99" y="481.04" width="10.83" height="5.83" fill="#e0e0e0"/>
<rect x="125.50" y="486.43" width="11.28" height="5.83" fill="#ececec"/>
<rect x="136.33" y="486.43" width="11.28" height="5.83" fill="#e8e8e8"/>
<rect x="147.16" y="486.43" width="11.28" height="5.83" fill="#fadfdf"/>
<rect x="157.99" y="486.43" width="10.83" height="5.83" fill="#fadfdf"/>
<rect x="125.50" y="491.81" width="11.28" height="5.83" fill="#f8f8f8"/>
<rect x="136.33" y="491.81" width="11.28" height="5.83" fill="#fcf0f0"/>
<rect x="147.16" y="491.81" width="11.28" height="5.83" fill="#f1aaac"/>
<rect x="157.99" y="491.81" width="10.83" height="5.83" fill="#ed9193"/>
<rect x="125.50" y="497.19" width="11.28" height="5.83" fill="#848484"/>
<rect x="136.33" y="497.19" width="11.28" height="5.83" fill="#383838"/>
<rect x="147.16" y="497.19" width="11.28" height="5.83" fill="#c4c4c4"/>
<rect x="157.99" y="497.19" width="10.83" height="5.83" fill="#b0b0b0"/>
<rect x="125.50" y="502.57" width="11.28" height="5.83" fill="#c4c4c4"/>
<rect x="136.33" y="502.57" width="11.28" height="5.83" fill="#c4c4c4"/>
<rect x="147.16" y="502.57" width="11.28" height="5.83" fill="#fcf0f0"/>
<rect x="157.99" y="502.57" width="10.83" height="5.83" fill="#ffffff"/>
<rect x="125.50" y="507.96" width="11.28" height="5.83" fill="#f8f8f8"/>
<rect x="136.33" y="507.96" width="11.28" height="5.83" fill="#fcf0f0"/>
<rect x="147.16" y="507.96" width="11.28" height="5.83" fill="#fadfdf"/>
<rect x="157.99" y="507.96" width="10.83" height="5.83" fill="#fcf0f0"/>
<rect x="125.50" y="513.34" width="11.28" height="5.83" fill="#ffffff"/>
<rect x="136.33" y="513.34" width="11.28" height="5.83" fill="#eaeaea"/>
<rect x="147.16" y="513.34" width="11.28" height="5.83" fill="#fcf0f0"/>
<rect x="157.99" y="513.34" width="10.83" height="5.83" fill="#fcf0f0"/>
<rect x="125.50" y="518.72" width="11.28" height="5.83" fill="#c8c8c8"/>
<rect x="136.33" y="518.72" width="11.28" height="5.83" fill="#c4c4c4"/>
<rect x="147.16" y="518.72" width="11.28" height="5.83" fill="#ffffff"/>
<rect x="157.99" y="518.72" width="10.83" height="5.83" fill="#fdfdfd"/>
<rect x="125.50" y="524.10" width="11.28" height="5.83" fill="#fadfdf"/>
<rect x="136.33" y="524.10" width="11.28" height="5.83" fill="#fadfdf"/>
<rect x="147.16" y="524.10" width="11.28" height="5.83" fill="#f1aaac"/>
<rect x="157.99" y="524.10" width="10.83" height="5.83" fill="#f1aaac"/>
<rect x="125.50" y="529.49" width="11.28" height="5.83" fill="#acacac"/>
<rect x="136.33" y="529.49" width="11.28" height="5.83" fill="#b8b8b8"/>
<rect x="147.16" y="529.49" width="11.28" height="5.83" fill="#d0d0d0"/>
<rect x="157.99" y="529.49" width="10.83" height="5.83" fill="#d4d4d4"/>
<rect x="125.50" y="534.87" width="11.28" height="5.83" fill="#808080"/>
<rect x="136.33" y="534.87" width="11.28" height="5.83" fill="#8c8c8c"/>
<rect x="147.16" y="534.87" width="11.28" height="5.83" fill="#c4c4c4"/>
<rect x="157.99" y="534.87" width="10.83" height="5.83" fill="#a8a8a8"/>
<rect x="125.50" y="540.25" width="11.28" height="5.83" fill="#c4c4c4"/>
<rect x="136.33" y="540.25" width="11.28" height="5.83" fill="#dcdcdc"/>
<rect x="147.16" y="540.25" width="11.28" height="5.83" fill="#f6c6c7"/>
<rect x="157.99" y="540.25" width="10.83" height="5.83" fill="#fadfdf"/>
<rect x="125.50" y="545.63" width="11.28" height="5.83" fill="#acacac"/>
<rect x="136.33" y="545.63" width="11.28" height="5.83" fill="#a0a0a0"/>
<rect x="147.16" y="545.63" width="11.28" height="5.83" fill="#fcf0f0"/>
<rect x="157.99" y="545.63" width="10.83" height="5.83" fill="#fcf0f0"/>
<rect x="125.50" y="551.02" width="11.28" height="5.38" fill="#b0b0b0"/>
<rect x="136.33" y="551.02" width="11.28" height="5.38" fill="#e0e0e0"/>
<rect x="147.16" y="551.02" width="11.28" height="5.38" fill="#ffffff"/>
<rect x="157.99" y="551.02" width="10.83" height="5.38" fill="#fafafa"/>
<rect x="125.50" y="308.80" width="43.32" height="247.60" fill="none" stroke="#8c8c8c" stroke-width="0.5"/>
<line x1="123.20" y1="311.49" x2="125.50" y2="311.49" stroke="#555" stroke-width="0.6"/>
<text x="121.40" y="313.45" font-size="5.45" text-anchor="end" font-style="italic">CMPK2</text>
<line x1="123.20" y1="316.87" x2="125.50" y2="316.87" stroke="#555" stroke-width="0.6"/>
<text x="121.40" y="318.84" font-size="5.45" text-anchor="end" font-style="italic">CXCL10</text>
<line x1="123.20" y1="322.26" x2="125.50" y2="322.26" stroke="#555" stroke-width="0.6"/>
<text x="121.40" y="324.22" font-size="5.45" text-anchor="end" font-style="italic">DDX58</text>
<line x1="123.20" y1="327.64" x2="125.50" y2="327.64" stroke="#555" stroke-width="0.6"/>
<text x="121.40" y="329.60" font-size="5.45" text-anchor="end" font-style="italic">DTX3L</text>
<line x1="123.20" y1="333.02" x2="125.50" y2="333.02" stroke="#555" stroke-width="0.6"/>
<text x="121.40" y="334.98" font-size="5.45" text-anchor="end" font-style="italic">EIF2AK2</text>
<line x1="123.20" y1="338.40" x2="125.50" y2="338.40" stroke="#555" stroke-width="0.6"/>
<text x="121.40" y="340.37" font-size="5.45" text-anchor="end" font-style="italic">EPSTI1</text>
<line x1="123.20" y1="343.79" x2="125.50" y2="343.79" stroke="#555" stroke-width="0.6"/>
<text x="121.40" y="345.75" font-size="5.45" text-anchor="end" font-style="italic">HERC5</text>
<line x1="123.20" y1="349.17" x2="125.50" y2="349.17" stroke="#555" stroke-width="0.6"/>
<text x="121.40" y="351.13" font-size="5.45" text-anchor="end" font-style="italic">HSH2D</text>
<line x1="123.20" y1="354.55" x2="125.50" y2="354.55" stroke="#555" stroke-width="0.6"/>
<text x="121.40" y="356.51" font-size="5.45" text-anchor="end" font-style="italic">IFI35</text>
<line x1="123.20" y1="359.93" x2="125.50" y2="359.93" stroke="#555" stroke-width="0.6"/>
<text x="121.40" y="361.90" font-size="5.45" text-anchor="end" font-style="italic">IFI6</text>
<line x1="123.20" y1="365.32" x2="125.50" y2="365.32" stroke="#555" stroke-width="0.6"/>
<text x="121.40" y="367.28" font-size="5.45" text-anchor="end" font-style="italic">IFIH1</text>
<line x1="123.20" y1="370.70" x2="125.50" y2="370.70" stroke="#555" stroke-width="0.6"/>
<text x="121.40" y="372.66" font-size="5.45" text-anchor="end" font-style="italic">IFIT2</text>
<line x1="123.20" y1="376.08" x2="125.50" y2="376.08" stroke="#555" stroke-width="0.6"/>
<text x="121.40" y="378.04" font-size="5.45" text-anchor="end" font-style="italic">IFIT3</text>
<line x1="123.20" y1="381.47" x2="125.50" y2="381.47" stroke="#555" stroke-width="0.6"/>
<text x="121.40" y="383.43" font-size="5.45" text-anchor="end" font-style="italic">IFIT5</text>
<line x1="123.20" y1="386.85" x2="125.50" y2="386.85" stroke="#555" stroke-width="0.6"/>
<text x="121.40" y="388.81" font-size="5.45" text-anchor="end" font-style="italic">IRF7</text>
<line x1="123.20" y1="392.23" x2="125.50" y2="392.23" stroke="#555" stroke-width="0.6"/>
<text x="121.40" y="394.19" font-size="5.45" text-anchor="end" font-style="italic">ISG15</text>
<line x1="123.20" y1="397.61" x2="125.50" y2="397.61" stroke="#555" stroke-width="0.6"/>
<text x="121.40" y="399.58" font-size="5.45" text-anchor="end" font-style="italic">ISG20</text>
<line x1="123.20" y1="403.00" x2="125.50" y2="403.00" stroke="#555" stroke-width="0.6"/>
<text x="121.40" y="404.96" font-size="5.45" text-anchor="end" font-style="italic">LGALS9</text>
<line x1="123.20" y1="408.38" x2="125.50" y2="408.38" stroke="#555" stroke-width="0.6"/>
<text x="121.40" y="410.34" font-size="5.45" text-anchor="end" font-style="italic">IFIT1</text>
<line x1="123.20" y1="413.76" x2="125.50" y2="413.76" stroke="#555" stroke-width="0.6"/>
<text x="121.40" y="415.72" font-size="5.45" text-anchor="end" font-style="italic">DDX60</text>
<line x1="123.20" y1="419.14" x2="125.50" y2="419.14" stroke="#555" stroke-width="0.6"/>
<text x="121.40" y="421.11" font-size="5.45" text-anchor="end" font-style="italic">OAS1</text>
<line x1="123.20" y1="424.53" x2="125.50" y2="424.53" stroke="#555" stroke-width="0.6"/>
<text x="121.40" y="426.49" font-size="5.45" text-anchor="end" font-style="italic">MX1</text>
<line x1="123.20" y1="429.91" x2="125.50" y2="429.91" stroke="#555" stroke-width="0.6"/>
<text x="121.40" y="431.87" font-size="5.45" text-anchor="end" font-style="italic">MX2</text>
<line x1="123.20" y1="435.29" x2="125.50" y2="435.29" stroke="#555" stroke-width="0.6"/>
<text x="121.40" y="437.25" font-size="5.45" text-anchor="end" font-style="italic">NMI</text>
<line x1="123.20" y1="440.67" x2="125.50" y2="440.67" stroke="#555" stroke-width="0.6"/>
<text x="121.40" y="442.64" font-size="5.45" text-anchor="end" font-style="italic">NT5C3A</text>
<line x1="123.20" y1="446.06" x2="125.50" y2="446.06" stroke="#555" stroke-width="0.6"/>
<text x="121.40" y="448.02" font-size="5.45" text-anchor="end" font-style="italic">OAS3</text>
<line x1="123.20" y1="451.44" x2="125.50" y2="451.44" stroke="#555" stroke-width="0.6"/>
<text x="121.40" y="453.40" font-size="5.45" text-anchor="end" font-style="italic">OASL</text>
<line x1="123.20" y1="456.82" x2="125.50" y2="456.82" stroke="#555" stroke-width="0.6"/>
<text x="121.40" y="458.78" font-size="5.45" text-anchor="end" font-style="italic">PARP12</text>
<line x1="123.20" y1="462.20" x2="125.50" y2="462.20" stroke="#555" stroke-width="0.6"/>
<text x="121.40" y="464.17" font-size="5.45" text-anchor="end" font-style="italic">PARP14</text>
<line x1="123.20" y1="467.59" x2="125.50" y2="467.59" stroke="#555" stroke-width="0.6"/>
<text x="121.40" y="469.55" font-size="5.45" text-anchor="end" font-style="italic">PARP9</text>
<line x1="123.20" y1="472.97" x2="125.50" y2="472.97" stroke="#555" stroke-width="0.6"/>
<text x="121.40" y="474.93" font-size="5.45" text-anchor="end" font-style="italic">PML</text>
<line x1="123.20" y1="478.35" x2="125.50" y2="478.35" stroke="#555" stroke-width="0.6"/>
<text x="121.40" y="480.31" font-size="5.45" text-anchor="end" font-style="italic">PSMB8</text>
<line x1="123.20" y1="483.73" x2="125.50" y2="483.73" stroke="#555" stroke-width="0.6"/>
<text x="121.40" y="485.70" font-size="5.45" text-anchor="end" font-style="italic">PSMB9</text>
<line x1="123.20" y1="489.12" x2="125.50" y2="489.12" stroke="#555" stroke-width="0.6"/>
<text x="121.40" y="491.08" font-size="5.45" text-anchor="end" font-style="italic">RNF213</text>
<line x1="123.20" y1="494.50" x2="125.50" y2="494.50" stroke="#555" stroke-width="0.6"/>
<text x="121.40" y="496.46" font-size="5.45" text-anchor="end" font-style="italic">RTP4</text>
<line x1="123.20" y1="499.88" x2="125.50" y2="499.88" stroke="#555" stroke-width="0.6"/>
<text x="121.40" y="501.84" font-size="5.45" text-anchor="end" font-style="italic">SAMD9</text>
<line x1="123.20" y1="505.27" x2="125.50" y2="505.27" stroke="#555" stroke-width="0.6"/>
<text x="121.40" y="507.23" font-size="5.45" text-anchor="end" font-style="italic">SAMD9L</text>
<line x1="123.20" y1="510.65" x2="125.50" y2="510.65" stroke="#555" stroke-width="0.6"/>
<text x="121.40" y="512.61" font-size="5.45" text-anchor="end" font-style="italic">SP110</text>
<line x1="123.20" y1="516.03" x2="125.50" y2="516.03" stroke="#555" stroke-width="0.6"/>
<text x="121.40" y="517.99" font-size="5.45" text-anchor="end" font-style="italic">SPATS2L</text>
<line x1="123.20" y1="521.41" x2="125.50" y2="521.41" stroke="#555" stroke-width="0.6"/>
<text x="121.40" y="523.38" font-size="5.45" text-anchor="end" font-style="italic">STAT1</text>
<line x1="123.20" y1="526.80" x2="125.50" y2="526.80" stroke="#555" stroke-width="0.6"/>
<text x="121.40" y="528.76" font-size="5.45" text-anchor="end" font-style="italic">STAT2</text>
<line x1="123.20" y1="532.18" x2="125.50" y2="532.18" stroke="#555" stroke-width="0.6"/>
<text x="121.40" y="534.14" font-size="5.45" text-anchor="end" font-style="italic">TAP1</text>
<line x1="123.20" y1="537.56" x2="125.50" y2="537.56" stroke="#555" stroke-width="0.6"/>
<text x="121.40" y="539.52" font-size="5.45" text-anchor="end" font-style="italic">TLR3</text>
<line x1="123.20" y1="542.94" x2="125.50" y2="542.94" stroke="#555" stroke-width="0.6"/>
<text x="121.40" y="544.91" font-size="5.45" text-anchor="end" font-style="italic">TRANK1</text>
<line x1="123.20" y1="548.33" x2="125.50" y2="548.33" stroke="#555" stroke-width="0.6"/>
<text x="121.40" y="550.29" font-size="5.45" text-anchor="end" font-style="italic">XAF1</text>
<line x1="123.20" y1="553.71" x2="125.50" y2="553.71" stroke="#555" stroke-width="0.6"/>
<text x="121.40" y="555.67" font-size="5.45" text-anchor="end" font-style="italic">ZNFX1</text>
<line x1="130.91" y1="556.40" x2="130.91" y2="558.60" stroke="#666" stroke-width="0.5"/>
<text x="130.91" y="565.60" font-size="5.9" text-anchor="middle">D1</text>
<line x1="141.75" y1="556.40" x2="141.75" y2="558.60" stroke="#666" stroke-width="0.5"/>
<text x="141.75" y="565.60" font-size="5.9" text-anchor="middle">D3</text>
<line x1="152.57" y1="556.40" x2="152.57" y2="558.60" stroke="#666" stroke-width="0.5"/>
<text x="152.57" y="565.60" font-size="5.9" text-anchor="middle">D5</text>
<line x1="163.41" y1="556.40" x2="163.41" y2="558.60" stroke="#666" stroke-width="0.5"/>
<text x="163.41" y="565.60" font-size="5.9" text-anchor="middle">D7</text>
<text x="202.00" y="303.80" font-size="9">Bat alv<tspan font-size="0.66em" dy="-4.1">ORG</tspan></text>
<rect x="213.60" y="308.80" width="8.60" height="5.83" fill="#585858"/>
<rect x="221.75" y="308.80" width="8.15" height="5.83" fill="#fadfdf"/>
<rect x="213.60" y="314.18" width="8.60" height="5.83" fill="#8c8c8c"/>
<rect x="221.75" y="314.18" width="8.15" height="5.83" fill="#f6c6c7"/>
<rect x="213.60" y="319.57" width="8.60" height="5.83" fill="#909090"/>
<rect x="221.75" y="319.57" width="8.15" height="5.83" fill="#fadfdf"/>
<rect x="213.60" y="324.95" width="8.60" height="5.83" fill="#ffffff"/>
<rect x="221.75" y="324.95" width="8.15" height="5.83" fill="#ed9193"/>
<rect x="213.60" y="330.33" width="8.60" height="5.83" fill="#d4d4d4"/>
<rect x="221.75" y="330.33" width="8.15" height="5.83" fill="#f6c6c7"/>
<rect x="213.60" y="335.71" width="8.60" height="5.83" fill="#484848"/>
<rect x="221.75" y="335.71" width="8.15" height="5.83" fill="#c4c4c4"/>
<rect x="213.60" y="341.10" width="8.60" height="5.83" fill="#444444"/>
<rect x="221.75" y="341.10" width="8.15" height="5.83" fill="#e8e8e8"/>
<rect x="213.60" y="346.48" width="8.60" height="5.83" fill="#080808"/>
<rect x="221.75" y="346.48" width="8.15" height="5.83" fill="#8c8c8c"/>
<rect x="213.60" y="351.86" width="8.60" height="5.83" fill="#848484"/>
<rect x="221.75" y="351.86" width="8.15" height="5.83" fill="#cccccc"/>
<rect x="213.60" y="357.24" width="8.60" height="5.83" fill="#cccccc"/>
<rect x="221.75" y="357.24" width="8.15" height="5.83" fill="#f6c6c7"/>
<rect x="213.60" y="362.63" width="8.60" height="5.83" fill="#a0a0a0"/>
<rect x="221.75" y="362.63" width="8.15" height="5.83" fill="#fadfdf"/>
<rect x="213.60" y="368.01" width="8.60" height="5.83" fill="#141414"/>
<rect x="221.75" y="368.01" width="8.15" height="5.83" fill="#dcdcdc"/>
<rect x="213.60" y="373.39" width="8.60" height="5.83" fill="#383838"/>
<rect x="221.75" y="373.39" width="8.15" height="5.83" fill="#fcf0f0"/>
<rect x="213.60" y="378.77" width="8.60" height="5.83" fill="#c0c0c0"/>
<rect x="221.75" y="378.77" width="8.15" height="5.83" fill="#fcfcfc"/>
<rect x="213.60" y="384.16" width="8.60" height="5.83" fill="#cccccc"/>
<rect x="221.75" y="384.16" width="8.15" height="5.83" fill="#fadfdf"/>
<rect x="213.60" y="389.54" width="8.60" height="5.83" fill="#fcf0f0"/>
<rect x="221.75" y="389.54" width="8.15" height="5.83" fill="#f1aaac"/>
<rect x="213.60" y="394.92" width="8.60" height="5.83" fill="#707070"/>
<rect x="221.75" y="394.92" width="8.15" height="5.83" fill="#d4d4d4"/>
<rect x="213.60" y="400.30" width="8.60" height="5.83" fill="#d0d0d0"/>
<rect x="221.75" y="400.30" width="8.15" height="5.83" fill="#e9777a"/>
<rect x="213.60" y="405.69" width="8.60" height="5.83" fill="#585858"/>
<rect x="221.75" y="405.69" width="8.15" height="5.83" fill="#fadfdf"/>
<rect x="213.60" y="411.07" width="8.60" height="5.83" fill="#282828"/>
<rect x="221.75" y="411.07" width="8.15" height="5.83" fill="#c0c0c0"/>
<rect x="213.60" y="416.45" width="8.60" height="5.83" fill="#c4c4c4"/>
<rect x="221.75" y="416.45" width="8.15" height="5.83" fill="#f8f8f8"/>
<rect x="213.60" y="421.83" width="8.60" height="5.83" fill="#ed9193"/>
<rect x="221.75" y="421.83" width="8.15" height="5.83" fill="#de2c30"/>
<rect x="213.60" y="427.22" width="8.60" height="5.83" fill="#c4c4c4"/>
<rect x="221.75" y="427.22" width="8.15" height="5.83" fill="#f6c6c7"/>
<rect x="213.60" y="432.60" width="8.60" height="5.83" fill="#cccccc"/>
<rect x="221.75" y="432.60" width="8.15" height="5.83" fill="#fcf0f0"/>
<rect x="213.60" y="437.98" width="8.60" height="5.83" fill="#acacac"/>
<rect x="221.75" y="437.98" width="8.15" height="5.83" fill="#fcf0f0"/>
<rect x="213.60" y="443.37" width="8.60" height="5.83" fill="#e0e0e0"/>
<rect x="221.75" y="443.37" width="8.15" height="5.83" fill="#f1aaac"/>
<rect x="213.60" y="448.75" width="8.60" height="5.83" fill="#d8d8d8"/>
<rect x="221.75" y="448.75" width="8.15" height="5.83" fill="#fadfdf"/>
<rect x="213.60" y="454.13" width="8.60" height="5.83" fill="#ffffff"/>
<rect x="221.75" y="454.13" width="8.15" height="5.83" fill="#f6c6c7"/>
<rect x="213.60" y="459.51" width="8.60" height="5.83" fill="#888888"/>
<rect x="221.75" y="459.51" width="8.15" height="5.83" fill="#fcf0f0"/>
<rect x="213.60" y="464.90" width="8.60" height="5.83" fill="#484848"/>
<rect x="221.75" y="464.90" width="8.15" height="5.83" fill="#d8d8d8"/>
<rect x="213.60" y="470.28" width="8.60" height="5.83" fill="#e8e8e8"/>
<rect x="221.75" y="470.28" width="8.15" height="5.83" fill="#fcf0f0"/>
<rect x="213.60" y="475.66" width="8.60" height="5.83" fill="#909090"/>
<rect x="221.75" y="475.66" width="8.15" height="5.83" fill="#f0f0f0"/>
<rect x="213.60" y="481.04" width="8.60" height="5.83" fill="#585858"/>
<rect x="221.75" y="481.04" width="8.15" height="5.83" fill="#d8d8d8"/>
<rect x="213.60" y="486.43" width="8.60" height="5.83" fill="#b0b0b0"/>
<rect x="221.75" y="486.43" width="8.15" height="5.83" fill="#fcf0f0"/>
<rect x="213.60" y="491.81" width="8.60" height="5.83" fill="#c4c4c4"/>
<rect x="221.75" y="491.81" width="8.15" height="5.83" fill="#f6c6c7"/>
<rect x="213.60" y="497.19" width="8.60" height="5.83" fill="#686868"/>
<rect x="221.75" y="497.19" width="8.15" height="5.83" fill="#ffffff"/>
<rect x="213.60" y="502.57" width="8.60" height="5.83" fill="#989898"/>
<rect x="221.75" y="502.57" width="8.15" height="5.83" fill="#fcf0f0"/>
<rect x="213.60" y="507.96" width="8.60" height="5.83" fill="#707070"/>
<rect x="221.75" y="507.96" width="8.15" height="5.83" fill="#e0e0e0"/>
<rect x="213.60" y="513.34" width="8.60" height="5.83" fill="#f0f0f0"/>
<rect x="221.75" y="513.34" width="8.15" height="5.83" fill="#fcf0f0"/>
<rect x="213.60" y="518.72" width="8.60" height="5.83" fill="#b8b8b8"/>
<rect x="221.75" y="518.72" width="8.15" height="5.83" fill="#fcf0f0"/>
<rect x="213.60" y="524.10" width="8.60" height="5.83" fill="#fcf0f0"/>
<rect x="221.75" y="524.10" width="8.15" height="5.83" fill="#f1aaac"/>
<rect x="213.60" y="529.49" width="8.60" height="5.83" fill="#888888"/>
<rect x="221.75" y="529.49" width="8.15" height="5.83" fill="#dcdcdc"/>
<rect x="213.60" y="534.87" width="8.60" height="5.83" fill="#a8a8a8"/>
<rect x="221.75" y="534.87" width="8.15" height="5.83" fill="#dcdcdc"/>
<rect x="213.60" y="540.25" width="8.60" height="5.83" fill="#747474"/>
<rect x="221.75" y="540.25" width="8.15" height="5.83" fill="#f6c6c7"/>
<rect x="213.60" y="545.63" width="8.60" height="5.83" fill="#585858"/>
<rect x="221.75" y="545.63" width="8.15" height="5.83" fill="#fcfcfc"/>
<rect x="213.60" y="551.02" width="8.60" height="5.38" fill="#a8a8a8"/>
<rect x="221.75" y="551.02" width="8.15" height="5.38" fill="#f6f6f6"/>
<rect x="213.60" y="308.80" width="16.30" height="247.60" fill="none" stroke="#8c8c8c" stroke-width="0.5"/>
<line x1="211.30" y1="311.49" x2="213.60" y2="311.49" stroke="#555" stroke-width="0.6"/>
<text x="209.50" y="313.45" font-size="5.45" text-anchor="end" font-style="italic">CMPK2</text>
<line x1="211.30" y1="316.87" x2="213.60" y2="316.87" stroke="#555" stroke-width="0.6"/>
<text x="209.50" y="318.84" font-size="5.45" text-anchor="end" font-style="italic">CXCL10</text>
<line x1="211.30" y1="322.26" x2="213.60" y2="322.26" stroke="#555" stroke-width="0.6"/>
<text x="209.50" y="324.22" font-size="5.45" text-anchor="end" font-style="italic">DDX58</text>
<line x1="211.30" y1="327.64" x2="213.60" y2="327.64" stroke="#555" stroke-width="0.6"/>
<text x="209.50" y="329.60" font-size="5.45" text-anchor="end" font-style="italic">DTX3L</text>
<line x1="211.30" y1="333.02" x2="213.60" y2="333.02" stroke="#555" stroke-width="0.6"/>
<text x="209.50" y="334.98" font-size="5.45" text-anchor="end" font-style="italic">EIF2AK2</text>
<line x1="211.30" y1="338.40" x2="213.60" y2="338.40" stroke="#555" stroke-width="0.6"/>
<text x="209.50" y="340.37" font-size="5.45" text-anchor="end" font-style="italic">EPSTI1</text>
<line x1="211.30" y1="343.79" x2="213.60" y2="343.79" stroke="#555" stroke-width="0.6"/>
<text x="209.50" y="345.75" font-size="5.45" text-anchor="end" font-style="italic">HERC5</text>
<line x1="211.30" y1="349.17" x2="213.60" y2="349.17" stroke="#555" stroke-width="0.6"/>
<text x="209.50" y="351.13" font-size="5.45" text-anchor="end" font-style="italic">HSH2D</text>
<line x1="211.30" y1="354.55" x2="213.60" y2="354.55" stroke="#555" stroke-width="0.6"/>
<text x="209.50" y="356.51" font-size="5.45" text-anchor="end" font-style="italic">IFI35</text>
<line x1="211.30" y1="359.93" x2="213.60" y2="359.93" stroke="#555" stroke-width="0.6"/>
<text x="209.50" y="361.90" font-size="5.45" text-anchor="end" font-style="italic">IFI6</text>
<line x1="211.30" y1="365.32" x2="213.60" y2="365.32" stroke="#555" stroke-width="0.6"/>
<text x="209.50" y="367.28" font-size="5.45" text-anchor="end" font-style="italic">IFIH1</text>
<line x1="211.30" y1="370.70" x2="213.60" y2="370.70" stroke="#555" stroke-width="0.6"/>
<text x="209.50" y="372.66" font-size="5.45" text-anchor="end" font-style="italic">IFIT2</text>
<line x1="211.30" y1="376.08" x2="213.60" y2="376.08" stroke="#555" stroke-width="0.6"/>
<text x="209.50" y="378.04" font-size="5.45" text-anchor="end" font-style="italic">IFIT3</text>
<line x1="211.30" y1="381.47" x2="213.60" y2="381.47" stroke="#555" stroke-width="0.6"/>
<text x="209.50" y="383.43" font-size="5.45" text-anchor="end" font-style="italic">IFIT5</text>
<line x1="211.30" y1="386.85" x2="213.60" y2="386.85" stroke="#555" stroke-width="0.6"/>
<text x="209.50" y="388.81" font-size="5.45" text-anchor="end" font-style="italic">IRF7</text>
<line x1="211.30" y1="392.23" x2="213.60" y2="392.23" stroke="#555" stroke-width="0.6"/>
<text x="209.50" y="394.19" font-size="5.45" text-anchor="end" font-style="italic">ISG15</text>
<line x1="211.30" y1="397.61" x2="213.60" y2="397.61" stroke="#555" stroke-width="0.6"/>
<text x="209.50" y="399.58" font-size="5.45" text-anchor="end" font-style="italic">ISG20</text>
<line x1="211.30" y1="403.00" x2="213.60" y2="403.00" stroke="#555" stroke-width="0.6"/>
<text x="209.50" y="404.96" font-size="5.45" text-anchor="end" font-style="italic">LGALS9</text>
<line x1="211.30" y1="408.38" x2="213.60" y2="408.38" stroke="#555" stroke-width="0.6"/>
<text x="209.50" y="410.34" font-size="5.45" text-anchor="end" font-style="italic">IFIT1</text>
<line x1="211.30" y1="413.76" x2="213.60" y2="413.76" stroke="#555" stroke-width="0.6"/>
<text x="209.50" y="415.72" font-size="5.45" text-anchor="end" font-style="italic">DDX60</text>
<line x1="211.30" y1="419.14" x2="213.60" y2="419.14" stroke="#555" stroke-width="0.6"/>
<text x="209.50" y="421.11" font-size="5.45" text-anchor="end" font-style="italic">OAS1</text>
<line x1="211.30" y1="424.53" x2="213.60" y2="424.53" stroke="#555" stroke-width="0.6"/>
<text x="209.50" y="426.49" font-size="5.45" text-anchor="end" font-style="italic">MX1</text>
<line x1="211.30" y1="429.91" x2="213.60" y2="429.91" stroke="#555" stroke-width="0.6"/>
<text x="209.50" y="431.87" font-size="5.45" text-anchor="end" font-style="italic">MX2</text>
<line x1="211.30" y1="435.29" x2="213.60" y2="435.29" stroke="#555" stroke-width="0.6"/>
<text x="209.50" y="437.25" font-size="5.45" text-anchor="end" font-style="italic">NMI</text>
<line x1="211.30" y1="440.67" x2="213.60" y2="440.67" stroke="#555" stroke-width="0.6"/>
<text x="209.50" y="442.64" font-size="5.45" text-anchor="end" font-style="italic">NT5C3A</text>
<line x1="211.30" y1="446.06" x2="213.60" y2="446.06" stroke="#555" stroke-width="0.6"/>
<text x="209.50" y="448.02" font-size="5.45" text-anchor="end" font-style="italic">OAS3</text>
<line x1="211.30" y1="451.44" x2="213.60" y2="451.44" stroke="#555" stroke-width="0.6"/>
<text x="209.50" y="453.40" font-size="5.45" text-anchor="end" font-style="italic">OASL</text>
<line x1="211.30" y1="456.82" x2="213.60" y2="456.82" stroke="#555" stroke-width="0.6"/>
<text x="209.50" y="458.78" font-size="5.45" text-anchor="end" font-style="italic">PARP12</text>
<line x1="211.30" y1="462.20" x2="213.60" y2="462.20" stroke="#555" stroke-width="0.6"/>
<text x="209.50" y="464.17" font-size="5.45" text-anchor="end" font-style="italic">PARP14</text>
<line x1="211.30" y1="467.59" x2="213.60" y2="467.59" stroke="#555" stroke-width="0.6"/>
<text x="209.50" y="469.55" font-size="5.45" text-anchor="end" font-style="italic">PARP9</text>
<line x1="211.30" y1="472.97" x2="213.60" y2="472.97" stroke="#555" stroke-width="0.6"/>
<text x="209.50" y="474.93" font-size="5.45" text-anchor="end" font-style="italic">PML</text>
<line x1="211.30" y1="478.35" x2="213.60" y2="478.35" stroke="#555" stroke-width="0.6"/>
<text x="209.50" y="480.31" font-size="5.45" text-anchor="end" font-style="italic">PSMB8</text>
<line x1="211.30" y1="483.73" x2="213.60" y2="483.73" stroke="#555" stroke-width="0.6"/>
<text x="209.50" y="485.70" font-size="5.45" text-anchor="end" font-style="italic">PSMB9</text>
<line x1="211.30" y1="489.12" x2="213.60" y2="489.12" stroke="#555" stroke-width="0.6"/>
<text x="209.50" y="491.08" font-size="5.45" text-anchor="end" font-style="italic">RNF213</text>
<line x1="211.30" y1="494.50" x2="213.60" y2="494.50" stroke="#555" stroke-width="0.6"/>
<text x="209.50" y="496.46" font-size="5.45" text-anchor="end" font-style="italic">RTP4</text>
<line x1="211.30" y1="499.88" x2="213.60" y2="499.88" stroke="#555" stroke-width="0.6"/>
<text x="209.50" y="501.84" font-size="5.45" text-anchor="end" font-style="italic">SAMD9</text>
<line x1="211.30" y1="505.27" x2="213.60" y2="505.27" stroke="#555" stroke-width="0.6"/>
<text x="209.50" y="507.23" font-size="5.45" text-anchor="end" font-style="italic">SAMD9L</text>
<line x1="211.30" y1="510.65" x2="213.60" y2="510.65" stroke="#555" stroke-width="0.6"/>
<text x="209.50" y="512.61" font-size="5.45" text-anchor="end" font-style="italic">SP110</text>
<line x1="211.30" y1="516.03" x2="213.60" y2="516.03" stroke="#555" stroke-width="0.6"/>
<text x="209.50" y="517.99" font-size="5.45" text-anchor="end" font-style="italic">SPATS2L</text>
<line x1="211.30" y1="521.41" x2="213.60" y2="521.41" stroke="#555" stroke-width="0.6"/>
<text x="209.50" y="523.38" font-size="5.45" text-anchor="end" font-style="italic">STAT1</text>
<line x1="211.30" y1="526.80" x2="213.60" y2="526.80" stroke="#555" stroke-width="0.6"/>
<text x="209.50" y="528.76" font-size="5.45" text-anchor="end" font-style="italic">STAT2</text>
<line x1="211.30" y1="532.18" x2="213.60" y2="532.18" stroke="#555" stroke-width="0.6"/>
<text x="209.50" y="534.14" font-size="5.45" text-anchor="end" font-style="italic">TAP1</text>
<line x1="211.30" y1="537.56" x2="213.60" y2="537.56" stroke="#555" stroke-width="0.6"/>
<text x="209.50" y="539.52" font-size="5.45" text-anchor="end" font-style="italic">TLR3</text>
<line x1="211.30" y1="542.94" x2="213.60" y2="542.94" stroke="#555" stroke-width="0.6"/>
<text x="209.50" y="544.91" font-size="5.45" text-anchor="end" font-style="italic">TRANK1</text>
<line x1="211.30" y1="548.33" x2="213.60" y2="548.33" stroke="#555" stroke-width="0.6"/>
<text x="209.50" y="550.29" font-size="5.45" text-anchor="end" font-style="italic">XAF1</text>
<line x1="211.30" y1="553.71" x2="213.60" y2="553.71" stroke="#555" stroke-width="0.6"/>
<text x="209.50" y="555.67" font-size="5.45" text-anchor="end" font-style="italic">ZNFX1</text>
<line x1="217.67" y1="556.40" x2="217.67" y2="558.60" stroke="#666" stroke-width="0.5"/>
<text x="217.67" y="565.60" font-size="5.9" text-anchor="middle">M</text>
<line x1="225.82" y1="556.40" x2="225.82" y2="558.60" stroke="#666" stroke-width="0.5"/>
<text x="225.82" y="565.60" font-size="5.9" text-anchor="middle">D3</text>
<defs><linearGradient id="cb" x1="0" y1="0" x2="0" y2="1"><stop offset="0" stop-color="#e0343a"/><stop offset="0.47" stop-color="#ffffff"/><stop offset="0.51" stop-color="#ffffff"/><stop offset="1" stop-color="#000000"/></linearGradient></defs>
<rect x="235.10" y="309.00" width="9.90" height="47.40" fill="url(#cb)"/>
<text x="248.40" y="317.80" font-size="6.7">12</text>
<text x="248.40" y="329.90" font-size="6.7">9</text>
<text x="248.40" y="341.10" font-size="6.7">6</text>
<text x="248.40" y="352.60" font-size="6.7">3</text>
<text x="234.30" y="367.60" font-size="6.9">log<tspan font-size="0.6em" dy="1.6">2</tspan></text>
<text x="234.30" y="376.00" font-size="6.9" textLength="29.2" lengthAdjust="spacingAndGlyphs">(CPM + 1)</text>
<text x="370.50" y="303.80" font-size="9" text-anchor="middle">Bat skin<tspan font-size="0.66em" dy="-4.1">INOC</tspan><tspan dy="4.1"> (ref. </tspan><tspan font-size="0.66em" dy="-4.1">7</tspan><tspan dy="4.1">)</tspan></text>
<rect x="325.30" y="309.30" width="11.69" height="7.10" fill="#c4c4c4"/>
<rect x="336.54" y="309.30" width="11.69" height="7.10" fill="#dcdcdc"/>
<rect x="347.78" y="309.30" width="11.69" height="7.10" fill="#fadfdf"/>
<rect x="359.02" y="309.30" width="11.69" height="7.10" fill="#fadfdf"/>
<rect x="370.26" y="309.30" width="11.69" height="7.10" fill="#fadfdf"/>
<rect x="381.50" y="309.30" width="11.69" height="7.10" fill="#c8c8c8"/>
<rect x="392.74" y="309.30" width="11.69" height="7.10" fill="#d4d4d4"/>
<rect x="403.98" y="309.30" width="11.24" height="7.10" fill="#b8b8b8"/>
<rect x="325.30" y="315.95" width="11.69" height="7.10" fill="#808080"/>
<rect x="336.54" y="315.95" width="11.69" height="7.10" fill="#909090"/>
<rect x="347.78" y="315.95" width="11.69" height="7.10" fill="#b4b4b4"/>
<rect x="359.02" y="315.95" width="11.69" height="7.10" fill="#cccccc"/>
<rect x="370.26" y="315.95" width="11.69" height="7.10" fill="#c8c8c8"/>
<rect x="381.50" y="315.95" width="11.69" height="7.10" fill="#9c9c9c"/>
<rect x="392.74" y="315.95" width="11.69" height="7.10" fill="#b0b0b0"/>
<rect x="403.98" y="315.95" width="11.24" height="7.10" fill="#888888"/>
<rect x="325.30" y="322.60" width="11.69" height="7.10" fill="#e0e0e0"/>
<rect x="336.54" y="322.60" width="11.69" height="7.10" fill="#fcf0f0"/>
<rect x="347.78" y="322.60" width="11.69" height="7.10" fill="#f1aaac"/>
<rect x="359.02" y="322.60" width="11.69" height="7.10" fill="#ed9193"/>
<rect x="370.26" y="322.60" width="11.69" height="7.10" fill="#f1aaac"/>
<rect x="381.50" y="322.60" width="11.69" height="7.10" fill="#fcf0f0"/>
<rect x="392.74" y="322.60" width="11.69" height="7.10" fill="#fcfcfc"/>
<rect x="403.98" y="322.60" width="11.24" height="7.10" fill="#c8c8c8"/>
<rect x="325.30" y="329.25" width="11.69" height="7.10" fill="#fafafa"/>
<rect x="336.54" y="329.25" width="11.69" height="7.10" fill="#fcf0f0"/>
<rect x="347.78" y="329.25" width="11.69" height="7.10" fill="#f1aaac"/>
<rect x="359.02" y="329.25" width="11.69" height="7.10" fill="#ed9193"/>
<rect x="370.26" y="329.25" width="11.69" height="7.10" fill="#f1aaac"/>
<rect x="381.50" y="329.25" width="11.69" height="7.10" fill="#fadfdf"/>
<rect x="392.74" y="329.25" width="11.69" height="7.10" fill="#fcf0f0"/>
<rect x="403.98" y="329.25" width="11.24" height="7.10" fill="#ececec"/>
<rect x="325.30" y="335.91" width="11.69" height="7.10" fill="#fadfdf"/>
<rect x="336.54" y="335.91" width="11.69" height="7.10" fill="#f6c6c7"/>
<rect x="347.78" y="335.91" width="11.69" height="7.10" fill="#e55e61"/>
<rect x="359.02" y="335.91" width="11.69" height="7.10" fill="#e55e61"/>
<rect x="370.26" y="335.91" width="11.69" height="7.10" fill="#e9777a"/>
<rect x="381.50" y="335.91" width="11.69" height="7.10" fill="#f6c6c7"/>
<rect x="392.74" y="335.91" width="11.69" height="7.10" fill="#f6c6c7"/>
<rect x="403.98" y="335.91" width="11.24" height="7.10" fill="#fadfdf"/>
<rect x="325.30" y="342.56" width="11.69" height="7.10" fill="#cccccc"/>
<rect x="336.54" y="342.56" width="11.69" height="7.10" fill="#fcf0f0"/>
<rect x="347.78" y="342.56" width="11.69" height="7.10" fill="#fadfdf"/>
<rect x="359.02" y="342.56" width="11.69" height="7.10" fill="#fadfdf"/>
<rect x="370.26" y="342.56" width="11.69" height="7.10" fill="#fadfdf"/>
<rect x="381.50" y="342.56" width="11.69" height="7.10" fill="#f0f0f0"/>
<rect x="392.74" y="342.56" width="11.69" height="7.10" fill="#e8e8e8"/>
<rect x="403.98" y="342.56" width="11.24" height="7.10" fill="#dcdcdc"/>
<rect x="325.30" y="349.21" width="11.69" height="7.10" fill="#c4c4c4"/>
<rect x="336.54" y="349.21" width="11.69" height="7.10" fill="#f4f4f4"/>
<rect x="347.78" y="349.21" width="11.69" height="7.10" fill="#fadfdf"/>
<rect x="359.02" y="349.21" width="11.69" height="7.10" fill="#fadfdf"/>
<rect x="370.26" y="349.21" width="11.69" height="7.10" fill="#fadfdf"/>
<rect x="381.50" y="349.21" width="11.69" height="7.10" fill="#ffffff"/>
<rect x="392.74" y="349.21" width="11.69" height="7.10" fill="#e8e8e8"/>
<rect x="403.98" y="349.21" width="11.24" height="7.10" fill="#ececec"/>
<rect x="325.30" y="355.86" width="11.69" height="7.10" fill="#080808"/>
<rect x="336.54" y="355.86" width="11.69" height="7.10" fill="#282828"/>
<rect x="347.78" y="355.86" width="11.69" height="7.10" fill="#141414"/>
<rect x="359.02" y="355.86" width="11.69" height="7.10" fill="#1c1c1c"/>
<rect x="370.26" y="355.86" width="11.69" height="7.10" fill="#101010"/>
<rect x="381.50" y="355.86" width="11.69" height="7.10" fill="#181818"/>
<rect x="392.74" y="355.86" width="11.69" height="7.10" fill="#202020"/>
<rect x="403.98" y="355.86" width="11.24" height="7.10" fill="#101010"/>
<rect x="325.30" y="362.51" width="11.69" height="7.10" fill="#d8d8d8"/>
<rect x="336.54" y="362.51" width="11.69" height="7.10" fill="#fafafa"/>
<rect x="347.78" y="362.51" width="11.69" height="7.10" fill="#f6c6c7"/>
<rect x="359.02" y="362.51" width="11.69" height="7.10" fill="#f1aaac"/>
<rect x="370.26" y="362.51" width="11.69" height="7.10" fill="#f6c6c7"/>
<rect x="381.50" y="362.51" width="11.69" height="7.10" fill="#f6f6f6"/>
<rect x="392.74" y="362.51" width="11.69" height="7.10" fill="#e4e4e4"/>
<rect x="403.98" y="362.51" width="11.24" height="7.10" fill="#c0c0c0"/>
<rect x="325.30" y="369.16" width="11.69" height="7.10" fill="#f4f4f4"/>
<rect x="336.54" y="369.16" width="11.69" height="7.10" fill="#f1aaac"/>
<rect x="347.78" y="369.16" width="11.69" height="7.10" fill="#e14548"/>
<rect x="359.02" y="369.16" width="11.69" height="7.10" fill="#de2c30"/>
<rect x="370.26" y="369.16" width="11.69" height="7.10" fill="#e14548"/>
<rect x="381.50" y="369.16" width="11.69" height="7.10" fill="#fadfdf"/>
<rect x="392.74" y="369.16" width="11.69" height="7.10" fill="#fcf0f0"/>
<rect x="403.98" y="369.16" width="11.24" height="7.10" fill="#e4e4e4"/>
<rect x="325.30" y="375.81" width="11.69" height="7.10" fill="#8c8c8c"/>
<rect x="336.54" y="375.81" width="11.69" height="7.10" fill="#fcf0f0"/>
<rect x="347.78" y="375.81" width="11.69" height="7.10" fill="#f6c6c7"/>
<rect x="359.02" y="375.81" width="11.69" height="7.10" fill="#f1aaac"/>
<rect x="370.26" y="375.81" width="11.69" height="7.10" fill="#f6c6c7"/>
<rect x="381.50" y="375.81" width="11.69" height="7.10" fill="#d4d4d4"/>
<rect x="392.74" y="375.81" width="11.69" height="7.10" fill="#a8a8a8"/>
<rect x="403.98" y="375.81" width="11.24" height="7.10" fill="#808080"/>
<rect x="325.30" y="382.46" width="11.69" height="7.10" fill="#fafafa"/>
<rect x="336.54" y="382.46" width="11.69" height="7.10" fill="#fadfdf"/>
<rect x="347.78" y="382.46" width="11.69" height="7.10" fill="#f1aaac"/>
<rect x="359.02" y="382.46" width="11.69" height="7.10" fill="#f1aaac"/>
<rect x="370.26" y="382.46" width="11.69" height="7.10" fill="#f6c6c7"/>
<rect x="381.50" y="382.46" width="11.69" height="7.10" fill="#fcf0f0"/>
<rect x="392.74" y="382.46" width="11.69" height="7.10" fill="#fcf0f0"/>
<rect x="403.98" y="382.46" width="11.24" height="7.10" fill="#fcf0f0"/>
<rect x="325.30" y="389.12" width="11.69" height="7.10" fill="#cccccc"/>
<rect x="336.54" y="389.12" width="11.69" height="7.10" fill="#f0f0f0"/>
<rect x="347.78" y="389.12" width="11.69" height="7.10" fill="#f4f4f4"/>
<rect x="359.02" y="389.12" width="11.69" height="7.10" fill="#e8e8e8"/>
<rect x="370.26" y="389.12" width="11.69" height="7.10" fill="#f6f6f6"/>
<rect x="381.50" y="389.12" width="11.69" height="7.10" fill="#fbfbfb"/>
<rect x="392.74" y="389.12" width="11.69" height="7.10" fill="#ececec"/>
<rect x="403.98" y="389.12" width="11.24" height="7.10" fill="#e0e0e0"/>
<rect x="325.30" y="395.77" width="11.69" height="7.10" fill="#e4e4e4"/>
<rect x="336.54" y="395.77" width="11.69" height="7.10" fill="#fbfbfb"/>
<rect x="347.78" y="395.77" width="11.69" height="7.10" fill="#fcf0f0"/>
<rect x="359.02" y="395.77" width="11.69" height="7.10" fill="#ffffff"/>
<rect x="370.26" y="395.77" width="11.69" height="7.10" fill="#fcf0f0"/>
<rect x="381.50" y="395.77" width="11.69" height="7.10" fill="#fcf0f0"/>
<rect x="392.74" y="395.77" width="11.69" height="7.10" fill="#ffffff"/>
<rect x="403.98" y="395.77" width="11.24" height="7.10" fill="#fcf0f0"/>
<rect x="325.30" y="402.42" width="11.69" height="7.10" fill="#727272"/>
<rect x="336.54" y="402.42" width="11.69" height="7.10" fill="#a8a8a8"/>
<rect x="347.78" y="402.42" width="11.69" height="7.10" fill="#ffffff"/>
<rect x="359.02" y="402.42" width="11.69" height="7.10" fill="#fcf0f0"/>
<rect x="370.26" y="402.42" width="11.69" height="7.10" fill="#fcf0f0"/>
<rect x="381.50" y="402.42" width="11.69" height="7.10" fill="#c0c0c0"/>
<rect x="392.74" y="402.42" width="11.69" height="7.10" fill="#b4b4b4"/>
<rect x="403.98" y="402.42" width="11.24" height="7.10" fill="#888888"/>
<rect x="325.30" y="409.07" width="11.69" height="7.10" fill="#6e6e6e"/>
<rect x="336.54" y="409.07" width="11.69" height="7.10" fill="#a8a8a8"/>
<rect x="347.78" y="409.07" width="11.69" height="7.10" fill="#c0c0c0"/>
<rect x="359.02" y="409.07" width="11.69" height="7.10" fill="#d0d0d0"/>
<rect x="370.26" y="409.07" width="11.69" height="7.10" fill="#f0f0f0"/>
<rect x="381.50" y="409.07" width="11.69" height="7.10" fill="#e0e0e0"/>
<rect x="392.74" y="409.07" width="11.69" height="7.10" fill="#b0b0b0"/>
<rect x="403.98" y="409.07" width="11.24" height="7.10" fill="#909090"/>
<rect x="325.30" y="415.72" width="11.69" height="7.10" fill="#f6c6c7"/>
<rect x="336.54" y="415.72" width="11.69" height="7.10" fill="#f1aaac"/>
<rect x="347.78" y="415.72" width="11.69" height="7.10" fill="#e14548"/>
<rect x="359.02" y="415.72" width="11.69" height="7.10" fill="#de2c30"/>
<rect x="370.26" y="415.72" width="11.69" height="7.10" fill="#e14548"/>
<rect x="381.50" y="415.72" width="11.69" height="7.10" fill="#f1aaac"/>
<rect x="392.74" y="415.72" width="11.69" height="7.10" fill="#f6c6c7"/>
<rect x="403.98" y="415.72" width="11.24" height="7.10" fill="#f6c6c7"/>
<rect x="325.30" y="422.37" width="11.69" height="7.10" fill="#e0e0e0"/>
<rect x="336.54" y="422.37" width="11.69" height="7.10" fill="#fadfdf"/>
<rect x="347.78" y="422.37" width="11.69" height="7.10" fill="#e9777a"/>
<rect x="359.02" y="422.37" width="11.69" height="7.10" fill="#e9777a"/>
<rect x="370.26" y="422.37" width="11.69" height="7.10" fill="#e9777a"/>
<rect x="381.50" y="422.37" width="11.69" height="7.10" fill="#fadfdf"/>
<rect x="392.74" y="422.37" width="11.69" height="7.10" fill="#fcfcfc"/>
<rect x="403.98" y="422.37" width="11.24" height="7.10" fill="#d8d8d8"/>
<rect x="325.30" y="429.02" width="11.69" height="7.10" fill="#e0e0e0"/>
<rect x="336.54" y="429.02" width="11.69" height="7.10" fill="#fcf0f0"/>
<rect x="347.78" y="429.02" width="11.69" height="7.10" fill="#ed9193"/>
<rect x="359.02" y="429.02" width="11.69" height="7.10" fill="#e9777a"/>
<rect x="370.26" y="429.02" width="11.69" height="7.10" fill="#ed9193"/>
<rect x="381.50" y="429.02" width="11.69" height="7.10" fill="#fcf0f0"/>
<rect x="392.74" y="429.02" width="11.69" height="7.10" fill="#f8f8f8"/>
<rect x="403.98" y="429.02" width="11.24" height="7.10" fill="#c4c4c4"/>
<rect x="325.30" y="435.68" width="11.69" height="7.10" fill="#6a6a6a"/>
<rect x="336.54" y="435.68" width="11.69" height="7.10" fill="#808080"/>
<rect x="347.78" y="435.68" width="11.69" height="7.10" fill="#727272"/>
<rect x="359.02" y="435.68" width="11.69" height="7.10" fill="#7a7a7a"/>
<rect x="370.26" y="435.68" width="11.69" height="7.10" fill="#7a7a7a"/>
<rect x="381.50" y="435.68" width="11.69" height="7.10" fill="#828282"/>
<rect x="392.74" y="435.68" width="11.69" height="7.10" fill="#727272"/>
<rect x="403.98" y="435.68" width="11.24" height="7.10" fill="#6e6e6e"/>
<rect x="325.30" y="442.33" width="11.69" height="7.10" fill="#f6c6c7"/>
<rect x="336.54" y="442.33" width="11.69" height="7.10" fill="#f6c6c7"/>
<rect x="347.78" y="442.33" width="11.69" height="7.10" fill="#f6c6c7"/>
<rect x="359.02" y="442.33" width="11.69" height="7.10" fill="#f6c6c7"/>
<rect x="370.26" y="442.33" width="11.69" height="7.10" fill="#f6c6c7"/>
<rect x="381.50" y="442.33" width="11.69" height="7.10" fill="#f6c6c7"/>
<rect x="392.74" y="442.33" width="11.69" height="7.10" fill="#f6c6c7"/>
<rect x="403.98" y="442.33" width="11.24" height="7.10" fill="#f6c6c7"/>
<rect x="325.30" y="448.98" width="11.69" height="7.10" fill="#ffffff"/>
<rect x="336.54" y="448.98" width="11.69" height="7.10" fill="#fadfdf"/>
<rect x="347.78" y="448.98" width="11.69" height="7.10" fill="#e55e61"/>
<rect x="359.02" y="448.98" width="11.69" height="7.10" fill="#e14548"/>
<rect x="370.26" y="448.98" width="11.69" height="7.10" fill="#e55e61"/>
<rect x="381.50" y="448.98" width="11.69" height="7.10" fill="#fadfdf"/>
<rect x="392.74" y="448.98" width="11.69" height="7.10" fill="#fcf0f0"/>
<rect x="403.98" y="448.98" width="11.24" height="7.10" fill="#fcfcfc"/>
<rect x="325.30" y="455.63" width="11.69" height="7.10" fill="#e8e8e8"/>
<rect x="336.54" y="455.63" width="11.69" height="7.10" fill="#fcf0f0"/>
<rect x="347.78" y="455.63" width="11.69" height="7.10" fill="#ed9193"/>
<rect x="359.02" y="455.63" width="11.69" height="7.10" fill="#e9777a"/>
<rect x="370.26" y="455.63" width="11.69" height="7.10" fill="#ed9193"/>
<rect x="381.50" y="455.63" width="11.69" height="7.10" fill="#fcf0f0"/>
<rect x="392.74" y="455.63" width="11.69" height="7.10" fill="#ffffff"/>
<rect x="403.98" y="455.63" width="11.24" height="7.10" fill="#e8e8e8"/>
<rect x="325.30" y="462.28" width="11.69" height="7.10" fill="#ffffff"/>
<rect x="336.54" y="462.28" width="11.69" height="7.10" fill="#fcf0f0"/>
<rect x="347.78" y="462.28" width="11.69" height="7.10" fill="#f1aaac"/>
<rect x="359.02" y="462.28" width="11.69" height="7.10" fill="#ed9193"/>
<rect x="370.26" y="462.28" width="11.69" height="7.10" fill="#f1aaac"/>
<rect x="381.50" y="462.28" width="11.69" height="7.10" fill="#fadfdf"/>
<rect x="392.74" y="462.28" width="11.69" height="7.10" fill="#fadfdf"/>
<rect x="403.98" y="462.28" width="11.24" height="7.10" fill="#fcfcfc"/>
<rect x="325.30" y="468.93" width="11.69" height="7.10" fill="#ffffff"/>
<rect x="336.54" y="468.93" width="11.69" height="7.10" fill="#fcf0f0"/>
<rect x="347.78" y="468.93" width="11.69" height="7.10" fill="#f1aaac"/>
<rect x="359.02" y="468.93" width="11.69" height="7.10" fill="#f1aaac"/>
<rect x="370.26" y="468.93" width="11.69" height="7.10" fill="#f1aaac"/>
<rect x="381.50" y="468.93" width="11.69" height="7.10" fill="#fcf0f0"/>
<rect x="392.74" y="468.93" width="11.69" height="7.10" fill="#fcf0f0"/>
<rect x="403.98" y="468.93" width="11.24" height="7.10" fill="#ffffff"/>
<rect x="325.30" y="475.58" width="11.69" height="7.10" fill="#e4e4e4"/>
<rect x="336.54" y="475.58" width="11.69" height="7.10" fill="#fcfcfc"/>
<rect x="347.78" y="475.58" width="11.69" height="7.10" fill="#fadfdf"/>
<rect x="359.02" y="475.58" width="11.69" height="7.10" fill="#f6c6c7"/>
<rect x="370.26" y="475.58" width="11.69" height="7.10" fill="#fadfdf"/>
<rect x="381.50" y="475.58" width="11.69" height="7.10" fill="#fcfcfc"/>
<rect x="392.74" y="475.58" width="11.69" height="7.10" fill="#e8e8e8"/>
<rect x="403.98" y="475.58" width="11.24" height="7.10" fill="#ffffff"/>
<rect x="325.30" y="482.24" width="11.69" height="7.10" fill="#fbfbfb"/>
<rect x="336.54" y="482.24" width="11.69" height="7.10" fill="#fcf0f0"/>
<rect x="347.78" y="482.24" width="11.69" height="7.10" fill="#f6c6c7"/>
<rect x="359.02" y="482.24" width="11.69" height="7.10" fill="#f1aaac"/>
<rect x="370.26" y="482.24" width="11.69" height="7.10" fill="#f1aaac"/>
<rect x="381.50" y="482.24" width="11.69" height="7.10" fill="#f6c6c7"/>
<rect x="392.74" y="482.24" width="11.69" height="7.10" fill="#fcf0f0"/>
<rect x="403.98" y="482.24" width="11.24" height="7.10" fill="#fadfdf"/>
<rect x="325.30" y="488.89" width="11.69" height="7.10" fill="#d4d4d4"/>
<rect x="336.54" y="488.89" width="11.69" height="7.10" fill="#ffffff"/>
<rect x="347.78" y="488.89" width="11.69" height="7.10" fill="#f6c6c7"/>
<rect x="359.02" y="488.89" width="11.69" height="7.10" fill="#f6c6c7"/>
<rect x="370.26" y="488.89" width="11.69" height="7.10" fill="#f6c6c7"/>
<rect x="381.50" y="488.89" width="11.69" height="7.10" fill="#f2f2f2"/>
<rect x="392.74" y="488.89" width="11.69" height="7.10" fill="#d8d8d8"/>
<rect x="403.98" y="488.89" width="11.24" height="7.10" fill="#cccccc"/>
<rect x="325.30" y="495.54" width="11.69" height="7.10" fill="#f2f2f2"/>
<rect x="336.54" y="495.54" width="11.69" height="7.10" fill="#fcf0f0"/>
<rect x="347.78" y="495.54" width="11.69" height="7.10" fill="#f1aaac"/>
<rect x="359.02" y="495.54" width="11.69" height="7.10" fill="#ed9193"/>
<rect x="370.26" y="495.54" width="11.69" height="7.10" fill="#f1aaac"/>
<rect x="381.50" y="495.54" width="11.69" height="7.10" fill="#fcf0f0"/>
<rect x="392.74" y="495.54" width="11.69" height="7.10" fill="#fbfbfb"/>
<rect x="403.98" y="495.54" width="11.24" height="7.10" fill="#fcfcfc"/>
<rect x="325.30" y="502.19" width="11.69" height="7.10" fill="#e8e8e8"/>
<rect x="336.54" y="502.19" width="11.69" height="7.10" fill="#fcf0f0"/>
<rect x="347.78" y="502.19" width="11.69" height="7.10" fill="#f1aaac"/>
<rect x="359.02" y="502.19" width="11.69" height="7.10" fill="#f1aaac"/>
<rect x="370.26" y="502.19" width="11.69" height="7.10" fill="#f1aaac"/>
<rect x="381.50" y="502.19" width="11.69" height="7.10" fill="#fcf0f0"/>
<rect x="392.74" y="502.19" width="11.69" height="7.10" fill="#fcfcfc"/>
<rect x="403.98" y="502.19" width="11.24" height="7.10" fill="#f8f8f8"/>
<rect x="325.30" y="508.84" width="11.69" height="7.10" fill="#fcf0f0"/>
<rect x="336.54" y="508.84" width="11.69" height="7.10" fill="#f6c6c7"/>
<rect x="347.78" y="508.84" width="11.69" height="7.10" fill="#ed9193"/>
<rect x="359.02" y="508.84" width="11.69" height="7.10" fill="#e9777a"/>
<rect x="370.26" y="508.84" width="11.69" height="7.10" fill="#ed9193"/>
<rect x="381.50" y="508.84" width="11.69" height="7.10" fill="#f6c6c7"/>
<rect x="392.74" y="508.84" width="11.69" height="7.10" fill="#fadfdf"/>
<rect x="403.98" y="508.84" width="11.24" height="7.10" fill="#fcf0f0"/>
<rect x="325.30" y="515.49" width="11.69" height="7.10" fill="#ed9193"/>
<rect x="336.54" y="515.49" width="11.69" height="7.10" fill="#ed9193"/>
<rect x="347.78" y="515.49" width="11.69" height="7.10" fill="#e14548"/>
<rect x="359.02" y="515.49" width="11.69" height="7.10" fill="#de2c30"/>
<rect x="370.26" y="515.49" width="11.69" height="7.10" fill="#e14548"/>
<rect x="381.50" y="515.49" width="11.69" height="7.10" fill="#e9777a"/>
<rect x="392.74" y="515.49" width="11.69" height="7.10" fill="#ed9193"/>
<rect x="403.98" y="515.49" width="11.24" height="7.10" fill="#ed9193"/>
<rect x="325.30" y="522.14" width="11.69" height="7.10" fill="#fadfdf"/>
<rect x="336.54" y="522.14" width="11.69" height="7.10" fill="#fadfdf"/>
<rect x="347.78" y="522.14" width="11.69" height="7.10" fill="#ed9193"/>
<rect x="359.02" y="522.14" width="11.69" height="7.10" fill="#e9777a"/>
<rect x="370.26" y="522.14" width="11.69" height="7.10" fill="#ed9193"/>
<rect x="381.50" y="522.14" width="11.69" height="7.10" fill="#f6c6c7"/>
<rect x="392.74" y="522.14" width="11.69" height="7.10" fill="#fadfdf"/>
<rect x="403.98" y="522.14" width="11.24" height="7.10" fill="#f6c6c7"/>
<rect x="325.30" y="528.79" width="11.69" height="7.10" fill="#fcf0f0"/>
<rect x="336.54" y="528.79" width="11.69" height="7.10" fill="#fcf0f0"/>
<rect x="347.78" y="528.79" width="11.69" height="7.10" fill="#f1aaac"/>
<rect x="359.02" y="528.79" width="11.69" height="7.10" fill="#ed9193"/>
<rect x="370.26" y="528.79" width="11.69" height="7.10" fill="#f1aaac"/>
<rect x="381.50" y="528.79" width="11.69" height="7.10" fill="#f6c6c7"/>
<rect x="392.74" y="528.79" width="11.69" height="7.10" fill="#fadfdf"/>
<rect x="403.98" y="528.79" width="11.24" height="7.10" fill="#fcf0f0"/>
<rect x="325.30" y="535.45" width="11.69" height="7.10" fill="#f4f4f4"/>
<rect x="336.54" y="535.45" width="11.69" height="7.10" fill="#fcf0f0"/>
<rect x="347.78" y="535.45" width="11.69" height="7.10" fill="#fcf0f0"/>
<rect x="359.02" y="535.45" width="11.69" height="7.10" fill="#fcf0f0"/>
<rect x="370.26" y="535.45" width="11.69" height="7.10" fill="#fcf0f0"/>
<rect x="381.50" y="535.45" width="11.69" height="7.10" fill="#fafafa"/>
<rect x="392.74" y="535.45" width="11.69" height="7.10" fill="#ececec"/>
<rect x="403.98" y="535.45" width="11.24" height="7.10" fill="#fcf0f0"/>
<rect x="325.30" y="542.10" width="11.69" height="7.10" fill="#989898"/>
<rect x="336.54" y="542.10" width="11.69" height="7.10" fill="#9c9c9c"/>
<rect x="347.78" y="542.10" width="11.69" height="7.10" fill="#909090"/>
<rect x="359.02" y="542.10" width="11.69" height="7.10" fill="#7c7c7c"/>
<rect x="370.26" y="542.10" width="11.69" height="7.10" fill="#888888"/>
<rect x="381.50" y="542.10" width="11.69" height="7.10" fill="#949494"/>
<rect x="392.74" y="542.10" width="11.69" height="7.10" fill="#989898"/>
<rect x="403.98" y="542.10" width="11.24" height="7.10" fill="#606060"/>
<rect x="325.30" y="548.75" width="11.69" height="6.65" fill="#ffffff"/>
<rect x="336.54" y="548.75" width="11.69" height="6.65" fill="#fcf0f0"/>
<rect x="347.78" y="548.75" width="11.69" height="6.65" fill="#f1aaac"/>
<rect x="359.02" y="548.75" width="11.69" height="6.65" fill="#ed9193"/>
<rect x="370.26" y="548.75" width="11.69" height="6.65" fill="#f1aaac"/>
<rect x="381.50" y="548.75" width="11.69" height="6.65" fill="#fcf0f0"/>
<rect x="392.74" y="548.75" width="11.69" height="6.65" fill="#fcfcfc"/>
<rect x="403.98" y="548.75" width="11.24" height="6.65" fill="#dcdcdc"/>
<rect x="325.30" y="309.30" width="89.92" height="246.10" fill="none" stroke="#8c8c8c" stroke-width="0.5"/>
<line x1="323.00" y1="312.63" x2="325.30" y2="312.63" stroke="#555" stroke-width="0.6"/>
<text x="321.10" y="314.59" font-size="5.45" text-anchor="end" font-style="italic">CMPK2</text>
<line x1="323.00" y1="319.28" x2="325.30" y2="319.28" stroke="#555" stroke-width="0.6"/>
<text x="321.10" y="321.24" font-size="5.45" text-anchor="end" font-style="italic">CXCL10</text>
<line x1="323.00" y1="325.93" x2="325.30" y2="325.93" stroke="#555" stroke-width="0.6"/>
<text x="321.10" y="327.89" font-size="5.45" text-anchor="end" font-style="italic">DDX58 (RIG-I)</text>
<line x1="323.00" y1="332.58" x2="325.30" y2="332.58" stroke="#555" stroke-width="0.6"/>
<text x="321.10" y="334.54" font-size="5.45" text-anchor="end" font-style="italic">DTX3L</text>
<line x1="323.00" y1="339.23" x2="325.30" y2="339.23" stroke="#555" stroke-width="0.6"/>
<text x="321.10" y="341.19" font-size="5.45" text-anchor="end" font-style="italic">EIF2AK2 (PKR)</text>
<line x1="323.00" y1="345.88" x2="325.30" y2="345.88" stroke="#555" stroke-width="0.6"/>
<text x="321.10" y="347.84" font-size="5.45" text-anchor="end" font-style="italic">HERC5</text>
<line x1="323.00" y1="352.53" x2="325.30" y2="352.53" stroke="#555" stroke-width="0.6"/>
<text x="321.10" y="354.50" font-size="5.45" text-anchor="end" font-style="italic">HSH2D</text>
<line x1="323.00" y1="359.19" x2="325.30" y2="359.19" stroke="#555" stroke-width="0.6"/>
<text x="321.10" y="361.15" font-size="5.45" text-anchor="end" font-style="italic">IFI35</text>
<line x1="323.00" y1="365.84" x2="325.30" y2="365.84" stroke="#555" stroke-width="0.6"/>
<text x="321.10" y="367.80" font-size="5.45" text-anchor="end" font-style="italic">IFI6</text>
<line x1="323.00" y1="372.49" x2="325.30" y2="372.49" stroke="#555" stroke-width="0.6"/>
<text x="321.10" y="374.45" font-size="5.45" text-anchor="end" font-style="italic">IFIH1 (MDA5)</text>
<line x1="323.00" y1="379.14" x2="325.30" y2="379.14" stroke="#555" stroke-width="0.6"/>
<text x="321.10" y="381.10" font-size="5.45" text-anchor="end" font-style="italic">IFIT2</text>
<line x1="323.00" y1="385.79" x2="325.30" y2="385.79" stroke="#555" stroke-width="0.6"/>
<text x="321.10" y="387.75" font-size="5.45" text-anchor="end" font-style="italic">IFIT3</text>
<line x1="323.00" y1="392.44" x2="325.30" y2="392.44" stroke="#555" stroke-width="0.6"/>
<text x="321.10" y="394.40" font-size="5.45" text-anchor="end" font-style="italic">IFIT5</text>
<line x1="323.00" y1="399.09" x2="325.30" y2="399.09" stroke="#555" stroke-width="0.6"/>
<text x="321.10" y="401.06" font-size="5.45" text-anchor="end" font-style="italic">IRF7</text>
<line x1="323.00" y1="405.74" x2="325.30" y2="405.74" stroke="#555" stroke-width="0.6"/>
<text x="321.10" y="407.71" font-size="5.45" text-anchor="end" font-style="italic">ISG15</text>
<line x1="323.00" y1="412.40" x2="325.30" y2="412.40" stroke="#555" stroke-width="0.6"/>
<text x="321.10" y="414.36" font-size="5.45" text-anchor="end" font-style="italic">ISG20</text>
<line x1="323.00" y1="419.05" x2="325.30" y2="419.05" stroke="#555" stroke-width="0.6"/>
<text x="321.10" y="421.01" font-size="5.45" text-anchor="end" font-style="italic">LGALS9</text>
<line x1="323.00" y1="425.70" x2="325.30" y2="425.70" stroke="#555" stroke-width="0.6"/>
<text x="321.10" y="427.66" font-size="5.45" text-anchor="end" font-style="italic">IFIT1</text>
<line x1="323.00" y1="432.35" x2="325.30" y2="432.35" stroke="#555" stroke-width="0.6"/>
<text x="321.10" y="434.31" font-size="5.45" text-anchor="end" font-style="italic">OAS1</text>
<line x1="323.00" y1="439.00" x2="325.30" y2="439.00" stroke="#555" stroke-width="0.6"/>
<text x="321.10" y="440.96" font-size="5.45" text-anchor="end" font-style="italic">MX1</text>
<line x1="323.00" y1="445.65" x2="325.30" y2="445.65" stroke="#555" stroke-width="0.6"/>
<text x="321.10" y="447.61" font-size="5.45" text-anchor="end" font-style="italic">MX2</text>
<line x1="323.00" y1="452.30" x2="325.30" y2="452.30" stroke="#555" stroke-width="0.6"/>
<text x="321.10" y="454.27" font-size="5.45" text-anchor="end" font-style="italic">OAS3</text>
<line x1="323.00" y1="458.96" x2="325.30" y2="458.96" stroke="#555" stroke-width="0.6"/>
<text x="321.10" y="460.92" font-size="5.45" text-anchor="end" font-style="italic">OASL</text>
<line x1="323.00" y1="465.61" x2="325.30" y2="465.61" stroke="#555" stroke-width="0.6"/>
<text x="321.10" y="467.57" font-size="5.45" text-anchor="end" font-style="italic">PARP12</text>
<line x1="323.00" y1="472.26" x2="325.30" y2="472.26" stroke="#555" stroke-width="0.6"/>
<text x="321.10" y="474.22" font-size="5.45" text-anchor="end" font-style="italic">PARP9</text>
<line x1="323.00" y1="478.91" x2="325.30" y2="478.91" stroke="#555" stroke-width="0.6"/>
<text x="321.10" y="480.87" font-size="5.45" text-anchor="end" font-style="italic">PML</text>
<line x1="323.00" y1="485.56" x2="325.30" y2="485.56" stroke="#555" stroke-width="0.6"/>
<text x="321.10" y="487.52" font-size="5.45" text-anchor="end" font-style="italic">PSMB9</text>
<line x1="323.00" y1="492.21" x2="325.30" y2="492.21" stroke="#555" stroke-width="0.6"/>
<text x="321.10" y="494.17" font-size="5.45" text-anchor="end" font-style="italic">RNF213</text>
<line x1="323.00" y1="498.86" x2="325.30" y2="498.86" stroke="#555" stroke-width="0.6"/>
<text x="321.10" y="500.83" font-size="5.45" text-anchor="end" font-style="italic">RTP4</text>
<line x1="323.00" y1="505.51" x2="325.30" y2="505.51" stroke="#555" stroke-width="0.6"/>
<text x="321.10" y="507.48" font-size="5.45" text-anchor="end" font-style="italic">SAMD9</text>
<line x1="323.00" y1="512.17" x2="325.30" y2="512.17" stroke="#555" stroke-width="0.6"/>
<text x="321.10" y="514.13" font-size="5.45" text-anchor="end" font-style="italic">SAMD9L</text>
<line x1="323.00" y1="518.82" x2="325.30" y2="518.82" stroke="#555" stroke-width="0.6"/>
<text x="321.10" y="520.78" font-size="5.45" text-anchor="end" font-style="italic">STAT1</text>
<line x1="323.00" y1="525.47" x2="325.30" y2="525.47" stroke="#555" stroke-width="0.6"/>
<text x="321.10" y="527.43" font-size="5.45" text-anchor="end" font-style="italic">STAT2</text>
<line x1="323.00" y1="532.12" x2="325.30" y2="532.12" stroke="#555" stroke-width="0.6"/>
<text x="321.10" y="534.08" font-size="5.45" text-anchor="end" font-style="italic">TAP1</text>
<line x1="323.00" y1="538.77" x2="325.30" y2="538.77" stroke="#555" stroke-width="0.6"/>
<text x="321.10" y="540.73" font-size="5.45" text-anchor="end" font-style="italic">TLR3</text>
<line x1="323.00" y1="545.42" x2="325.30" y2="545.42" stroke="#555" stroke-width="0.6"/>
<text x="321.10" y="547.38" font-size="5.45" text-anchor="end" font-style="italic">TRANK1</text>
<line x1="323.00" y1="552.07" x2="325.30" y2="552.07" stroke="#555" stroke-width="0.6"/>
<text x="321.10" y="554.04" font-size="5.45" text-anchor="end" font-style="italic">XAF1</text>
<line x1="330.92" y1="555.40" x2="330.92" y2="557.60" stroke="#666" stroke-width="0.5"/>
<text x="330.92" y="565.80" font-size="5.9" text-anchor="middle">1</text>
<line x1="342.16" y1="555.40" x2="342.16" y2="557.60" stroke="#666" stroke-width="0.5"/>
<text x="342.16" y="565.80" font-size="5.9" text-anchor="middle">2</text>
<line x1="353.40" y1="555.40" x2="353.40" y2="557.60" stroke="#666" stroke-width="0.5"/>
<text x="353.40" y="565.80" font-size="5.9" text-anchor="middle">3</text>
<line x1="364.64" y1="555.40" x2="364.64" y2="557.60" stroke="#666" stroke-width="0.5"/>
<text x="364.64" y="565.80" font-size="5.9" text-anchor="middle">4</text>
<line x1="375.88" y1="555.40" x2="375.88" y2="557.60" stroke="#666" stroke-width="0.5"/>
<text x="375.88" y="565.80" font-size="5.9" text-anchor="middle">5</text>
<line x1="387.12" y1="555.40" x2="387.12" y2="557.60" stroke="#666" stroke-width="0.5"/>
<text x="387.12" y="565.80" font-size="5.9" text-anchor="middle">6</text>
<line x1="398.36" y1="555.40" x2="398.36" y2="557.60" stroke="#666" stroke-width="0.5"/>
<text x="398.36" y="565.80" font-size="5.9" text-anchor="middle">7</text>
<line x1="409.60" y1="555.40" x2="409.60" y2="557.60" stroke="#666" stroke-width="0.5"/>
<text x="409.60" y="565.80" font-size="5.9" text-anchor="middle">8</text>
<rect x="419.20" y="309.20" width="9.80" height="40.50" fill="url(#cb)"/>
<text x="432.80" y="315.80" font-size="6.7">12</text>
<text x="432.80" y="327.10" font-size="6.7">9</text>
<text x="432.80" y="338.80" font-size="6.7">6</text>
<text x="432.80" y="350.40" font-size="6.7">3</text>
<text x="418.60" y="359.60" font-size="7.0">log<tspan font-size="0.6em" dy="1.6">2</tspan></text>
<text x="418.60" y="368.00" font-size="7.0" textLength="36.0" lengthAdjust="spacingAndGlyphs">(nCounter)</text>
<text x="421.00" y="388.20" font-size="6.9">1 D13-M</text>
<text x="421.00" y="396.70" font-size="6.9">2 D1</text>
<text x="421.00" y="405.20" font-size="6.9">3 D2</text>
<text x="421.00" y="413.70" font-size="6.9">4 D3</text>
<text x="421.00" y="422.20" font-size="6.9">5 D5</text>
<text x="421.00" y="430.70" font-size="6.9">6 D8</text>
<text x="421.00" y="439.20" font-size="6.9">7 D14</text>
<text x="421.00" y="447.70" font-size="6.9">8 D28</text>
</svg>
</body></html>
